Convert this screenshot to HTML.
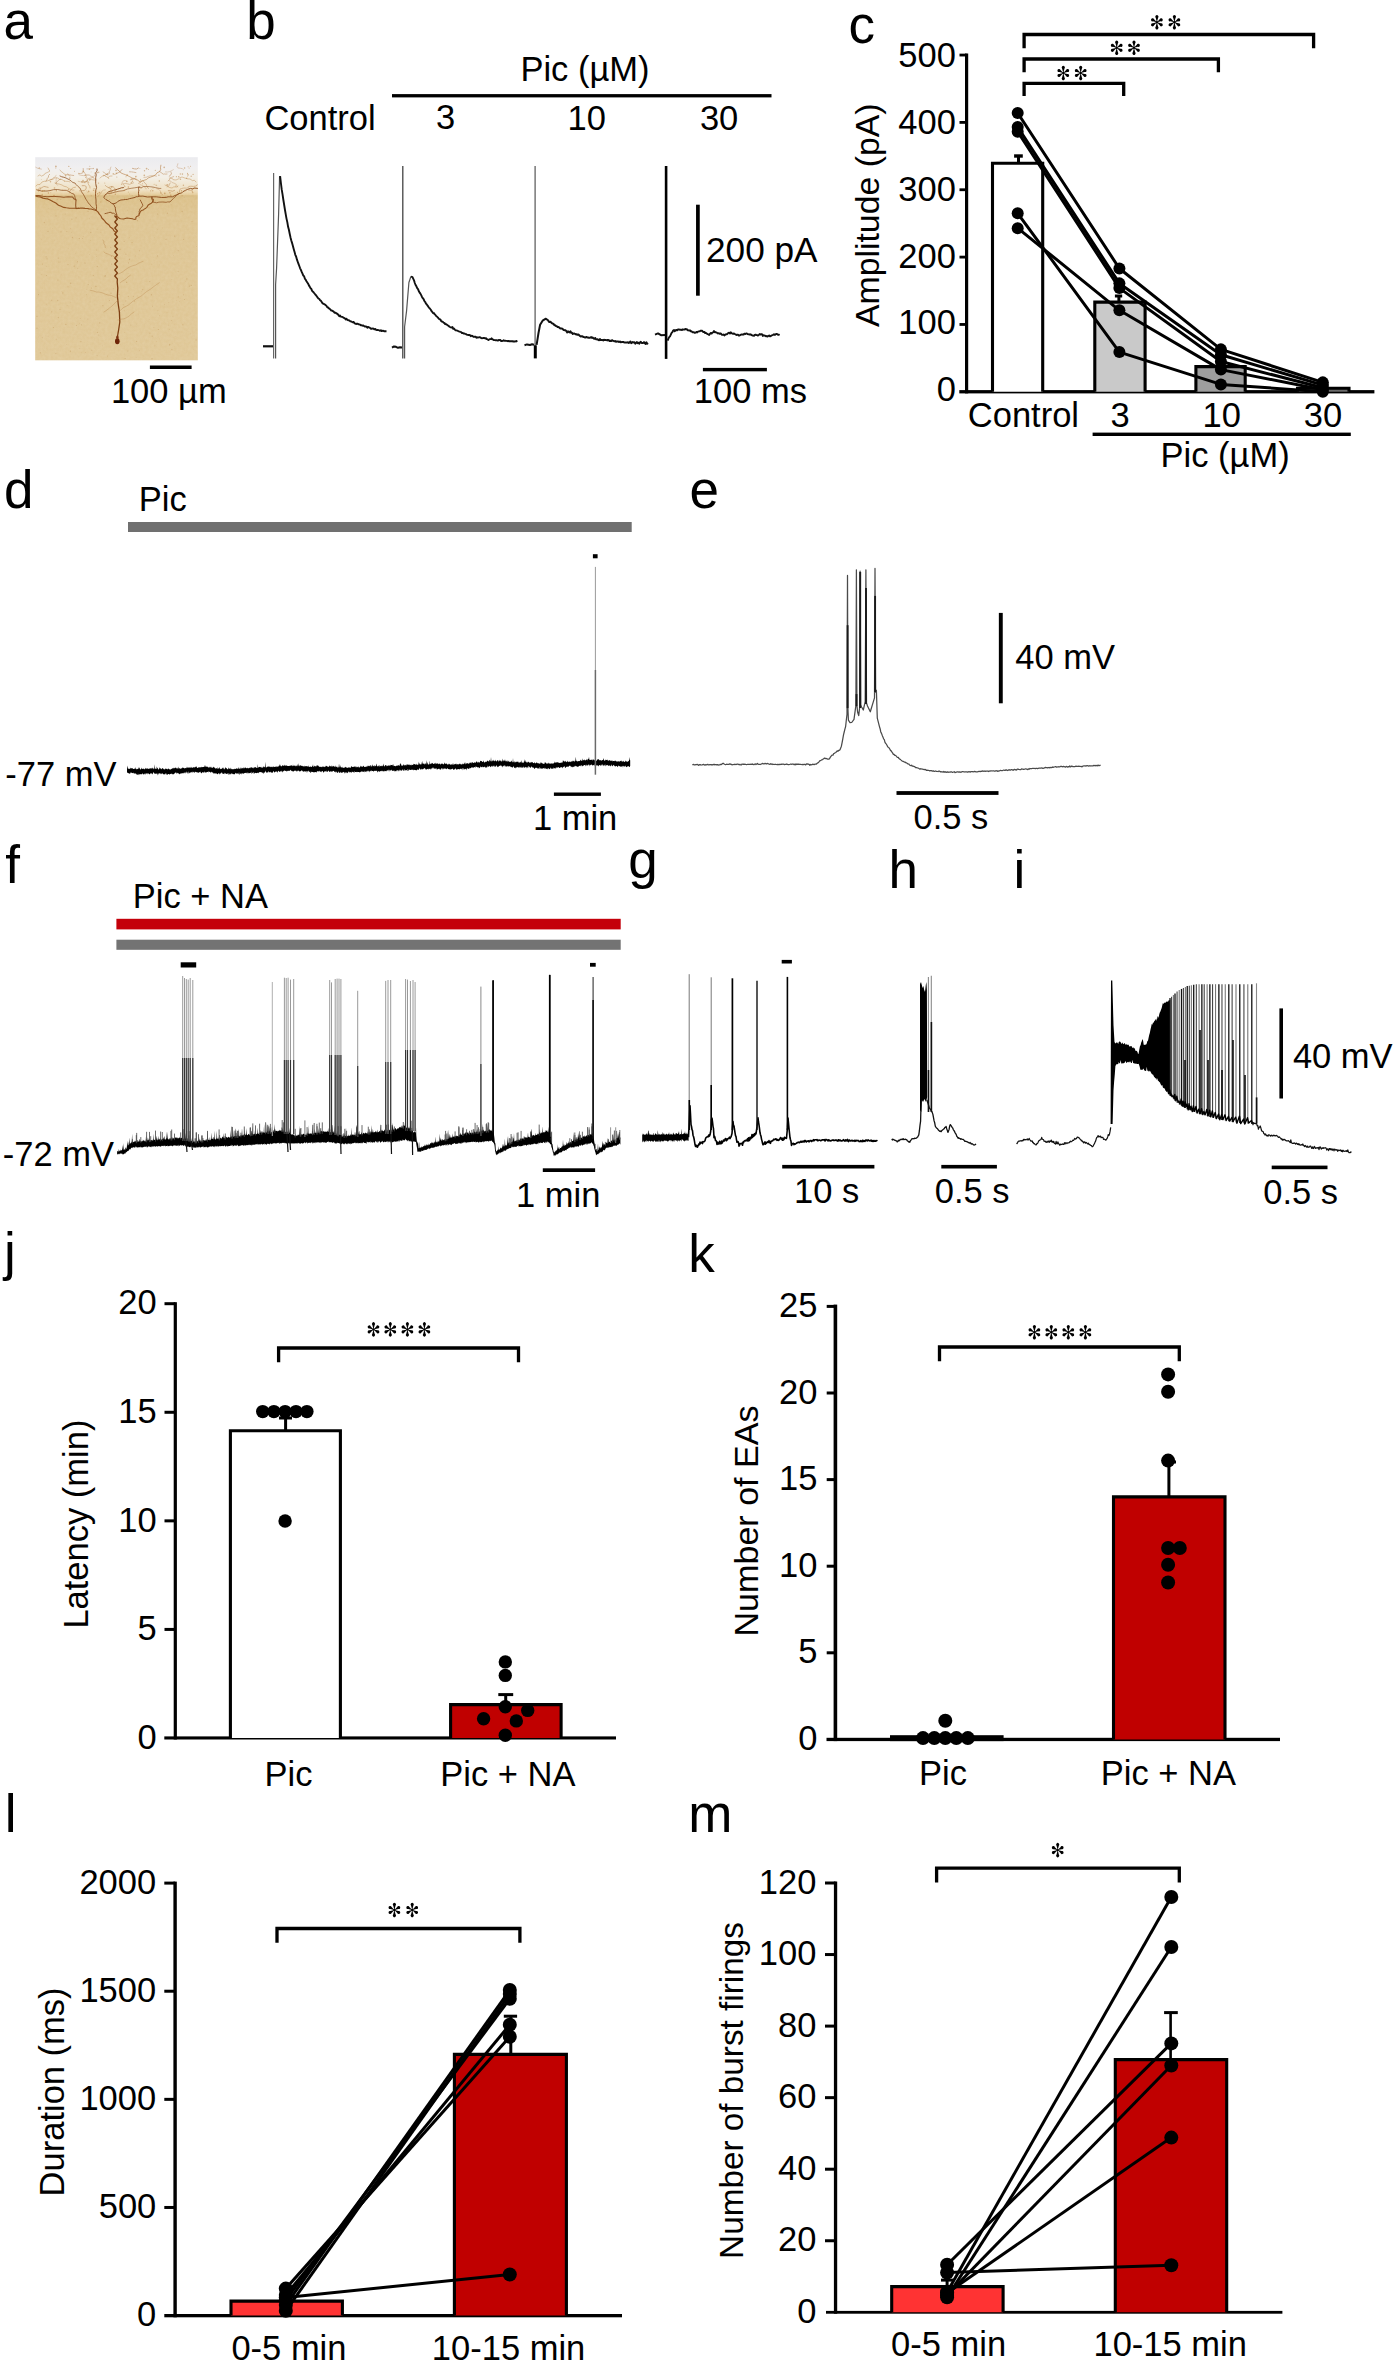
<!DOCTYPE html>
<html><head><meta charset="utf-8"><title>Figure</title><style>
html,body{margin:0;padding:0;background:#fff;}
body{width:1394px;height:2362px;overflow:hidden;}
svg{display:block;font-family:"Liberation Sans", sans-serif;}
</style></head><body>
<svg width="1394" height="2362" viewBox="0 0 1394 2362">
<rect width="1394" height="2362" fill="#fff"/>
<defs><g id="ast"><path d="M0,0 L-1.05,-3.6 A1.45,1.45 0 1 1 1.05,-3.6 Z" transform="rotate(0) scale(1,1.1)"/><path d="M0,0 L-1.05,-3.6 A1.45,1.45 0 1 1 1.05,-3.6 Z" transform="rotate(60) scale(1,1.0)"/><path d="M0,0 L-1.05,-3.6 A1.45,1.45 0 1 1 1.05,-3.6 Z" transform="rotate(120) scale(1,1.0)"/><path d="M0,0 L-1.05,-3.6 A1.45,1.45 0 1 1 1.05,-3.6 Z" transform="rotate(180) scale(1,1.1)"/><path d="M0,0 L-1.05,-3.6 A1.45,1.45 0 1 1 1.05,-3.6 Z" transform="rotate(240) scale(1,1.0)"/><path d="M0,0 L-1.05,-3.6 A1.45,1.45 0 1 1 1.05,-3.6 Z" transform="rotate(300) scale(1,1.0)"/><circle r="1.1"/></g><linearGradient id="ga" x1="0" y1="0" x2="0" y2="1"><stop offset="0" stop-color="#ebebef"/><stop offset="0.05" stop-color="#f0eff0"/><stop offset="0.10" stop-color="#f3efe6"/><stop offset="0.16" stop-color="#efe0c2"/><stop offset="0.185" stop-color="#e3c996"/><stop offset="0.19" stop-color="#d6b97f"/><stop offset="0.205" stop-color="#dabe86"/><stop offset="0.3" stop-color="#dcc28e"/><stop offset="1" stop-color="#dec593"/></linearGradient><filter id="tex" x="0" y="0" width="1" height="1"><feTurbulence type="fractalNoise" baseFrequency="0.35" numOctaves="2" seed="3"/><feColorMatrix values="0 0 0 0 1  0 0 0 0 0.97  0 0 0 0 0.88  0 0 0 0.16 0"/><feComposite in2="SourceGraphic" operator="in"/></filter></defs>
<text x="3.5" y="39.34" font-size="53" >a</text>
<text x="246.13" y="39.35" font-size="53" >b</text>
<text x="848.47" y="42.55" font-size="53" >c</text>
<text x="4.11" y="508.2" font-size="53" >d</text>
<text x="689.49" y="508.1" font-size="53" >e</text>
<text x="5.23" y="882.66" font-size="53" >f</text>
<text x="628.36" y="877.86" font-size="53" >g</text>
<text x="888.56" y="887.91" font-size="53" >h</text>
<text x="1013.52" y="887.91" font-size="53" >i</text>
<text x="4.11" y="1270.15" font-size="53" >j</text>
<text x="688.28" y="1272.06" font-size="53" >k</text>
<text x="4.72" y="1831.71" font-size="53" >l</text>
<text x="688.36" y="1831.51" font-size="53" >m</text>
<rect x="35.2" y="157.2" width="162.6" height="203.1" fill="url(#ga)"/>
<rect x="35.2" y="187.2" width="162.6" height="173.1" fill="#f6ead0" filter="url(#tex)"/>
<g fill="#b8894a" opacity="0.35"><circle cx="136.6" cy="341.4" r="0.61"/><circle cx="72.4" cy="237.5" r="0.65"/><circle cx="37.0" cy="328.2" r="0.62"/><circle cx="111.4" cy="238.0" r="0.41"/><circle cx="77.1" cy="262.7" r="0.50"/><circle cx="125.1" cy="358.5" r="0.62"/><circle cx="136.1" cy="357.4" r="0.39"/><circle cx="61.9" cy="291.8" r="0.32"/><circle cx="41.9" cy="274.8" r="0.49"/><circle cx="183.5" cy="294.7" r="0.51"/><circle cx="116.0" cy="228.3" r="0.30"/><circle cx="67.1" cy="305.7" r="0.38"/><circle cx="95.5" cy="185.9" r="0.63"/><circle cx="61.0" cy="231.8" r="0.65"/><circle cx="118.1" cy="332.7" r="0.56"/><circle cx="155.3" cy="201.1" r="0.52"/><circle cx="117.7" cy="336.9" r="0.44"/><circle cx="132.3" cy="195.5" r="0.46"/><circle cx="88.1" cy="211.3" r="0.63"/><circle cx="97.1" cy="355.6" r="0.54"/><circle cx="133.4" cy="296.3" r="0.57"/><circle cx="60.4" cy="261.9" r="0.40"/><circle cx="100.8" cy="202.0" r="0.69"/><circle cx="70.7" cy="302.2" r="0.42"/><circle cx="176.6" cy="300.5" r="0.35"/><circle cx="171.9" cy="349.7" r="0.66"/><circle cx="127.7" cy="210.5" r="0.38"/><circle cx="185.2" cy="281.4" r="0.37"/><circle cx="178.2" cy="296.9" r="0.53"/><circle cx="96.6" cy="256.7" r="0.40"/><circle cx="42.3" cy="337.7" r="0.49"/><circle cx="124.2" cy="241.3" r="0.60"/><circle cx="40.2" cy="250.0" r="0.31"/><circle cx="55.9" cy="353.6" r="0.56"/><circle cx="105.0" cy="276.4" r="0.65"/><circle cx="91.5" cy="288.0" r="0.57"/><circle cx="93.3" cy="275.6" r="0.61"/><circle cx="182.2" cy="211.5" r="0.67"/><circle cx="37.0" cy="316.3" r="0.62"/><circle cx="58.2" cy="258.1" r="0.63"/><circle cx="38.5" cy="294.6" r="0.62"/><circle cx="118.6" cy="311.6" r="0.39"/><circle cx="68.1" cy="248.4" r="0.37"/><circle cx="91.8" cy="350.3" r="0.53"/><circle cx="90.8" cy="232.5" r="0.68"/><circle cx="107.6" cy="355.9" r="0.51"/><circle cx="119.9" cy="341.3" r="0.60"/><circle cx="129.5" cy="259.5" r="0.65"/><circle cx="102.3" cy="345.9" r="0.33"/><circle cx="105.3" cy="275.6" r="0.68"/><circle cx="76.5" cy="325.5" r="0.57"/><circle cx="151.4" cy="294.8" r="0.69"/><circle cx="89.6" cy="254.5" r="0.38"/><circle cx="44.3" cy="222.3" r="0.67"/><circle cx="171.1" cy="204.8" r="0.54"/><circle cx="113.2" cy="288.7" r="0.56"/><circle cx="85.4" cy="352.6" r="0.49"/><circle cx="137.1" cy="295.8" r="0.37"/><circle cx="46.1" cy="256.8" r="0.61"/><circle cx="167.1" cy="312.3" r="0.35"/><circle cx="182.9" cy="324.8" r="0.65"/><circle cx="120.2" cy="344.6" r="0.32"/><circle cx="41.1" cy="188.7" r="0.40"/><circle cx="76.1" cy="217.8" r="0.53"/><circle cx="42.5" cy="288.0" r="0.37"/><circle cx="145.1" cy="188.9" r="0.42"/><circle cx="186.9" cy="278.9" r="0.62"/><circle cx="141.9" cy="291.5" r="0.38"/><circle cx="128.4" cy="192.1" r="0.62"/><circle cx="190.4" cy="333.9" r="0.32"/><circle cx="90.6" cy="240.6" r="0.35"/><circle cx="136.8" cy="324.0" r="0.43"/><circle cx="174.8" cy="324.0" r="0.35"/><circle cx="159.4" cy="338.9" r="0.38"/><circle cx="128.3" cy="296.4" r="0.54"/><circle cx="51.7" cy="300.3" r="0.55"/><circle cx="168.5" cy="325.1" r="0.43"/><circle cx="152.2" cy="336.2" r="0.66"/><circle cx="62.1" cy="189.8" r="0.56"/><circle cx="70.7" cy="283.3" r="0.68"/><circle cx="97.1" cy="229.2" r="0.48"/><circle cx="141.8" cy="202.8" r="0.45"/><circle cx="57.7" cy="300.5" r="0.63"/><circle cx="96.7" cy="249.9" r="0.52"/><circle cx="70.7" cy="228.3" r="0.43"/><circle cx="109.7" cy="199.4" r="0.60"/><circle cx="129.2" cy="237.4" r="0.33"/><circle cx="158.8" cy="208.0" r="0.35"/><circle cx="57.2" cy="199.3" r="0.66"/><circle cx="79.4" cy="238.5" r="0.63"/><circle cx="135.8" cy="217.8" r="0.47"/><circle cx="178.2" cy="250.6" r="0.58"/><circle cx="51.7" cy="311.8" r="0.61"/><circle cx="168.8" cy="302.6" r="0.45"/><circle cx="46.5" cy="275.5" r="0.60"/><circle cx="66.8" cy="231.6" r="0.51"/><circle cx="156.4" cy="341.3" r="0.35"/><circle cx="65.8" cy="324.4" r="0.56"/><circle cx="152.0" cy="358.7" r="0.68"/><circle cx="171.6" cy="320.5" r="0.46"/><circle cx="139.2" cy="217.3" r="0.60"/><circle cx="157.9" cy="310.8" r="0.48"/><circle cx="96.9" cy="258.3" r="0.31"/><circle cx="171.8" cy="279.6" r="0.46"/><circle cx="124.2" cy="310.8" r="0.45"/><circle cx="169.6" cy="345.3" r="0.45"/><circle cx="58.3" cy="317.6" r="0.70"/><circle cx="60.0" cy="309.3" r="0.63"/><circle cx="184.0" cy="206.7" r="0.34"/><circle cx="194.9" cy="205.5" r="0.37"/><circle cx="128.5" cy="262.9" r="0.60"/><circle cx="66.8" cy="344.4" r="0.39"/><circle cx="159.7" cy="197.0" r="0.49"/><circle cx="41.4" cy="239.8" r="0.42"/><circle cx="151.8" cy="264.4" r="0.32"/><circle cx="196.1" cy="339.9" r="0.67"/><circle cx="75.8" cy="253.8" r="0.39"/><circle cx="56.3" cy="190.9" r="0.50"/><circle cx="56.0" cy="215.9" r="0.64"/><circle cx="114.0" cy="217.2" r="0.57"/><circle cx="78.9" cy="276.9" r="0.41"/><circle cx="119.1" cy="294.6" r="0.51"/><circle cx="99.7" cy="322.9" r="0.65"/><circle cx="65.0" cy="208.9" r="0.35"/><circle cx="193.5" cy="349.1" r="0.39"/><circle cx="192.0" cy="221.4" r="0.50"/><circle cx="116.1" cy="344.5" r="0.32"/><circle cx="86.8" cy="289.7" r="0.33"/><circle cx="74.2" cy="266.2" r="0.65"/><circle cx="158.4" cy="329.5" r="0.60"/><circle cx="149.9" cy="333.1" r="0.57"/><circle cx="154.4" cy="237.7" r="0.37"/><circle cx="157.7" cy="214.1" r="0.67"/><circle cx="132.0" cy="242.6" r="0.67"/><circle cx="61.1" cy="274.8" r="0.34"/><circle cx="191.2" cy="285.4" r="0.62"/><circle cx="81.5" cy="324.8" r="0.58"/><circle cx="139.6" cy="350.7" r="0.47"/><circle cx="102.9" cy="305.7" r="0.63"/><circle cx="90.0" cy="301.8" r="0.38"/><circle cx="124.8" cy="319.1" r="0.33"/><circle cx="153.1" cy="187.9" r="0.68"/><circle cx="111.5" cy="256.4" r="0.59"/><circle cx="120.2" cy="312.4" r="0.33"/><circle cx="126.6" cy="282.4" r="0.67"/><circle cx="42.6" cy="264.0" r="0.55"/><circle cx="124.6" cy="198.1" r="0.54"/><circle cx="71.9" cy="219.2" r="0.65"/><circle cx="68.0" cy="264.3" r="0.60"/><circle cx="149.8" cy="281.6" r="0.62"/><circle cx="111.0" cy="293.2" r="0.63"/><circle cx="145.1" cy="296.9" r="0.46"/><circle cx="125.9" cy="254.2" r="0.60"/><circle cx="97.3" cy="266.4" r="0.60"/><circle cx="117.1" cy="244.1" r="0.63"/><circle cx="97.4" cy="332.3" r="0.61"/><circle cx="108.0" cy="309.3" r="0.31"/><circle cx="98.8" cy="335.0" r="0.53"/><circle cx="125.8" cy="300.9" r="0.57"/><circle cx="129.9" cy="258.4" r="0.37"/><circle cx="83.2" cy="236.2" r="0.47"/><circle cx="196.6" cy="246.6" r="0.48"/><circle cx="95.9" cy="286.4" r="0.68"/><circle cx="179.0" cy="250.9" r="0.41"/><circle cx="178.2" cy="271.2" r="0.57"/><circle cx="48.0" cy="336.1" r="0.43"/><circle cx="115.6" cy="219.7" r="0.47"/><circle cx="169.2" cy="329.3" r="0.49"/><circle cx="159.5" cy="264.9" r="0.45"/><circle cx="123.9" cy="220.3" r="0.43"/><circle cx="149.7" cy="319.3" r="0.32"/><circle cx="153.9" cy="327.5" r="0.48"/><circle cx="46.2" cy="304.1" r="0.40"/><circle cx="139.5" cy="250.8" r="0.55"/><circle cx="77.7" cy="268.2" r="0.51"/><circle cx="137.5" cy="220.6" r="0.68"/><circle cx="82.6" cy="238.5" r="0.40"/><circle cx="47.0" cy="258.8" r="0.61"/><circle cx="150.2" cy="219.2" r="0.35"/><circle cx="87.8" cy="319.0" r="0.50"/><circle cx="184.5" cy="299.5" r="0.55"/><circle cx="159.5" cy="315.8" r="0.44"/><circle cx="77.5" cy="261.4" r="0.50"/><circle cx="59.0" cy="262.0" r="0.56"/><circle cx="58.0" cy="209.2" r="0.37"/><circle cx="81.7" cy="352.6" r="0.31"/><circle cx="65.7" cy="213.9" r="0.49"/><circle cx="38.6" cy="265.0" r="0.37"/><circle cx="79.5" cy="323.2" r="0.37"/><circle cx="135.3" cy="255.9" r="0.47"/><circle cx="167.4" cy="213.2" r="0.67"/><circle cx="179.7" cy="301.6" r="0.32"/><circle cx="142.7" cy="289.7" r="0.61"/><circle cx="70.5" cy="351.2" r="0.65"/><circle cx="54.6" cy="240.1" r="0.31"/><circle cx="169.7" cy="344.5" r="0.70"/><circle cx="134.5" cy="301.1" r="0.57"/><circle cx="127.8" cy="351.0" r="0.54"/><circle cx="90.1" cy="274.5" r="0.31"/><circle cx="152.5" cy="306.0" r="0.47"/><circle cx="172.9" cy="316.7" r="0.43"/><circle cx="48.6" cy="208.2" r="0.37"/><circle cx="85.0" cy="263.1" r="0.67"/><circle cx="80.9" cy="341.6" r="0.57"/><circle cx="173.3" cy="255.4" r="0.30"/><circle cx="162.6" cy="227.9" r="0.36"/><circle cx="164.6" cy="304.7" r="0.38"/><circle cx="79.2" cy="348.7" r="0.41"/><circle cx="149.0" cy="207.8" r="0.63"/><circle cx="55.1" cy="275.0" r="0.31"/><circle cx="124.5" cy="332.6" r="0.33"/><circle cx="80.2" cy="318.3" r="0.54"/><circle cx="86.4" cy="294.7" r="0.48"/><circle cx="174.7" cy="236.2" r="0.60"/><circle cx="138.3" cy="314.1" r="0.45"/><circle cx="152.6" cy="306.8" r="0.45"/><circle cx="40.4" cy="352.8" r="0.59"/><circle cx="69.1" cy="312.4" r="0.41"/><circle cx="111.6" cy="334.9" r="0.48"/><circle cx="82.5" cy="238.4" r="0.33"/><circle cx="71.5" cy="232.4" r="0.37"/><circle cx="46.3" cy="266.3" r="0.39"/><circle cx="154.8" cy="345.8" r="0.41"/><circle cx="128.1" cy="273.4" r="0.33"/><circle cx="56.3" cy="339.2" r="0.49"/><circle cx="165.4" cy="196.8" r="0.54"/><circle cx="175.2" cy="336.2" r="0.30"/><circle cx="120.0" cy="249.4" r="0.60"/><circle cx="48.0" cy="231.3" r="0.63"/><circle cx="111.6" cy="264.1" r="0.69"/><circle cx="87.6" cy="192.5" r="0.46"/><circle cx="60.8" cy="199.5" r="0.53"/><circle cx="189.3" cy="286.1" r="0.56"/><circle cx="88.2" cy="284.6" r="0.60"/><circle cx="130.8" cy="325.0" r="0.52"/><circle cx="68.0" cy="286.7" r="0.50"/><circle cx="62.8" cy="293.0" r="0.63"/><circle cx="57.9" cy="280.1" r="0.59"/><circle cx="100.9" cy="232.2" r="0.45"/><circle cx="123.2" cy="304.7" r="0.52"/><circle cx="53.4" cy="327.6" r="0.67"/><circle cx="52.5" cy="228.6" r="0.37"/><circle cx="172.6" cy="343.7" r="0.32"/><circle cx="89.6" cy="218.7" r="0.49"/><circle cx="184.2" cy="197.4" r="0.37"/><circle cx="114.4" cy="276.4" r="0.60"/><circle cx="106.5" cy="209.8" r="0.44"/><circle cx="193.9" cy="315.9" r="0.35"/><circle cx="166.0" cy="239.3" r="0.61"/><circle cx="38.2" cy="336.9" r="0.36"/><circle cx="109.4" cy="300.4" r="0.50"/><circle cx="62.8" cy="209.4" r="0.41"/><circle cx="44.6" cy="222.9" r="0.35"/><circle cx="110.8" cy="247.3" r="0.53"/><circle cx="81.3" cy="191.1" r="0.43"/><circle cx="157.5" cy="229.7" r="0.46"/><circle cx="157.4" cy="256.0" r="0.65"/><circle cx="183.6" cy="239.3" r="0.59"/><circle cx="76.9" cy="209.5" r="0.48"/><circle cx="133.0" cy="348.1" r="0.36"/></g>
<polyline points="117.2,338.0 118.6,330.0 119.8,322.0 119.4,312.0 118.2,304.0 117.4,296.0 117.8,288.0 117.2,282.0 117.4,279.0 114.8,276.0 117.4,273.0 114.8,270.0 117.4,267.0 114.8,264.0 117.4,261.0 114.8,258.0 117.4,255.0 114.8,252.0 117.4,249.0 114.8,246.0 117.4,243.0 114.8,240.0 117.4,237.0 114.8,234.0 117.4,231.0 114.8,228.0 117.4,225.0 114.8,222.0 117.4,219.0 114.8,216.0 117.0,216.8" fill="none" stroke="#7e3f12" stroke-width="1.3" stroke-linejoin="round" stroke-linejoin="miter"/>
<ellipse cx="117.3" cy="341.2" rx="2.3" ry="3.0" fill="#6e2408"/>
<ellipse cx="117.4" cy="337.5" rx="1.2" ry="2" fill="#7e3412"/>
<polyline points="116.0,233.0 115.3,231.8 114.0,230.9 113.0,229.0 111.4,227.7 110.2,226.9 109.0,225.0 107.0,223.5 106.1,222.8 105.0,221.3 103.9,220.0 101.8,218.0 101.0,216.0 99.2,213.9 97.9,211.9 96.0,210.4 93.6,209.8 92.1,209.2 91.0,209.0 89.1,208.9 87.6,208.5 85.0,208.4 82.5,208.1 80.8,208.0 79.2,208.4 78.3,208.1 76.4,208.5 76.0,208.2 72.7,208.2 69.6,208.2 66.3,207.8 63.7,207.4 61.2,206.2 58.5,205.2 55.8,203.0 52.8,201.6 50.1,200.0 47.8,198.9 45.9,198.8 43.0,198.1 40.2,196.9 38.2,196.8 36.0,196.2" fill="none" stroke="#8e4c18" stroke-width="1.15" stroke-linejoin="round" opacity="0.95" stroke-linecap="round"/>
<polyline points="76.0,208.2 75.7,205.5 75.8,202.9 76.0,200.0 74.6,199.0 74.1,199.0 72.7,197.1 68.0,196.8 63.8,197.2 59.8,196.8 55.1,196.6 51.2,196.5 46.9,196.8 42.9,196.2 38.9,195.4 36.0,195.5" fill="none" stroke="#8a4818" stroke-width="1.05" stroke-linejoin="round" opacity="0.9" stroke-linecap="round"/>
<polyline points="76.0,200.0 75.2,198.1 74.6,195.5 74.0,194.2 71.3,193.2 69.1,191.6 66.3,190.3 61.7,190.3 57.5,189.5 53.4,189.7 49.9,190.6 47.0,191.0 43.7,191.0 41.3,191.0 39.0,190.3 37.0,190.0" fill="none" stroke="#8a4818" stroke-width="0.9" stroke-linejoin="round" opacity="0.8" stroke-linecap="round"/>
<polyline points="96.0,210.4 95.5,209.5 93.2,208.1 92.0,207.0 91.1,206.4 89.8,204.3 88.9,203.9 87.3,201.3 85.9,199.2 84.4,196.2 83.2,194.1 81.4,191.7 80.5,189.0 79.7,187.8 77.6,186.1 76.0,184.5 75.1,183.1 72.9,182.5 71.4,181.3 69.9,180.0 67.9,179.0 66.0,178.0 64.0,177.3 61.6,176.7 60.0,176.0" fill="none" stroke="#8a4818" stroke-width="0.9" stroke-linejoin="round" opacity="0.8" stroke-linecap="round"/>
<polyline points="96.3,210.4 96.5,206.6 96.0,203.7 96.0,200.0 95.6,196.7 95.5,193.7 95.8,190.0 96.6,187.4 95.7,183.6 95.7,180.0 95.7,177.7 96.2,174.8 95.7,172.9 96.5,171.6 97.1,170.4 97.0,169.0" fill="none" stroke="#8a4818" stroke-width="1.0" stroke-linejoin="round" opacity="0.85" stroke-linecap="round"/>
<polyline points="105.0,213.6 106.4,213.3 108.6,212.7 110.0,212.3 111.3,212.4 111.6,213.2 113.5,213.2 114.8,213.9 115.7,214.8 116.8,215.0" fill="none" stroke="#8a4818" stroke-width="0.9" stroke-linejoin="round" opacity="0.9" stroke-linecap="round"/>
<polyline points="117.0,216.8 118.1,217.2 119.5,218.5 120.9,218.7 123.6,219.0 127.1,218.1 130.6,218.4 132.5,218.7 133.1,218.9 135.1,219.4 135.9,219.0 135.8,217.8 136.4,216.8 137.5,216.1 138.3,215.9 139.0,215.5 139.2,214.0 139.9,212.9 140.3,211.6 141.4,210.6 143.3,210.0 144.2,209.1 145.8,208.2 146.9,207.3 148.0,205.2 149.4,204.2 151.4,203.2 153.2,201.3 153.4,199.3 152.0,198.9 151.9,197.4" fill="none" stroke="#8e4c18" stroke-width="1.05" stroke-linejoin="round" opacity="0.95" stroke-linecap="round"/>
<polyline points="117.0,216.8 116.8,214.8 116.0,212.4 115.5,210.0 115.4,208.8 115.2,206.9 114.5,206.5 114.3,205.3 114.0,204.7 113.2,203.9 111.2,203.0 109.4,201.4 108.0,200.7 106.0,199.6 105.3,198.9 103.7,197.4 104.1,196.9 104.6,195.7 105.0,194.9 106.5,194.2 107.5,192.6 108.9,191.6 110.3,191.2 111.6,191.1 113.4,190.3 115.4,189.8 117.4,189.2 119.9,188.4 121.4,187.8 123.3,187.7 124.0,187.1" fill="none" stroke="#8a4818" stroke-width="1.0" stroke-linejoin="round" opacity="0.9" stroke-linecap="round"/>
<polyline points="113.2,203.9 116.4,202.9 118.1,201.2 120.9,200.0 123.2,199.8 125.3,199.5 127.4,199.4 129.3,198.7 131.8,198.2 135.1,197.4 136.1,196.7 137.6,196.7 139.0,196.2 138.5,193.5 138.6,191.4 139.0,190.0 138.7,189.6 138.6,188.3 139.0,187.1" fill="none" stroke="#8a4818" stroke-width="1.0" stroke-linejoin="round" opacity="0.9" stroke-linecap="round"/>
<polyline points="139.0,187.1 134.7,187.8 131.2,188.3 127.4,189.0 123.3,190.7 118.9,191.2 114.5,192.3 112.0,192.9 110.1,193.5 108.0,193.6" fill="none" stroke="#8a4818" stroke-width="0.8" stroke-linejoin="round" opacity="0.75" stroke-linecap="round"/>
<polyline points="139.0,187.1 141.6,187.5 143.4,186.6 146.7,186.5 149.2,186.6 150.8,186.8 153.2,187.1 155.3,187.6 159.2,188.4 160.9,188.4" fill="none" stroke="#8a4818" stroke-width="0.8" stroke-linejoin="round" opacity="0.75" stroke-linecap="round"/>
<polyline points="139.0,196.2 142.9,196.1 147.5,197.0 151.9,196.8 156.3,196.8 161.7,197.5 166.1,197.4 168.1,196.8 169.9,196.8 172.6,196.8 174.0,196.0 176.6,194.8 179.0,193.6 181.8,192.9 182.9,191.7 185.5,190.3 187.6,189.4 188.6,189.0 190.6,188.4 192.3,188.9 194.4,188.0 197.5,188.4" fill="none" stroke="#8a4818" stroke-width="1.0" stroke-linejoin="round" opacity="0.9" stroke-linecap="round"/>
<polyline points="140.3,200.0 141.1,201.7 142.1,203.6 142.9,205.2 141.7,207.3 140.0,208.7 139.6,210.4 139.1,211.7 139.3,212.6 139.0,214.2" fill="none" stroke="#8a4818" stroke-width="0.9" stroke-linejoin="round" opacity="0.9" stroke-linecap="round"/>
<polyline points="151.9,196.8 151.9,198.8 152.4,200.0 152.5,202.0 156.7,202.8 158.9,202.1 162.9,202.0 166.1,202.3 167.7,201.9 170.0,202.0 170.9,200.8 171.9,200.1 173.2,198.7 175.0,196.8 176.6,195.3 179.0,193.6" fill="none" stroke="#8a4818" stroke-width="0.9" stroke-linejoin="round" opacity="0.8" stroke-linecap="round"/>
<polyline points="115.7,167.7 117.1,169.4 119.5,171.3 120.9,172.9 123.2,173.9 125.3,174.6 127.4,175.5 129.9,176.8 132.2,178.1 135.1,178.7 136.8,179.5 138.4,180.7 140.3,182.0 142.5,180.9 145.0,180.0 146.7,179.4 148.1,178.0 150.3,177.2 153.2,176.1 155.7,174.8 157.0,172.8 159.6,171.6 160.7,169.6 160.5,167.7 160.9,165.2" fill="none" stroke="#b27436" stroke-width="0.8" stroke-linejoin="round" opacity="0.7" stroke-linecap="round"/>
<polyline points="159.6,171.6 161.8,172.9 162.2,173.5 163.5,174.2 164.9,173.9 165.5,174.1 167.0,174.0" fill="none" stroke="#b27436" stroke-width="0.7" stroke-linejoin="round" opacity="0.6" stroke-linecap="round"/>
<polyline points="36.0,186.0 37.5,184.6 40.0,184.5 42.0,182.0 44.2,181.3 47.3,180.9 50.0,180.0 53.2,179.1 54.9,177.8 58.0,178.0 59.5,179.3 62.0,179.5 64.0,181.0 65.8,181.3 68.3,181.4 70.0,182.0" fill="none" stroke="#b8813f" stroke-width="0.75" stroke-linejoin="round" opacity="0.55" stroke-linecap="round"/>
<polyline points="38.0,176.0 39.9,174.8 41.4,176.1 44.0,175.0 44.9,173.5 48.1,172.1 50.0,171.0 48.9,170.0 48.7,169.0 48.0,168.0" fill="none" stroke="#b8813f" stroke-width="0.75" stroke-linejoin="round" opacity="0.55" stroke-linecap="round"/>
<polyline points="55.0,183.0 56.4,183.6 59.2,184.1 62.0,185.0 64.1,186.3 66.4,186.8 68.0,188.0 70.5,189.3 72.6,190.0 74.0,190.0" fill="none" stroke="#b8813f" stroke-width="0.75" stroke-linejoin="round" opacity="0.55" stroke-linecap="round"/>
<polyline points="84.0,172.0 84.6,173.2 85.7,174.0 86.0,176.0 86.8,177.7 87.1,179.1 88.0,182.0 88.2,184.0 89.8,186.5 90.0,188.0" fill="none" stroke="#b8813f" stroke-width="0.75" stroke-linejoin="round" opacity="0.55" stroke-linecap="round"/>
<polyline points="100.0,178.0 101.3,176.9 102.3,176.2 104.0,175.0 105.2,176.3 107.5,177.0 108.0,178.0 108.6,176.9 109.9,176.1 112.0,176.0" fill="none" stroke="#b8813f" stroke-width="0.75" stroke-linejoin="round" opacity="0.55" stroke-linecap="round"/>
<polyline points="170.0,178.0 172.7,178.8 173.2,179.7 176.0,180.0 178.6,178.8 179.7,177.8 182.0,177.0 184.8,178.0 187.9,178.9 190.0,179.0 192.6,180.7 194.3,180.2 196.0,182.0" fill="none" stroke="#b8813f" stroke-width="0.75" stroke-linejoin="round" opacity="0.55" stroke-linecap="round"/>
<polyline points="165.0,185.0 167.3,186.2 169.5,187.5 172.0,188.0 173.8,186.9 176.7,187.0 178.0,186.0" fill="none" stroke="#b8813f" stroke-width="0.75" stroke-linejoin="round" opacity="0.55" stroke-linecap="round"/>
<polyline points="60.0,170.0 61.4,171.8 63.2,172.8 64.0,174.0 64.8,174.3 67.8,174.8 70.0,176.0" fill="none" stroke="#b8813f" stroke-width="0.75" stroke-linejoin="round" opacity="0.55" stroke-linecap="round"/>
<polyline points="60.7,179.2 58.7,179.9 57.7,181.3 56.5,182.5 54.9,183.6" fill="none" stroke="#a8692c" stroke-width="0.7" stroke-linejoin="round" opacity="0.54" stroke-linecap="round" stroke-dasharray="1.6 0.9"/>
<polyline points="105.4,185.5 106.7,186.7 108.5,187.6 110.1,188.7 111.7,189.8 110.5,191.1 110.0,192.6" fill="none" stroke="#a8692c" stroke-width="0.7" stroke-linejoin="round" opacity="0.60" stroke-linecap="round" stroke-dasharray="1.6 0.9"/>
<polyline points="78.2,181.3 80.3,181.8 82.5,182.0 84.6,181.7 86.8,181.8 88.9,182.3" fill="none" stroke="#a8692c" stroke-width="0.7" stroke-linejoin="round" opacity="0.38" stroke-linecap="round" stroke-dasharray="1.6 0.9"/>
<polyline points="138.6,183.3 140.4,182.4 141.3,181.0 140.5,179.5" fill="none" stroke="#a8692c" stroke-width="0.7" stroke-linejoin="round" opacity="0.61" stroke-linecap="round" stroke-dasharray="1.6 0.9"/>
<polyline points="93.4,168.6 91.2,168.6 89.0,168.8 86.8,168.9" fill="none" stroke="#a8692c" stroke-width="0.7" stroke-linejoin="round" opacity="0.44" stroke-linecap="round" stroke-dasharray="1.6 0.9"/>
<polyline points="143.9,177.4 146.1,177.3 148.0,176.5 150.0,175.8 152.2,175.8 154.4,175.7 156.4,176.2" fill="none" stroke="#a8692c" stroke-width="0.7" stroke-linejoin="round" opacity="0.47" stroke-linecap="round" stroke-dasharray="1.6 0.9"/>
<polyline points="130.3,179.8 132.4,179.3 134.6,179.0 136.4,179.9" fill="none" stroke="#a8692c" stroke-width="0.7" stroke-linejoin="round" opacity="0.58" stroke-linecap="round" stroke-dasharray="1.6 0.9"/>
<polyline points="173.7,176.6 171.7,177.3 169.8,178.2 169.4,179.7 168.1,180.9" fill="none" stroke="#a8692c" stroke-width="0.7" stroke-linejoin="round" opacity="0.52" stroke-linecap="round" stroke-dasharray="1.6 0.9"/>
<polyline points="56.1,175.6 54.7,176.8 53.5,178.0 52.0,179.2 50.0,179.8" fill="none" stroke="#a8692c" stroke-width="0.7" stroke-linejoin="round" opacity="0.50" stroke-linecap="round" stroke-dasharray="1.6 0.9"/>
<polyline points="81.9,190.7 84.1,190.6 85.7,189.6 86.2,188.1 86.2,186.5 84.4,185.6 82.2,185.7" fill="none" stroke="#a8692c" stroke-width="0.7" stroke-linejoin="round" opacity="0.61" stroke-linecap="round" stroke-dasharray="1.6 0.9"/>
<polyline points="135.9,172.6 133.8,172.2 131.7,171.9 129.5,171.8" fill="none" stroke="#a8692c" stroke-width="0.7" stroke-linejoin="round" opacity="0.59" stroke-linecap="round" stroke-dasharray="1.6 0.9"/>
<polyline points="105.4,189.9 103.3,190.2 101.8,191.3 101.3,192.8 100.3,194.2 98.7,195.3 97.8,196.7" fill="none" stroke="#a8692c" stroke-width="0.7" stroke-linejoin="round" opacity="0.38" stroke-linecap="round" stroke-dasharray="1.6 0.9"/>
<polyline points="108.4,173.0 106.7,174.0 105.2,175.2 103.3,175.9" fill="none" stroke="#a8692c" stroke-width="0.7" stroke-linejoin="round" opacity="0.64" stroke-linecap="round" stroke-dasharray="1.6 0.9"/>
<polyline points="148.6,188.4 147.1,187.2 146.6,185.7 146.3,184.2 144.8,183.1 144.0,181.7 142.4,180.6" fill="none" stroke="#a8692c" stroke-width="0.7" stroke-linejoin="round" opacity="0.52" stroke-linecap="round" stroke-dasharray="1.6 0.9"/>
<polyline points="94.1,178.6 93.3,177.2 94.2,175.8 95.1,174.4 94.7,172.9" fill="none" stroke="#a8692c" stroke-width="0.7" stroke-linejoin="round" opacity="0.49" stroke-linecap="round" stroke-dasharray="1.6 0.9"/>
<polyline points="182.3,168.6 180.1,168.2 178.0,168.0 177.0,166.6 177.5,165.1 177.9,163.6" fill="none" stroke="#a8692c" stroke-width="0.7" stroke-linejoin="round" opacity="0.42" stroke-linecap="round" stroke-dasharray="1.6 0.9"/>
<polyline points="84.8,175.2 87.0,175.0 89.2,175.0 90.7,176.1 92.7,176.8" fill="none" stroke="#a8692c" stroke-width="0.7" stroke-linejoin="round" opacity="0.58" stroke-linecap="round" stroke-dasharray="1.6 0.9"/>
<polyline points="103.1,171.9 104.7,172.9 106.0,174.2 107.8,175.0" fill="none" stroke="#a8692c" stroke-width="0.7" stroke-linejoin="round" opacity="0.54" stroke-linecap="round" stroke-dasharray="1.6 0.9"/>
<polyline points="188.4,187.6 186.3,188.1 184.1,188.0 181.9,188.4 180.0,189.1 179.5,190.6 179.4,192.2" fill="none" stroke="#a8692c" stroke-width="0.7" stroke-linejoin="round" opacity="0.51" stroke-linecap="round" stroke-dasharray="1.6 0.9"/>
<polyline points="40.0,187.5 38.8,188.8 38.4,190.3 39.1,191.7" fill="none" stroke="#a8692c" stroke-width="0.7" stroke-linejoin="round" opacity="0.59" stroke-linecap="round" stroke-dasharray="1.6 0.9"/>
<polyline points="188.3,189.9 190.4,190.3 192.6,190.1 192.8,188.6 195.0,188.4" fill="none" stroke="#a8692c" stroke-width="0.7" stroke-linejoin="round" opacity="0.61" stroke-linecap="round" stroke-dasharray="1.6 0.9"/>
<polyline points="167.5,187.0 168.8,185.7 169.3,184.2 170.4,182.9" fill="none" stroke="#a8692c" stroke-width="0.7" stroke-linejoin="round" opacity="0.62" stroke-linecap="round" stroke-dasharray="1.6 0.9"/>
<polyline points="49.7,174.3 48.5,175.6 48.5,177.1 47.3,178.4 46.9,179.9 46.0,181.3" fill="none" stroke="#a8692c" stroke-width="0.7" stroke-linejoin="round" opacity="0.61" stroke-linecap="round" stroke-dasharray="1.6 0.9"/>
<polyline points="188.8,186.5 191.0,186.2 193.1,186.4 195.3,186.2 197.1,185.3 197.3,184.7" fill="none" stroke="#a8692c" stroke-width="0.7" stroke-linejoin="round" opacity="0.57" stroke-linecap="round" stroke-dasharray="1.6 0.9"/>
<polyline points="169.2,176.2 170.7,175.1 171.4,173.7 171.0,172.1" fill="none" stroke="#a8692c" stroke-width="0.7" stroke-linejoin="round" opacity="0.63" stroke-linecap="round" stroke-dasharray="1.6 0.9"/>
<polyline points="138.4,168.0 136.8,169.0 134.6,168.9 132.5,168.4" fill="none" stroke="#a8692c" stroke-width="0.7" stroke-linejoin="round" opacity="0.69" stroke-linecap="round" stroke-dasharray="1.6 0.9"/>
<polyline points="108.9,187.5 110.8,186.7 113.0,186.7 114.4,187.9 115.4,189.2 115.7,190.8 114.6,192.1" fill="none" stroke="#a8692c" stroke-width="0.7" stroke-linejoin="round" opacity="0.64" stroke-linecap="round" stroke-dasharray="1.6 0.9"/>
<polyline points="41.4,169.1 39.3,168.7 37.3,168.1 35.7,167.2" fill="none" stroke="#a8692c" stroke-width="0.7" stroke-linejoin="round" opacity="0.43" stroke-linecap="round" stroke-dasharray="1.6 0.9"/>
<polyline points="168.3,190.7 170.5,190.8 172.6,191.2 174.5,190.4" fill="none" stroke="#a8692c" stroke-width="0.7" stroke-linejoin="round" opacity="0.63" stroke-linecap="round" stroke-dasharray="1.6 0.9"/>
<polyline points="169.0,180.7 171.0,181.2 172.1,182.5 174.1,183.2 176.0,184.0 176.6,185.5 177.4,186.9" fill="none" stroke="#a8692c" stroke-width="0.7" stroke-linejoin="round" opacity="0.41" stroke-linecap="round" stroke-dasharray="1.6 0.9"/>
<polyline points="96.4,179.9 94.2,180.0 92.0,179.7 89.9,179.4" fill="none" stroke="#a8692c" stroke-width="0.7" stroke-linejoin="round" opacity="0.48" stroke-linecap="round" stroke-dasharray="1.6 0.9"/>
<polyline points="38.6,191.0 40.1,189.8 40.5,188.3 42.2,187.4 44.1,186.5 46.2,186.9 48.3,187.4" fill="none" stroke="#a8692c" stroke-width="0.7" stroke-linejoin="round" opacity="0.65" stroke-linecap="round" stroke-dasharray="1.6 0.9"/>
<polyline points="133.6,182.8 131.5,183.4 129.8,184.3 127.7,183.9 125.6,183.4 123.5,183.8" fill="none" stroke="#a8692c" stroke-width="0.7" stroke-linejoin="round" opacity="0.49" stroke-linecap="round" stroke-dasharray="1.6 0.9"/>
<polyline points="106.2,174.6 108.4,174.4 109.6,173.1 109.4,171.6 110.1,170.1 110.3,168.6 110.9,167.1" fill="none" stroke="#a8692c" stroke-width="0.7" stroke-linejoin="round" opacity="0.51" stroke-linecap="round" stroke-dasharray="1.6 0.9"/>
<polyline points="146.3,188.6 144.8,187.5 143.6,186.2 141.8,185.3 140.0,184.5" fill="none" stroke="#a8692c" stroke-width="0.7" stroke-linejoin="round" opacity="0.44" stroke-linecap="round" stroke-dasharray="1.6 0.9"/>
<polyline points="56.4,177.9 56.1,179.4 56.2,181.0 56.3,182.5 56.3,184.0 57.5,185.3" fill="none" stroke="#a8692c" stroke-width="0.7" stroke-linejoin="round" opacity="0.36" stroke-linecap="round" stroke-dasharray="1.6 0.9"/>
<polyline points="67.5,174.0 69.4,174.8 71.5,175.2 73.7,175.5" fill="none" stroke="#a8692c" stroke-width="0.7" stroke-linejoin="round" opacity="0.59" stroke-linecap="round" stroke-dasharray="1.6 0.9"/>
<polyline points="75.5,187.2 73.4,187.6 71.8,188.6 70.9,190.0 69.7,191.3 69.4,192.9" fill="none" stroke="#a8692c" stroke-width="0.7" stroke-linejoin="round" opacity="0.53" stroke-linecap="round" stroke-dasharray="1.6 0.9"/>
<polyline points="116.7,173.4 118.5,172.6 120.3,171.6 121.2,170.3 122.5,169.0" fill="none" stroke="#a8692c" stroke-width="0.7" stroke-linejoin="round" opacity="0.69" stroke-linecap="round" stroke-dasharray="1.6 0.9"/>
<polyline points="82.7,182.1 84.9,182.0 86.7,181.1 87.9,179.8 88.5,178.4 90.7,178.1 92.7,177.5" fill="none" stroke="#a8692c" stroke-width="0.7" stroke-linejoin="round" opacity="0.58" stroke-linecap="round" stroke-dasharray="1.6 0.9"/>
<polyline points="156.8,188.8 158.8,189.3 160.0,190.6 160.8,192.0 161.0,193.6 162.6,194.6" fill="none" stroke="#a8692c" stroke-width="0.7" stroke-linejoin="round" opacity="0.36" stroke-linecap="round" stroke-dasharray="1.6 0.9"/>
<polyline points="78.9,174.7 80.9,175.3 83.1,175.6 85.3,175.6" fill="none" stroke="#a8692c" stroke-width="0.7" stroke-linejoin="round" opacity="0.40" stroke-linecap="round" stroke-dasharray="1.6 0.9"/>
<polyline points="165.5,171.9 167.7,172.0 169.8,171.6 171.6,170.7 173.3,169.7" fill="none" stroke="#a8692c" stroke-width="0.7" stroke-linejoin="round" opacity="0.38" stroke-linecap="round" stroke-dasharray="1.6 0.9"/>
<polyline points="127.1,181.0 125.0,180.4 123.0,181.0 122.2,182.4 122.9,183.9 124.0,185.2 125.3,186.4" fill="none" stroke="#a8692c" stroke-width="0.7" stroke-linejoin="round" opacity="0.45" stroke-linecap="round" stroke-dasharray="1.6 0.9"/>
<polyline points="78.4,173.4 80.5,173.6 82.5,173.0 83.5,171.6 83.3,170.1 83.2,168.5" fill="none" stroke="#a8692c" stroke-width="0.7" stroke-linejoin="round" opacity="0.59" stroke-linecap="round" stroke-dasharray="1.6 0.9"/>
<g fill="#b47a38" opacity="0.5"><circle cx="192.3" cy="191.6" r="0.61"/><circle cx="108.7" cy="178.5" r="0.52"/><circle cx="189.1" cy="168.1" r="0.50"/><circle cx="142.5" cy="183.7" r="0.54"/><circle cx="186.7" cy="178.3" r="0.70"/><circle cx="50.8" cy="192.7" r="0.45"/><circle cx="99.5" cy="192.6" r="0.87"/><circle cx="181.4" cy="190.8" r="0.52"/><circle cx="41.3" cy="179.6" r="0.43"/><circle cx="190.5" cy="166.2" r="0.56"/><circle cx="68.8" cy="166.4" r="0.65"/><circle cx="48.4" cy="193.0" r="0.74"/><circle cx="95.6" cy="191.2" r="0.80"/><circle cx="88.6" cy="191.4" r="0.86"/><circle cx="135.8" cy="176.6" r="0.85"/><circle cx="187.6" cy="176.4" r="0.44"/><circle cx="175.6" cy="185.9" r="0.52"/><circle cx="127.2" cy="175.2" r="0.86"/><circle cx="91.1" cy="171.9" r="0.42"/><circle cx="91.2" cy="195.7" r="0.51"/><circle cx="109.8" cy="195.2" r="0.40"/><circle cx="83.6" cy="190.6" r="0.45"/><circle cx="185.3" cy="191.0" r="0.47"/><circle cx="131.3" cy="182.7" r="0.75"/><circle cx="85.5" cy="177.5" r="0.52"/><circle cx="83.1" cy="171.3" r="0.85"/><circle cx="178.7" cy="176.8" r="0.75"/><circle cx="114.9" cy="174.4" r="0.57"/><circle cx="191.2" cy="176.2" r="0.69"/><circle cx="188.0" cy="174.9" r="0.80"/><circle cx="54.5" cy="188.0" r="0.80"/><circle cx="170.7" cy="195.3" r="0.76"/><circle cx="193.1" cy="174.4" r="0.66"/><circle cx="70.6" cy="168.5" r="0.62"/><circle cx="151.8" cy="189.4" r="0.41"/><circle cx="187.5" cy="173.4" r="0.55"/><circle cx="169.9" cy="192.8" r="0.77"/><circle cx="89.7" cy="179.9" r="0.82"/><circle cx="93.6" cy="190.2" r="0.79"/><circle cx="111.5" cy="192.9" r="0.59"/><circle cx="156.6" cy="185.2" r="0.57"/><circle cx="121.6" cy="184.2" r="0.67"/><circle cx="54.0" cy="195.7" r="0.88"/><circle cx="42.2" cy="194.3" r="0.67"/><circle cx="56.4" cy="190.6" r="0.62"/><circle cx="150.7" cy="190.8" r="0.67"/><circle cx="44.2" cy="190.7" r="0.75"/><circle cx="182.4" cy="174.1" r="0.79"/><circle cx="176.4" cy="176.7" r="0.61"/><circle cx="89.8" cy="166.2" r="0.52"/><circle cx="89.4" cy="169.3" r="0.78"/><circle cx="104.8" cy="183.0" r="0.54"/><circle cx="94.1" cy="188.6" r="0.63"/><circle cx="132.0" cy="178.7" r="0.68"/><circle cx="180.3" cy="174.0" r="0.66"/><circle cx="146.6" cy="168.6" r="0.88"/><circle cx="116.3" cy="173.4" r="0.78"/><circle cx="167.2" cy="184.9" r="0.86"/><circle cx="50.5" cy="181.8" r="0.77"/><circle cx="183.4" cy="185.2" r="0.70"/><circle cx="98.5" cy="183.1" r="0.68"/><circle cx="181.5" cy="190.8" r="0.77"/><circle cx="184.6" cy="168.0" r="0.78"/><circle cx="110.7" cy="188.6" r="0.55"/><circle cx="111.3" cy="190.7" r="0.42"/><circle cx="83.0" cy="180.7" r="0.83"/><circle cx="79.6" cy="190.7" r="0.52"/><circle cx="84.9" cy="182.6" r="0.73"/><circle cx="177.5" cy="192.4" r="0.53"/><circle cx="155.9" cy="185.0" r="0.59"/><circle cx="160.8" cy="192.9" r="0.64"/><circle cx="183.3" cy="169.8" r="0.48"/><circle cx="158.9" cy="175.2" r="0.69"/><circle cx="116.0" cy="170.4" r="0.78"/><circle cx="155.3" cy="170.4" r="0.53"/><circle cx="164.8" cy="193.4" r="0.84"/><circle cx="116.8" cy="177.0" r="0.62"/><circle cx="64.5" cy="180.9" r="0.52"/><circle cx="62.2" cy="177.4" r="0.43"/><circle cx="111.7" cy="186.9" r="0.73"/><circle cx="192.8" cy="192.6" r="0.72"/><circle cx="180.4" cy="179.3" r="0.80"/><circle cx="81.9" cy="181.8" r="0.89"/><circle cx="132.4" cy="181.2" r="0.79"/><circle cx="86.4" cy="190.9" r="0.41"/><circle cx="74.5" cy="171.3" r="0.53"/><circle cx="188.1" cy="166.7" r="0.55"/><circle cx="128.4" cy="187.1" r="0.79"/><circle cx="97.8" cy="172.6" r="0.83"/><circle cx="55.8" cy="168.0" r="0.52"/><circle cx="115.3" cy="194.3" r="0.76"/><circle cx="126.8" cy="181.6" r="0.75"/><circle cx="136.8" cy="176.1" r="0.45"/><circle cx="68.5" cy="189.5" r="0.72"/><circle cx="164.2" cy="167.3" r="0.85"/><circle cx="97.6" cy="193.8" r="0.70"/><circle cx="124.1" cy="190.5" r="0.71"/><circle cx="144.5" cy="170.7" r="0.70"/><circle cx="93.5" cy="168.3" r="0.47"/><circle cx="113.3" cy="173.9" r="0.78"/><circle cx="55.9" cy="166.4" r="0.90"/><circle cx="86.5" cy="181.3" r="0.51"/><circle cx="69.7" cy="178.1" r="0.79"/><circle cx="42.5" cy="191.1" r="0.90"/><circle cx="126.0" cy="176.8" r="0.52"/><circle cx="65.6" cy="175.7" r="0.83"/><circle cx="36.7" cy="189.6" r="0.73"/><circle cx="39.3" cy="168.1" r="0.77"/><circle cx="144.3" cy="175.4" r="0.83"/><circle cx="70.0" cy="178.8" r="0.46"/><circle cx="139.9" cy="168.6" r="0.49"/><circle cx="159.3" cy="181.0" r="0.73"/><circle cx="154.1" cy="184.2" r="0.50"/><circle cx="148.4" cy="169.5" r="0.53"/><circle cx="108.2" cy="169.4" r="0.45"/><circle cx="141.0" cy="188.3" r="0.59"/><circle cx="98.8" cy="172.2" r="0.66"/><circle cx="129.4" cy="194.0" r="0.42"/><circle cx="182.1" cy="195.7" r="0.57"/><circle cx="152.8" cy="190.7" r="0.73"/></g>
<polyline points="117.9,274.0 120.4,273.1 122.6,271.9 125.0,270.0 127.0,268.6 129.3,267.2 132.0,266.0 135.8,264.9 139.1,262.9 143.0,261.4" fill="none" stroke="#b57d40" stroke-width="0.6" stroke-linejoin="round" opacity="0.55" stroke-linecap="round"/>
<polyline points="120.4,282.7 122.2,281.2 123.8,280.3 126.0,279.0 126.9,277.8 128.9,276.3 130.4,275.2" fill="none" stroke="#b57d40" stroke-width="0.6" stroke-linejoin="round" opacity="0.55" stroke-linecap="round"/>
<polyline points="116.6,297.8 113.4,296.5 111.4,295.5 108.0,295.0 105.5,294.2 101.9,292.7 99.0,292.0 96.4,292.0 92.9,290.8 90.3,290.3" fill="none" stroke="#b57d40" stroke-width="0.6" stroke-linejoin="round" opacity="0.55" stroke-linecap="round"/>
<polyline points="105.3,247.6 105.2,246.5 105.0,245.0 104.0,244.0 103.8,242.3 103.8,241.1 102.8,240.0" fill="none" stroke="#b57d40" stroke-width="0.6" stroke-linejoin="round" opacity="0.55" stroke-linecap="round"/>
<polyline points="120.4,310.3 123.6,307.5 128.1,305.3 132.0,302.0 136.6,298.7 141.5,295.8 146.0,292.0 150.4,289.2 155.0,285.7 159.3,282.7" fill="none" stroke="#b57d40" stroke-width="0.6" stroke-linejoin="round" opacity="0.55" stroke-linecap="round"/>
<polyline points="118.0,300.0 116.0,302.0 113.7,304.4 112.0,306.0 108.9,308.4 107.0,310.0 104.0,312.0" fill="none" stroke="#b57d40" stroke-width="0.6" stroke-linejoin="round" opacity="0.55" stroke-linecap="round"/>
<polyline points="118.0,320.0 120.4,319.3 123.5,318.9 126.0,318.0 128.8,316.3 131.2,314.1 134.0,312.0" fill="none" stroke="#b57d40" stroke-width="0.6" stroke-linejoin="round" opacity="0.55" stroke-linecap="round"/>
<polyline points="118.0,258.0 114.9,257.2 112.7,255.9 110.0,255.0 108.3,254.2 105.2,253.0 104.0,252.0" fill="none" stroke="#b57d40" stroke-width="0.6" stroke-linejoin="round" opacity="0.55" stroke-linecap="round"/>
<rect x="149.90" y="365.50" width="41.70" height="3.50" fill="#000"/>
<text x="110.9" y="402.5" font-size="34.5" >100 µm</text>
<text x="520.44" y="81.03" font-size="34.5" >Pic (µM)</text>
<rect x="392.00" y="94.10" width="379.50" height="3.30" fill="#000"/>
<text x="264.46" y="129.73" font-size="34.5" >Control</text>
<text x="436.11" y="129.3" font-size="34.5" >3</text>
<text x="567.6" y="129.85" font-size="34.5" >10</text>
<text x="699.9" y="129.85" font-size="34.5" >30</text>
<polyline points="263.0,346.3 273.6,346.3" fill="none" stroke="#111" stroke-width="2.2" stroke-linejoin="round" />
<line x1="273.60" y1="173.10" x2="273.60" y2="358.40" stroke="#666" stroke-width="1.2" />
<polyline points="275.6,358.4 275.6,284.5 276.6,268.0 278.6,214.2 279.6,176.1" fill="none" stroke="#555" stroke-width="1.2" stroke-linejoin="round" />
<polyline points="280.1,176.1 280.9,183.0 281.7,189.4 282.5,194.1 283.3,199.5 284.1,204.5 284.9,209.5 285.7,214.1 286.5,218.6 287.3,222.1 288.1,226.8 288.9,229.8 289.7,233.7 290.5,237.4 291.3,240.5 292.1,243.1 292.9,246.1 293.7,249.0 294.5,251.8 295.3,254.8 296.1,256.5 296.9,259.4 297.7,261.7 298.5,263.9 299.3,266.0 300.1,268.3 300.9,269.9 301.7,271.9 302.5,273.6 303.3,275.6 304.1,276.2 304.9,278.7 305.7,279.8 306.5,281.3 307.3,282.5 308.1,283.6 308.9,285.4 309.7,286.6 310.5,288.2 311.3,288.8 312.1,290.8 312.9,291.6 313.7,292.5 314.5,293.5 315.3,294.5 316.1,295.4 316.9,296.5 317.7,297.6 318.5,298.5 319.3,299.0 320.1,300.2 320.9,300.8 321.7,302.0 322.5,303.3 323.3,303.7 324.1,304.1 324.9,304.5 325.7,305.2 326.5,305.9 327.3,307.3 328.1,307.5 328.9,308.4 329.7,308.8 330.5,309.6 331.3,310.6 332.1,310.6 332.9,311.2 333.7,311.6 334.5,312.7 335.3,312.7 336.1,313.1 336.9,313.6 337.7,314.1 338.5,315.1 339.3,316.2 340.1,315.6 340.9,316.7 341.7,316.9 342.5,316.9 343.3,317.6 344.1,318.0 344.9,318.3 345.7,319.5 346.5,318.7 347.3,319.8 348.1,320.2 348.9,320.3 349.7,320.8 350.5,321.4 351.3,321.5 352.1,322.0 352.9,322.4 353.7,321.9 354.5,323.3 355.3,323.8 356.1,323.7 356.9,324.0 357.7,323.6 358.5,324.3 359.3,324.4 360.1,324.7 360.9,325.4 361.7,325.2 362.5,325.7 363.3,325.4 364.1,326.2 364.9,326.5 365.7,326.5 366.5,326.7 367.3,327.7 368.1,327.0 368.9,327.3 369.7,327.6 370.5,328.4 371.3,328.9 372.1,328.6 372.9,328.5 373.7,328.8 374.5,329.4 375.3,329.0 376.1,329.9 376.9,330.1 377.7,329.9 378.5,330.2 379.3,330.4 380.1,330.8 380.9,330.2 381.7,331.1 382.5,330.8 383.3,330.8 384.1,331.2 384.9,331.3 385.7,331.2 386.5,331.2" fill="none" stroke="#111" stroke-width="1.9" stroke-linejoin="round" />
<polyline points="392.0,347.6 394.0,346.4 396.0,346.8 398.0,347.8 400.0,347.3 402.1,347.5" fill="none" stroke="#111" stroke-width="2.0" stroke-linejoin="round" />
<line x1="402.80" y1="166.00" x2="402.80" y2="358.40" stroke="#444" stroke-width="1.3" />
<polyline points="404.6,358.4 404.6,326.7 406.6,310.6 408.9,282.5 410.9,276.5" fill="none" stroke="#555" stroke-width="1.2" stroke-linejoin="round" />
<polyline points="410.9,276.5 412.5,277.2 414.0,280.3 414.8,283.0 415.6,285.0 416.4,286.3 417.2,288.2 418.0,289.2 418.8,291.0 419.6,292.6 420.4,293.6 421.2,295.1 422.0,296.9 422.8,298.2 423.6,299.2 424.4,301.0 425.2,302.0 426.0,303.7 426.8,304.5 427.6,305.6 428.4,306.8 429.2,307.8 430.0,308.7 430.8,309.8 431.6,311.2 432.4,312.1 433.2,313.2 434.0,313.1 434.8,314.4 435.6,315.2 436.4,316.3 437.2,316.8 438.0,317.6 438.8,318.8 439.6,319.3 440.4,319.5 441.2,321.1 442.0,321.6 442.8,321.7 443.6,322.8 444.4,322.9 445.2,324.1 446.0,324.2 446.8,324.6 447.6,325.3 448.4,325.6 449.2,326.5 450.0,327.0 450.8,327.4 451.6,327.6 452.4,327.0 453.2,328.8 454.0,328.5 454.8,329.6 455.6,330.3 456.4,330.4 457.2,330.6 458.0,331.0 458.8,331.4 459.6,331.6 460.4,331.9 461.2,332.1 462.0,333.1 462.8,333.0 463.6,333.6 464.4,333.5 465.2,333.9 466.0,334.1 466.8,334.6 467.6,334.9 468.4,335.0 469.2,334.9 470.0,335.1 470.8,336.2 471.6,335.7 472.4,335.9 473.2,336.7 474.0,336.8 474.8,336.8 475.6,336.6 476.4,337.8 477.2,337.3 478.0,337.5 478.8,337.4 479.6,337.1 480.4,337.3 481.2,338.1 482.0,338.2 482.8,338.1 483.6,337.9 484.4,338.0 485.2,338.5 486.0,338.2 486.8,339.2 487.6,339.4 488.4,340.1 489.2,339.5 490.0,339.1 490.8,339.1 491.6,338.3 492.4,339.4 493.2,339.6 494.0,340.1 494.8,340.1 495.6,340.2 496.4,340.1 497.2,340.4 498.0,340.7 498.8,339.9 499.6,340.2 500.4,340.0 501.2,341.1 502.0,341.0 502.8,340.9 503.6,340.3 504.4,340.8 505.2,340.8 506.0,340.9 506.8,340.9 507.6,341.2 508.4,340.9 509.2,341.4 510.0,341.2 510.8,341.1 511.6,341.2 512.4,341.2 513.2,341.6 514.0,341.3 514.8,341.5 515.6,341.3 516.4,341.0 517.2,341.9" fill="none" stroke="#111" stroke-width="1.9" stroke-linejoin="round" />
<polyline points="524.5,345.2 527.0,344.4 530.0,345.0 532.0,344.3 534.1,344.8" fill="none" stroke="#111" stroke-width="2.0" stroke-linejoin="round" />
<line x1="535.10" y1="166.00" x2="535.10" y2="346.00" stroke="#555" stroke-width="1.2" />
<line x1="535.30" y1="345.30" x2="535.30" y2="358.40" stroke="#000" stroke-width="3" />
<polyline points="536.6,344.8 538.5,333.0 540.1,324.7 542.6,320.7 545.9,318.7 548.0,320.3 548.8,321.6 549.6,322.1 550.4,321.7 551.2,322.6 552.0,323.3 552.8,323.6 553.6,324.0 554.4,325.3 555.2,325.3 556.0,326.1 556.8,326.2 557.6,326.9 558.4,326.9 559.2,327.6 560.0,328.3 560.8,328.5 561.6,328.6 562.4,328.7 563.2,329.6 564.0,330.1 564.8,330.2 565.6,330.3 566.4,331.2 567.2,332.4 568.0,331.4 568.8,332.0 569.6,332.4 570.4,331.3 571.2,332.8 572.0,332.7 572.8,334.0 573.6,333.5 574.4,333.5 575.2,334.0 576.0,334.4 576.8,334.3 577.6,334.8 578.4,334.5 579.2,335.2 580.0,335.9 580.8,336.6 581.6,336.3 582.4,336.3 583.2,336.9 584.0,337.0 584.8,337.5 585.6,337.4 586.4,337.0 587.2,337.4 588.0,337.5 588.8,337.7 589.6,337.8 590.4,337.6 591.2,337.1 592.0,337.9 592.8,337.5 593.6,338.5 594.4,338.7 595.2,338.0 596.0,339.2 596.8,339.4 597.6,339.2 598.4,340.1 599.2,340.3 600.0,339.0 600.8,340.1 601.6,340.0 602.4,340.1 603.2,340.4 604.0,339.8 604.8,339.9 605.6,339.9 606.4,340.1 607.2,340.4 608.0,339.9 608.8,340.2 609.6,341.0 610.4,340.8 611.2,341.1 612.0,340.2 612.8,340.7 613.6,340.9 614.4,341.3 615.2,341.1 616.0,341.8 616.8,341.4 617.6,341.5 618.4,341.6 619.2,342.0 620.0,341.5 620.8,342.3 621.6,342.1 622.4,342.0 623.2,342.0 624.0,342.3 624.8,342.5 625.6,342.6 626.4,342.4 627.2,342.6 628.0,342.3 628.8,342.9 629.6,342.4 630.4,341.5 631.2,343.1 632.0,342.6 632.8,342.0 633.6,342.5 634.4,342.3 635.2,343.6 636.0,343.0 636.8,342.1 637.6,343.1 638.4,342.7 639.2,343.7 640.0,342.4 640.8,341.9 641.6,343.0 642.4,342.9 643.2,342.9 644.0,342.1 644.8,343.3 645.6,343.9 646.4,342.3 647.2,343.7 648.0,343.0" fill="none" stroke="#111" stroke-width="2.0" stroke-linejoin="round" />
<polyline points="655.0,334.6 658.0,333.4 661.0,335.2 665.0,335.0" fill="none" stroke="#111" stroke-width="2.0" stroke-linejoin="round" />
<line x1="666.10" y1="166.00" x2="666.10" y2="358.90" stroke="#000" stroke-width="2.6" />
<polyline points="667.6,340.7 668.4,338.7 669.2,337.1 670.0,336.3 670.8,334.7 671.6,332.9 672.4,332.1 673.2,330.5 674.0,329.9 674.8,331.3 675.6,330.2 676.4,330.0 677.2,330.3 678.0,329.4 678.8,329.4 679.6,329.7 680.4,329.6 681.2,329.7 682.0,330.1 682.8,329.3 683.6,329.6 684.4,329.6 685.2,328.9 686.0,329.3 686.8,329.1 687.6,330.2 688.4,330.3 689.2,330.5 690.0,330.3 690.8,331.3 691.6,331.3 692.4,332.2 693.2,332.2 694.0,332.3 694.8,332.9 695.6,332.6 696.4,331.9 697.2,332.4 698.0,331.6 698.8,331.4 699.6,331.4 700.4,330.8 701.2,330.8 702.0,330.7 702.8,331.7 703.6,332.1 704.4,331.9 705.2,333.1 706.0,332.9 706.8,333.6 707.6,334.2 708.4,334.4 709.2,334.9 710.0,333.8 710.8,332.9 711.6,333.6 712.4,332.6 713.2,332.4 714.0,331.0 714.8,332.3 715.6,332.1 716.4,332.5 717.2,332.9 718.0,333.5 718.8,333.1 719.6,333.8 720.4,333.4 721.2,333.9 722.0,334.8 722.8,334.9 723.6,334.5 724.4,335.4 725.2,334.8 726.0,334.2 726.8,334.4 727.6,333.7 728.4,332.9 729.2,332.7 730.0,333.5 730.8,332.3 731.6,333.2 732.4,333.6 733.2,333.9 734.0,333.4 734.8,334.0 735.6,334.5 736.4,335.0 737.2,334.7 738.0,334.7 738.8,335.6 739.6,335.5 740.4,335.0 741.2,334.5 742.0,334.7 742.8,334.5 743.6,334.6 744.4,333.6 745.2,334.0 746.0,333.7 746.8,333.4 747.6,334.1 748.4,334.3 749.2,334.3 750.0,334.8 750.8,334.3 751.6,335.1 752.4,335.5 753.2,335.7 754.0,335.9 754.8,334.9 755.6,334.6 756.4,335.1 757.2,335.1 758.0,335.6 758.8,334.9 759.6,334.1 760.4,334.6 761.2,334.1 762.0,334.1 762.8,335.9 763.6,335.2 764.4,335.6 765.2,335.7 766.0,336.4 766.8,336.0 767.6,336.6 768.4,335.9 769.2,335.5 770.0,336.4 770.8,336.1 771.6,335.5 772.4,335.1 773.2,334.8 774.0,334.2 774.8,334.9 775.6,334.3 776.4,333.9 777.2,334.1 778.0,334.7 778.8,334.7 779.6,335.1" fill="none" stroke="#111" stroke-width="1.9" stroke-linejoin="round" />
<rect x="696.05" y="204.70" width="3.70" height="91.00" fill="#000"/>
<text x="706.03" y="261.87" font-size="35.2" >200 pA</text>
<rect x="702.90" y="367.90" width="64.00" height="3.40" fill="#000"/>
<text x="693.83" y="402.75" font-size="34.5" >100 ms</text>
<rect x="965.00" y="53.50" width="3.20" height="339.90" fill="#000"/>
<rect x="959.30" y="390.10" width="415.10" height="3.30" fill="#000"/>
<rect x="959.50" y="323.05" width="7.10" height="2.80" fill="#000"/>
<rect x="959.50" y="255.70" width="7.10" height="2.80" fill="#000"/>
<rect x="959.50" y="188.35" width="7.10" height="2.80" fill="#000"/>
<rect x="959.50" y="121.00" width="7.10" height="2.80" fill="#000"/>
<rect x="959.50" y="53.65" width="7.10" height="2.80" fill="#000"/>
<text x="936.63" y="400.55" font-size="34.5" >0</text>
<text x="898.34" y="333.95" font-size="34.5" >100</text>
<text x="898.34" y="267.55" font-size="34.5" >200</text>
<text x="898.34" y="200.85" font-size="34.5" >300</text>
<text x="898.34" y="134.45" font-size="34.5" >400</text>
<text x="898.34" y="67.4" font-size="34.5" >500</text>
<text transform="translate(879.1,327.03) rotate(-90)" font-size="33.8">Amplitude (pA)</text>
<path d="M992.50,391.80 V163.30 H1042.70 V391.80" fill="#fff" stroke="#000" stroke-width="3.1" stroke-linejoin="miter"/>
<path d="M1094.80,391.80 V302.10 H1145.10 V391.80" fill="#c9c9c9" stroke="#000" stroke-width="3.1" stroke-linejoin="miter"/>
<path d="M1195.90,391.80 V366.60 H1245.20 V391.80" fill="#9e9e9e" stroke="#000" stroke-width="3.1" stroke-linejoin="miter"/>
<path d="M1297.50,391.80 V388.30 H1349.00 V391.80" fill="#6a6a6a" stroke="#000" stroke-width="3.1" stroke-linejoin="miter"/>
<line x1="1018.50" y1="163.30" x2="1018.50" y2="156.00" stroke="#000" stroke-width="3.0" />
<line x1="1014.10" y1="156.00" x2="1022.80" y2="156.00" stroke="#000" stroke-width="3.4" />
<line x1="1118.90" y1="302.10" x2="1118.90" y2="296.00" stroke="#000" stroke-width="3.0" />
<line x1="1114.90" y1="296.00" x2="1122.20" y2="296.00" stroke="#000" stroke-width="3.0" />
<polyline points="1017.7,113.0 1119.4,268.5 1220.9,349.4 1322.8,382.4" fill="none" stroke="#000" stroke-width="3.0" stroke-linejoin="round" />
<polyline points="1017.7,127.1 1119.4,283.4 1220.9,354.8 1322.8,385.1" fill="none" stroke="#000" stroke-width="3.0" stroke-linejoin="round" />
<polyline points="1017.7,131.8 1119.4,288.1 1220.9,361.5 1322.8,387.8" fill="none" stroke="#000" stroke-width="3.0" stroke-linejoin="round" />
<polyline points="1017.7,213.3 1119.4,352.1 1220.9,384.4 1322.8,391.8" fill="none" stroke="#000" stroke-width="3.0" stroke-linejoin="round" />
<polyline points="1017.7,228.1 1119.4,310.3 1220.9,369.6 1322.8,389.8" fill="none" stroke="#000" stroke-width="3.0" stroke-linejoin="round" />
<circle cx="1017.70" cy="112.97" r="6.0" fill="#000"/>
<circle cx="1119.40" cy="268.55" r="6.0" fill="#000"/>
<circle cx="1220.90" cy="349.37" r="6.0" fill="#000"/>
<circle cx="1322.80" cy="382.37" r="6.0" fill="#000"/>
<circle cx="1017.70" cy="127.11" r="6.0" fill="#000"/>
<circle cx="1119.40" cy="283.37" r="6.0" fill="#000"/>
<circle cx="1220.90" cy="354.76" r="6.0" fill="#000"/>
<circle cx="1322.80" cy="385.06" r="6.0" fill="#000"/>
<circle cx="1017.70" cy="131.83" r="6.0" fill="#000"/>
<circle cx="1119.40" cy="288.08" r="6.0" fill="#000"/>
<circle cx="1220.90" cy="361.49" r="6.0" fill="#000"/>
<circle cx="1322.80" cy="387.76" r="6.0" fill="#000"/>
<circle cx="1017.70" cy="213.32" r="6.0" fill="#000"/>
<circle cx="1119.40" cy="352.06" r="6.0" fill="#000"/>
<circle cx="1220.90" cy="384.39" r="6.0" fill="#000"/>
<circle cx="1322.80" cy="391.80" r="6.0" fill="#000"/>
<circle cx="1017.70" cy="228.14" r="6.0" fill="#000"/>
<circle cx="1119.40" cy="310.31" r="6.0" fill="#000"/>
<circle cx="1220.90" cy="369.57" r="6.0" fill="#000"/>
<circle cx="1322.80" cy="389.78" r="6.0" fill="#000"/>
<path d="M1024.10,48.20 V34.50 H1313.60 V48.20" fill="none" stroke="#000" stroke-width="3.3" stroke-linejoin="miter"/>
<path d="M1024.10,72.30 V59.00 H1218.40 V72.30" fill="none" stroke="#000" stroke-width="3.3" stroke-linejoin="miter"/>
<path d="M1024.10,96.10 V83.40 H1123.70 V96.10" fill="none" stroke="#000" stroke-width="3.3" stroke-linejoin="miter"/>
<use href="#ast" transform="translate(1156.90,22.30) scale(1.08)"/>
<use href="#ast" transform="translate(1174.40,22.30) scale(1.08)"/>
<use href="#ast" transform="translate(1116.70,47.80) scale(1.08)"/>
<use href="#ast" transform="translate(1134.00,47.80) scale(1.08)"/>
<use href="#ast" transform="translate(1063.30,73.00) scale(1.08)"/>
<use href="#ast" transform="translate(1080.70,73.00) scale(1.08)"/>
<text x="967.81" y="427.43" font-size="34.5" >Control</text>
<text x="1110.51" y="427.0" font-size="34.5" >3</text>
<text x="1202.55" y="427.0" font-size="34.5" >10</text>
<text x="1303.85" y="427.0" font-size="34.5" >30</text>
<rect x="1092.60" y="432.60" width="258.20" height="3.40" fill="#000"/>
<text x="1160.54" y="466.98" font-size="34.5" >Pic (µM)</text>
<text x="138.82" y="510.53" font-size="34.5" >Pic</text>
<rect x="128.00" y="522.00" width="503.70" height="10.00" fill="#707070"/>
<rect x="592.90" y="554.20" width="4.70" height="4.10" fill="#000"/>
<polygon points="127.0,773.0 127.4,772.5 127.8,772.7 128.2,773.1 128.6,773.3 129.0,773.6 129.4,773.7 129.8,773.5 130.2,773.5 130.6,772.8 131.0,772.1 131.4,773.1 131.8,772.8 132.2,773.0 132.6,773.3 133.0,772.7 133.4,772.8 133.8,773.5 134.2,773.6 134.6,773.2 135.0,774.0 135.4,773.6 135.8,773.2 136.2,773.9 136.6,775.0 137.0,773.5 137.4,774.7 137.8,774.9 138.2,775.0 138.6,773.6 139.0,775.4 139.4,774.2 139.8,774.0 140.2,774.0 140.6,774.4 141.0,774.1 141.4,773.9 141.8,774.8 142.2,773.5 142.6,773.3 143.0,774.4 143.4,774.3 143.8,774.5 144.2,773.2 144.6,774.5 145.0,774.1 145.4,774.8 145.8,773.0 146.2,773.9 146.6,773.6 147.0,772.8 147.4,773.3 147.8,774.4 148.2,773.4 148.6,773.2 149.0,774.2 149.4,774.2 149.8,774.2 150.2,773.1 150.6,773.6 151.0,774.2 151.4,773.2 151.8,773.2 152.2,774.1 152.6,774.6 153.0,773.0 153.4,772.1 153.8,772.8 154.2,773.1 154.6,773.7 155.0,774.1 155.4,773.7 155.8,773.4 156.2,773.9 156.6,773.2 157.0,773.8 157.4,773.5 157.8,775.5 158.2,774.4 158.6,773.4 159.0,773.3 159.4,773.7 159.8,773.0 160.2,773.6 160.6,773.6 161.0,774.6 161.4,773.8 161.8,773.6 162.2,773.3 162.6,773.4 163.0,774.1 163.4,774.0 163.8,774.8 164.2,773.8 164.6,774.8 165.0,774.3 165.4,774.2 165.8,773.0 166.2,773.4 166.6,774.6 167.0,775.1 167.4,774.3 167.8,774.7 168.2,774.0 168.6,774.0 169.0,773.9 169.4,774.8 169.8,774.3 170.2,773.9 170.6,773.8 171.0,774.3 171.4,774.1 171.8,773.3 172.2,774.8 172.6,773.9 173.0,773.7 173.4,774.5 173.8,774.2 174.2,773.4 174.6,773.8 175.0,772.7 175.4,773.0 175.8,772.0 176.2,774.1 176.6,772.3 177.0,773.8 177.4,772.9 177.8,772.8 178.2,773.3 178.6,773.6 179.0,773.8 179.4,774.5 179.8,773.7 180.2,774.0 180.6,773.1 181.0,773.9 181.4,773.5 181.8,773.1 182.2,773.3 182.6,773.2 183.0,773.3 183.4,773.4 183.8,772.8 184.2,772.6 184.6,773.5 185.0,772.0 185.4,772.6 185.8,773.8 186.2,771.2 186.6,772.4 187.0,773.2 187.4,771.7 187.8,774.3 188.2,771.1 188.6,773.5 189.0,773.5 189.4,773.1 189.8,772.4 190.2,772.7 190.6,771.9 191.0,772.9 191.4,771.7 191.8,772.2 192.2,772.9 192.6,771.6 193.0,772.0 193.4,772.4 193.8,771.5 194.2,773.0 194.6,772.5 195.0,771.4 195.4,772.3 195.8,771.8 196.2,771.9 196.6,772.4 197.0,771.9 197.4,772.9 197.8,771.9 198.2,772.9 198.6,772.3 199.0,772.9 199.4,772.0 199.8,772.0 200.2,771.6 200.6,772.6 201.0,772.8 201.4,773.5 201.8,773.0 202.2,772.4 202.6,772.1 203.0,772.4 203.4,772.1 203.8,773.0 204.2,772.7 204.6,771.6 205.0,771.7 205.4,772.9 205.8,772.3 206.2,772.0 206.6,772.8 207.0,771.9 207.4,772.0 207.8,771.9 208.2,771.0 208.6,772.7 209.0,771.5 209.4,771.9 209.8,771.8 210.2,772.7 210.6,772.2 211.0,772.3 211.4,771.4 211.8,772.4 212.2,771.7 212.6,772.8 213.0,772.9 213.4,772.8 213.8,774.1 214.2,773.3 214.6,773.4 215.0,773.2 215.4,773.1 215.8,773.9 216.2,774.0 216.6,772.7 217.0,774.2 217.4,773.9 217.8,774.2 218.2,773.9 218.6,772.9 219.0,772.9 219.4,774.7 219.8,773.8 220.2,772.8 220.6,773.9 221.0,773.5 221.4,772.6 221.8,772.4 222.2,772.8 222.6,773.9 223.0,773.8 223.4,773.7 223.8,774.0 224.2,774.2 224.6,772.6 225.0,773.7 225.4,773.4 225.8,773.2 226.2,773.7 226.6,773.9 227.0,773.9 227.4,773.2 227.8,773.8 228.2,775.3 228.6,773.5 229.0,773.1 229.4,774.3 229.8,774.5 230.2,774.4 230.6,773.4 231.0,774.6 231.4,773.5 231.8,773.3 232.2,773.6 232.6,773.9 233.0,774.3 233.4,774.3 233.8,773.9 234.2,774.4 234.6,773.9 235.0,774.3 235.4,772.9 235.8,772.8 236.2,774.2 236.6,772.9 237.0,773.5 237.4,773.6 237.8,773.4 238.2,773.4 238.6,774.5 239.0,772.1 239.4,774.1 239.8,775.0 240.2,773.6 240.6,773.6 241.0,774.0 241.4,774.6 241.8,772.8 242.2,773.5 242.6,773.3 243.0,773.7 243.4,773.5 243.8,773.7 244.2,773.1 244.6,773.3 245.0,772.9 245.4,772.8 245.8,773.1 246.2,773.1 246.6,772.4 247.0,774.1 247.4,773.0 247.8,772.3 248.2,773.7 248.6,772.6 249.0,773.3 249.4,773.0 249.8,773.2 250.2,773.1 250.6,772.6 251.0,773.0 251.4,774.2 251.8,771.6 252.2,773.0 252.6,773.2 253.0,772.3 253.4,772.1 253.8,774.1 254.2,772.6 254.6,774.0 255.0,773.1 255.4,772.8 255.8,773.0 256.2,773.1 256.6,773.3 257.0,772.9 257.4,772.7 257.8,772.7 258.2,773.3 258.6,773.0 259.0,771.9 259.4,772.1 259.8,772.6 260.2,772.0 260.6,772.2 261.0,771.8 261.4,772.2 261.8,772.6 262.2,772.9 262.6,772.3 263.0,773.5 263.4,772.2 263.8,774.2 264.2,772.8 264.6,772.5 265.0,771.9 265.4,770.5 265.8,772.1 266.2,772.3 266.6,773.3 267.0,771.4 267.4,773.3 267.8,772.0 268.2,772.6 268.6,770.7 269.0,772.3 269.4,772.0 269.8,772.6 270.2,772.2 270.6,771.5 271.0,772.7 271.4,772.5 271.8,772.5 272.2,772.7 272.6,772.7 273.0,772.0 273.4,771.2 273.8,771.1 274.2,772.7 274.6,772.3 275.0,771.9 275.4,771.6 275.8,771.8 276.2,771.8 276.6,771.6 277.0,771.3 277.4,773.0 277.8,771.8 278.2,771.3 278.6,770.8 279.0,771.1 279.4,771.9 279.8,771.9 280.2,771.3 280.6,771.4 281.0,771.2 281.4,770.6 281.8,772.1 282.2,771.5 282.6,772.7 283.0,770.7 283.4,771.0 283.8,771.6 284.2,770.9 284.6,770.2 285.0,770.4 285.4,771.0 285.8,771.1 286.2,770.8 286.6,771.4 287.0,771.4 287.4,770.9 287.8,770.7 288.2,770.5 288.6,771.0 289.0,771.1 289.4,770.6 289.8,770.9 290.2,770.4 290.6,769.8 291.0,770.1 291.4,771.1 291.8,771.0 292.2,771.7 292.6,770.8 293.0,771.3 293.4,771.6 293.8,771.4 294.2,770.4 294.6,770.7 295.0,770.9 295.4,770.2 295.8,771.1 296.2,771.5 296.6,770.6 297.0,772.0 297.4,770.7 297.8,770.7 298.2,770.7 298.6,770.4 299.0,771.1 299.4,770.9 299.8,771.9 300.2,771.2 300.6,771.2 301.0,770.8 301.4,770.1 301.8,770.9 302.2,770.5 302.6,771.6 303.0,771.0 303.4,772.1 303.8,771.5 304.2,771.6 304.6,771.3 305.0,771.3 305.4,771.6 305.8,771.8 306.2,770.8 306.6,771.6 307.0,772.9 307.4,771.3 307.8,771.2 308.2,771.0 308.6,770.6 309.0,772.2 309.4,771.5 309.8,771.7 310.2,772.7 310.6,773.1 311.0,771.1 311.4,772.3 311.8,772.0 312.2,771.9 312.6,772.0 313.0,771.7 313.4,772.7 313.8,772.1 314.2,771.9 314.6,772.4 315.0,772.2 315.4,772.0 315.8,771.9 316.2,772.7 316.6,771.9 317.0,771.6 317.4,771.1 317.8,771.4 318.2,771.0 318.6,771.6 319.0,771.7 319.4,770.4 319.8,771.6 320.2,772.0 320.6,771.7 321.0,771.1 321.4,772.4 321.8,771.3 322.2,771.0 322.6,771.1 323.0,771.7 323.4,772.4 323.8,772.5 324.2,771.9 324.6,771.1 325.0,771.4 325.4,771.2 325.8,771.6 326.2,770.6 326.6,771.7 327.0,772.0 327.4,771.5 327.8,771.8 328.2,770.9 328.6,770.6 329.0,771.0 329.4,772.0 329.8,771.9 330.2,771.0 330.6,771.9 331.0,771.0 331.4,772.1 331.8,771.6 332.2,771.1 332.6,771.9 333.0,771.0 333.4,771.0 333.8,770.7 334.2,771.8 334.6,771.7 335.0,771.8 335.4,771.6 335.8,772.8 336.2,771.8 336.6,771.6 337.0,772.9 337.4,773.0 337.8,772.4 338.2,771.2 338.6,771.9 339.0,772.7 339.4,772.4 339.8,773.3 340.2,771.6 340.6,772.9 341.0,772.1 341.4,773.3 341.8,772.5 342.2,773.2 342.6,772.2 343.0,771.8 343.4,772.0 343.8,772.3 344.2,772.0 344.6,773.3 345.0,773.4 345.4,772.8 345.8,772.0 346.2,772.5 346.6,772.2 347.0,773.4 347.4,772.7 347.8,772.8 348.2,772.3 348.6,771.3 349.0,772.1 349.4,771.8 349.8,772.7 350.2,772.5 350.6,771.9 351.0,772.1 351.4,773.2 351.8,771.7 352.2,771.7 352.6,772.0 353.0,771.7 353.4,771.9 353.8,772.4 354.2,773.1 354.6,770.9 355.0,772.0 355.4,772.0 355.8,771.9 356.2,771.9 356.6,771.8 357.0,772.6 357.4,771.7 357.8,771.9 358.2,772.0 358.6,772.1 359.0,772.0 359.4,772.7 359.8,772.1 360.2,772.2 360.6,772.1 361.0,771.5 361.4,771.5 361.8,771.4 362.2,772.0 362.6,771.4 363.0,771.2 363.4,771.9 363.8,772.0 364.2,770.6 364.6,772.6 365.0,771.5 365.4,771.4 365.8,772.0 366.2,771.4 366.6,770.9 367.0,772.5 367.4,770.6 367.8,771.1 368.2,771.7 368.6,770.5 369.0,771.0 369.4,771.3 369.8,772.5 370.2,770.5 370.6,771.0 371.0,771.4 371.4,771.0 371.8,770.2 372.2,771.1 372.6,770.9 373.0,771.1 373.4,771.5 373.8,771.5 374.2,771.1 374.6,771.1 375.0,770.3 375.4,770.9 375.8,771.1 376.2,770.8 376.6,771.1 377.0,770.5 377.4,772.0 377.8,772.4 378.2,770.9 378.6,771.4 379.0,771.0 379.4,771.9 379.8,771.4 380.2,771.2 380.6,771.0 381.0,771.2 381.4,770.5 381.8,771.5 382.2,770.6 382.6,771.4 383.0,771.1 383.4,771.7 383.8,771.0 384.2,771.6 384.6,770.5 385.0,771.4 385.4,770.9 385.8,771.1 386.2,771.0 386.6,771.5 387.0,769.7 387.4,771.0 387.8,769.9 388.2,771.5 388.6,769.6 389.0,770.1 389.4,769.7 389.8,771.7 390.2,769.9 390.6,770.7 391.0,770.3 391.4,769.5 391.8,770.4 392.2,771.0 392.6,770.6 393.0,771.2 393.4,770.5 393.8,770.7 394.2,770.5 394.6,771.0 395.0,771.9 395.4,771.0 395.8,770.9 396.2,770.4 396.6,770.4 397.0,771.7 397.4,770.1 397.8,770.2 398.2,770.6 398.6,770.4 399.0,771.8 399.4,769.2 399.8,770.7 400.2,770.9 400.6,769.8 401.0,770.0 401.4,770.6 401.8,771.3 402.2,769.7 402.6,769.3 403.0,770.8 403.4,771.1 403.8,770.0 404.2,768.8 404.6,771.0 405.0,770.0 405.4,770.8 405.8,770.1 406.2,769.9 406.6,769.9 407.0,771.0 407.4,771.0 407.8,768.8 408.2,769.6 408.6,771.2 409.0,769.9 409.4,769.3 409.8,770.1 410.2,770.0 410.6,769.9 411.0,769.7 411.4,769.8 411.8,769.7 412.2,770.1 412.6,769.4 413.0,769.7 413.4,769.7 413.8,770.6 414.2,770.0 414.6,769.7 415.0,770.0 415.4,769.9 415.8,770.3 416.2,769.9 416.6,770.6 417.0,770.3 417.4,769.5 417.8,769.2 418.2,769.9 418.6,769.7 419.0,769.3 419.4,768.4 419.8,768.1 420.2,769.4 420.6,769.6 421.0,769.6 421.4,768.4 421.8,769.8 422.2,768.8 422.6,769.4 423.0,769.4 423.4,768.7 423.8,768.8 424.2,767.9 424.6,768.6 425.0,768.1 425.4,769.4 425.8,769.2 426.2,769.7 426.6,769.4 427.0,768.8 427.4,769.3 427.8,768.8 428.2,769.4 428.6,769.2 429.0,768.3 429.4,768.9 429.8,768.9 430.2,768.6 430.6,769.3 431.0,769.8 431.4,768.5 431.8,768.4 432.2,767.2 432.6,768.5 433.0,768.3 433.4,767.3 433.8,768.8 434.2,769.0 434.6,768.2 435.0,768.5 435.4,768.2 435.8,769.3 436.2,768.0 436.6,768.7 437.0,770.1 437.4,769.0 437.8,769.3 438.2,769.0 438.6,768.4 439.0,769.2 439.4,769.4 439.8,768.5 440.2,769.3 440.6,769.8 441.0,769.7 441.4,768.1 441.8,768.4 442.2,768.0 442.6,769.6 443.0,769.3 443.4,769.3 443.8,768.3 444.2,768.1 444.6,768.9 445.0,768.8 445.4,768.3 445.8,769.0 446.2,769.3 446.6,769.1 447.0,768.4 447.4,767.8 447.8,769.0 448.2,769.3 448.6,769.1 449.0,769.0 449.4,768.9 449.8,769.8 450.2,769.4 450.6,769.6 451.0,769.0 451.4,769.1 451.8,769.6 452.2,768.8 452.6,768.6 453.0,769.2 453.4,770.0 453.8,769.4 454.2,770.1 454.6,769.1 455.0,769.0 455.4,768.3 455.8,768.7 456.2,769.9 456.6,769.2 457.0,769.4 457.4,769.4 457.8,769.0 458.2,768.9 458.6,769.1 459.0,769.4 459.4,769.3 459.8,769.3 460.2,769.1 460.6,768.6 461.0,768.9 461.4,768.5 461.8,769.7 462.2,767.8 462.6,769.0 463.0,770.5 463.4,768.8 463.8,768.3 464.2,769.0 464.6,769.7 465.0,768.8 465.4,769.2 465.8,768.8 466.2,768.5 466.6,770.6 467.0,768.7 467.4,768.3 467.8,768.3 468.2,768.8 468.6,768.7 469.0,768.9 469.4,768.5 469.8,767.4 470.2,768.6 470.6,768.0 471.0,767.9 471.4,767.2 471.8,767.6 472.2,767.5 472.6,767.8 473.0,766.9 473.4,767.8 473.8,767.7 474.2,766.9 474.6,767.2 475.0,766.9 475.4,768.0 475.8,765.9 476.2,767.2 476.6,766.4 477.0,767.1 477.4,767.8 477.8,766.9 478.2,767.4 478.6,766.7 479.0,768.4 479.4,767.8 479.8,767.9 480.2,766.4 480.6,766.5 481.0,767.8 481.4,767.0 481.8,766.9 482.2,767.3 482.6,766.3 483.0,767.5 483.4,767.1 483.8,767.3 484.2,766.6 484.6,767.3 485.0,766.6 485.4,767.6 485.8,767.7 486.2,767.6 486.6,767.3 487.0,767.4 487.4,765.3 487.8,767.4 488.2,766.6 488.6,766.8 489.0,766.5 489.4,765.8 489.8,766.2 490.2,766.9 490.6,767.2 491.0,766.0 491.4,765.7 491.8,767.1 492.2,765.6 492.6,767.3 493.0,766.0 493.4,765.5 493.8,766.6 494.2,767.0 494.6,765.2 495.0,767.0 495.4,765.9 495.8,766.9 496.2,765.8 496.6,765.1 497.0,766.4 497.4,766.6 497.8,767.3 498.2,767.1 498.6,766.5 499.0,766.0 499.4,765.8 499.8,765.9 500.2,765.6 500.6,765.9 501.0,764.6 501.4,766.2 501.8,766.1 502.2,767.6 502.6,766.6 503.0,765.8 503.4,766.4 503.8,765.4 504.2,765.7 504.6,765.0 505.0,767.0 505.4,766.5 505.8,765.5 506.2,766.2 506.6,766.8 507.0,766.6 507.4,766.6 507.8,765.8 508.2,766.0 508.6,766.5 509.0,767.0 509.4,766.0 509.8,765.9 510.2,767.3 510.6,766.1 511.0,767.3 511.4,766.8 511.8,767.3 512.2,767.8 512.6,767.2 513.0,767.3 513.4,766.3 513.8,766.5 514.2,767.4 514.6,767.9 515.0,767.9 515.4,768.5 515.8,767.3 516.2,767.3 516.6,767.8 517.0,767.2 517.4,767.2 517.8,766.7 518.2,767.9 518.6,766.7 519.0,767.7 519.4,766.6 519.8,768.1 520.2,766.9 520.6,768.0 521.0,766.6 521.4,767.3 521.8,768.3 522.2,767.2 522.6,767.7 523.0,767.4 523.4,766.3 523.8,767.8 524.2,767.9 524.6,766.9 525.0,767.9 525.4,767.0 525.8,766.8 526.2,767.4 526.6,767.0 527.0,768.7 527.4,766.4 527.8,767.7 528.2,767.8 528.6,766.0 529.0,766.1 529.4,767.5 529.8,767.0 530.2,767.6 530.6,768.1 531.0,767.2 531.4,766.9 531.8,765.9 532.2,767.8 532.6,767.1 533.0,768.0 533.4,768.0 533.8,767.1 534.2,769.0 534.6,768.7 535.0,768.6 535.4,767.4 535.8,767.9 536.2,767.8 536.6,768.0 537.0,767.6 537.4,768.5 537.8,768.4 538.2,768.6 538.6,768.1 539.0,769.2 539.4,768.5 539.8,766.8 540.2,768.1 540.6,768.5 541.0,769.1 541.4,768.4 541.8,768.4 542.2,768.2 542.6,769.0 543.0,768.3 543.4,768.2 543.8,768.1 544.2,768.9 544.6,768.2 545.0,767.6 545.4,768.9 545.8,768.2 546.2,768.8 546.6,768.8 547.0,769.3 547.4,769.2 547.8,768.2 548.2,768.4 548.6,767.7 549.0,769.5 549.4,768.7 549.8,769.3 550.2,768.3 550.6,767.2 551.0,769.3 551.4,768.5 551.8,768.5 552.2,768.4 552.6,768.7 553.0,768.7 553.4,767.3 553.8,768.9 554.2,767.9 554.6,767.9 555.0,769.1 555.4,768.6 555.8,767.8 556.2,766.8 556.6,768.0 557.0,768.2 557.4,767.8 557.8,767.0 558.2,767.2 558.6,766.9 559.0,767.8 559.4,768.1 559.8,768.1 560.2,767.0 560.6,767.5 561.0,767.7 561.4,767.0 561.8,767.1 562.2,768.4 562.6,767.2 563.0,767.6 563.4,766.7 563.8,766.9 564.2,765.8 564.6,766.8 565.0,767.5 565.4,768.0 565.8,767.4 566.2,767.1 566.6,766.8 567.0,766.4 567.4,766.6 567.8,767.1 568.2,766.2 568.6,767.3 569.0,766.1 569.4,765.6 569.8,766.1 570.2,765.7 570.6,765.9 571.0,767.4 571.4,766.6 571.8,766.8 572.2,767.3 572.6,767.3 573.0,766.3 573.4,767.3 573.8,766.7 574.2,766.5 574.6,766.7 575.0,765.6 575.4,765.9 575.8,766.3 576.2,766.7 576.6,766.1 577.0,766.2 577.4,766.8 577.8,767.0 578.2,766.6 578.6,766.8 579.0,765.8 579.4,765.8 579.8,766.1 580.2,765.7 580.6,765.5 581.0,766.7 581.4,765.6 581.8,765.1 582.2,765.9 582.6,766.6 583.0,765.5 583.4,766.2 583.8,765.1 584.2,765.1 584.6,764.9 585.0,765.2 585.4,766.4 585.8,764.5 586.2,766.2 586.6,764.6 587.0,765.0 587.4,765.6 587.8,765.4 588.2,765.2 588.6,764.0 589.0,765.2 589.4,764.4 589.8,766.6 590.2,764.9 590.6,765.2 591.0,764.4 591.4,764.8 591.8,764.4 592.2,765.8 592.6,765.1 593.0,765.6 593.4,764.9 593.8,765.0 594.2,766.1 594.6,764.8 595.0,764.3 595.4,765.6 595.8,764.7 596.2,765.1 596.6,765.9 597.0,764.9 597.4,765.9 597.8,765.0 598.2,766.3 598.6,766.2 599.0,765.1 599.4,765.2 599.8,764.9 600.2,765.5 600.6,766.0 601.0,764.5 601.4,765.9 601.8,764.5 602.2,764.8 602.6,764.2 603.0,766.6 603.4,765.3 603.8,765.4 604.2,764.9 604.6,765.9 605.0,764.0 605.4,765.3 605.8,766.6 606.2,765.0 606.6,765.2 607.0,765.6 607.4,764.8 607.8,765.3 608.2,765.9 608.6,765.5 609.0,765.7 609.4,765.3 609.8,765.7 610.2,765.6 610.6,766.5 611.0,766.1 611.4,765.6 611.8,764.3 612.2,766.3 612.6,766.3 613.0,765.4 613.4,764.8 613.8,765.3 614.2,766.6 614.6,765.4 615.0,765.8 615.4,766.2 615.8,766.8 616.2,766.1 616.6,766.1 617.0,765.8 617.4,767.2 617.8,766.8 618.2,766.2 618.6,765.4 619.0,765.8 619.4,766.6 619.8,765.9 620.2,766.8 620.6,766.5 621.0,766.5 621.4,766.7 621.8,766.6 622.2,765.8 622.6,766.2 623.0,767.8 623.4,765.7 623.8,766.1 624.2,767.0 624.6,766.3 625.0,765.9 625.4,765.6 625.8,766.7 626.2,767.0 626.6,767.3 627.0,766.4 627.4,767.0 627.8,765.8 628.2,766.5 628.6,766.0 629.0,766.5 629.4,766.9 629.8,767.1 630.2,765.8 630.2,760.3 629.8,759.9 629.4,757.1 629.0,760.8 628.6,761.0 628.2,761.2 627.8,761.9 627.4,761.2 627.0,761.9 626.6,761.6 626.2,761.0 625.8,761.5 625.4,760.3 625.0,762.0 624.6,761.7 624.2,761.9 623.8,760.6 623.4,761.7 623.0,761.2 622.6,761.7 622.2,761.4 621.8,760.2 621.4,761.5 621.0,761.2 620.6,761.0 620.2,760.8 619.8,761.2 619.4,761.7 619.0,761.6 618.6,761.6 618.2,761.0 617.8,761.8 617.4,761.2 617.0,761.4 616.6,761.5 616.2,761.2 615.8,760.6 615.4,761.3 615.0,760.3 614.6,761.3 614.2,761.0 613.8,760.9 613.4,760.9 613.0,760.9 612.6,761.4 612.2,760.3 611.8,760.7 611.4,760.8 611.0,760.5 610.6,761.0 610.2,760.6 609.8,759.9 609.4,760.6 609.0,760.1 608.6,760.5 608.2,760.9 607.8,760.6 607.4,759.5 607.0,759.9 606.6,760.0 606.2,759.8 605.8,760.5 605.4,759.3 605.0,760.5 604.6,760.8 604.2,760.5 603.8,759.8 603.4,757.9 603.0,759.8 602.6,760.2 602.2,759.9 601.8,760.4 601.4,760.8 601.0,759.9 600.6,760.2 600.2,760.3 599.8,760.3 599.4,760.2 599.0,759.5 598.6,759.5 598.2,758.7 597.8,759.9 597.4,758.7 597.0,760.3 596.6,761.0 596.2,760.5 595.8,760.3 595.4,760.8 595.0,760.9 594.6,759.4 594.2,760.3 593.8,759.9 593.4,758.7 593.0,760.6 592.6,759.0 592.2,760.7 591.8,759.6 591.4,759.8 591.0,760.0 590.6,759.7 590.2,760.0 589.8,759.7 589.4,760.1 589.0,756.7 588.6,759.1 588.2,758.8 587.8,759.3 587.4,760.7 587.0,758.5 586.6,759.7 586.2,759.9 585.8,760.5 585.4,760.2 585.0,760.1 584.6,759.3 584.2,760.5 583.8,759.8 583.4,760.3 583.0,760.6 582.6,760.4 582.2,758.2 581.8,760.5 581.4,761.1 581.0,760.7 580.6,760.3 580.2,759.4 579.8,761.2 579.4,761.0 579.0,760.9 578.6,761.3 578.2,760.9 577.8,761.3 577.4,761.5 577.0,761.3 576.6,761.1 576.2,760.5 575.8,756.8 575.4,760.4 575.0,761.3 574.6,761.9 574.2,760.4 573.8,761.6 573.4,760.6 573.0,761.3 572.6,760.6 572.2,761.7 571.8,761.5 571.4,761.4 571.0,761.3 570.6,762.2 570.2,761.7 569.8,761.3 569.4,761.8 569.0,762.3 568.6,761.9 568.2,761.4 567.8,761.9 567.4,760.5 567.0,761.4 566.6,762.2 566.2,762.0 565.8,760.5 565.4,761.9 565.0,760.8 564.6,761.9 564.2,761.3 563.8,761.3 563.4,761.0 563.0,759.8 562.6,762.6 562.2,762.6 561.8,762.8 561.4,762.2 561.0,762.9 560.6,762.5 560.2,763.0 559.8,763.0 559.4,762.9 559.0,762.4 558.6,763.1 558.2,762.2 557.8,762.1 557.4,762.4 557.0,762.6 556.6,762.4 556.2,762.2 555.8,762.2 555.4,762.6 555.0,763.2 554.6,761.3 554.2,763.1 553.8,763.4 553.4,763.0 553.0,763.9 552.6,763.8 552.2,762.9 551.8,763.8 551.4,763.0 551.0,764.0 550.6,763.7 550.2,763.3 549.8,763.3 549.4,763.8 549.0,763.6 548.6,763.4 548.2,762.4 547.8,762.9 547.4,763.9 547.0,763.4 546.6,763.8 546.2,763.3 545.8,762.4 545.4,762.9 545.0,761.8 544.6,763.3 544.2,764.0 543.8,763.7 543.4,763.7 543.0,763.9 542.6,763.4 542.2,763.0 541.8,762.3 541.4,763.2 541.0,763.1 540.6,763.7 540.2,761.7 539.8,763.9 539.4,763.7 539.0,763.1 538.6,763.8 538.2,763.0 537.8,763.1 537.4,763.5 537.0,762.2 536.6,762.7 536.2,762.4 535.8,763.4 535.4,763.0 535.0,763.6 534.6,762.3 534.2,762.4 533.8,763.2 533.4,762.9 533.0,763.0 532.6,761.8 532.2,762.5 531.8,761.8 531.4,762.6 531.0,762.5 530.6,762.4 530.2,762.5 529.8,762.8 529.4,762.4 529.0,762.5 528.6,761.5 528.2,761.9 527.8,761.7 527.4,762.6 527.0,762.9 526.6,761.5 526.2,762.8 525.8,759.8 525.4,762.2 525.0,761.3 524.6,761.8 524.2,759.0 523.8,762.8 523.4,762.6 523.0,763.1 522.6,762.9 522.2,761.7 521.8,763.0 521.4,760.0 521.0,762.2 520.6,762.4 520.2,761.6 519.8,762.5 519.4,762.6 519.0,762.8 518.6,762.6 518.2,761.4 517.8,761.9 517.4,761.4 517.0,761.7 516.6,762.3 516.2,761.3 515.8,762.7 515.4,761.4 515.0,762.2 514.6,762.4 514.2,761.1 513.8,761.7 513.4,762.4 513.0,757.9 512.6,762.3 512.2,762.3 511.8,761.1 511.4,760.6 511.0,762.2 510.6,761.5 510.2,761.7 509.8,762.0 509.4,762.0 509.0,760.6 508.6,762.0 508.2,760.4 507.8,761.9 507.4,761.0 507.0,760.0 506.6,761.8 506.2,760.9 505.8,760.4 505.4,761.7 505.0,759.1 504.6,760.9 504.2,760.6 503.8,759.9 503.4,761.1 503.0,761.6 502.6,760.6 502.2,758.6 501.8,761.2 501.4,761.5 501.0,761.4 500.6,760.0 500.2,761.1 499.8,761.1 499.4,760.5 499.0,759.5 498.6,761.6 498.2,761.4 497.8,759.9 497.4,760.0 497.0,761.5 496.6,760.9 496.2,761.4 495.8,761.1 495.4,759.6 495.0,761.3 494.6,761.3 494.2,760.4 493.8,761.0 493.4,759.5 493.0,761.3 492.6,759.9 492.2,761.2 491.8,761.6 491.4,760.9 491.0,757.1 490.6,761.6 490.2,760.8 489.8,759.7 489.4,760.2 489.0,761.9 488.6,761.0 488.2,761.2 487.8,760.8 487.4,760.4 487.0,761.3 486.6,762.1 486.2,761.5 485.8,762.3 485.4,761.2 485.0,762.2 484.6,762.5 484.2,762.6 483.8,760.3 483.4,761.4 483.0,762.1 482.6,762.1 482.2,761.7 481.8,761.1 481.4,761.2 481.0,760.9 480.6,760.8 480.2,761.1 479.8,762.2 479.4,762.5 479.0,762.8 478.6,761.6 478.2,762.4 477.8,762.8 477.4,762.2 477.0,761.6 476.6,761.9 476.2,761.1 475.8,762.7 475.4,762.7 475.0,762.3 474.6,762.6 474.2,762.6 473.8,763.1 473.4,763.0 473.0,762.5 472.6,761.8 472.2,763.1 471.8,761.8 471.4,763.4 471.0,762.9 470.6,762.2 470.2,762.9 469.8,762.4 469.4,763.3 469.0,763.7 468.6,763.3 468.2,764.0 467.8,763.1 467.4,763.6 467.0,763.1 466.6,763.7 466.2,763.5 465.8,762.2 465.4,764.3 465.0,764.3 464.6,762.3 464.2,763.5 463.8,764.5 463.4,763.5 463.0,764.2 462.6,763.2 462.2,764.6 461.8,764.2 461.4,764.6 461.0,764.5 460.6,763.6 460.2,764.5 459.8,763.8 459.4,763.6 459.0,764.4 458.6,764.5 458.2,764.1 457.8,764.5 457.4,763.9 457.0,764.5 456.6,764.5 456.2,763.4 455.8,764.3 455.4,763.6 455.0,764.5 454.6,764.5 454.2,763.7 453.8,764.8 453.4,764.7 453.0,762.5 452.6,764.9 452.2,764.2 451.8,764.6 451.4,764.4 451.0,764.3 450.6,764.7 450.2,764.7 449.8,763.5 449.4,764.3 449.0,764.4 448.6,764.4 448.2,763.6 447.8,764.5 447.4,764.7 447.0,764.1 446.6,763.1 446.2,764.3 445.8,763.5 445.4,764.1 445.0,763.4 444.6,762.3 444.2,763.7 443.8,764.4 443.4,764.2 443.0,763.7 442.6,764.2 442.2,763.2 441.8,763.4 441.4,763.7 441.0,764.3 440.6,764.7 440.2,763.7 439.8,763.5 439.4,763.7 439.0,764.1 438.6,763.4 438.2,764.6 437.8,763.1 437.4,763.5 437.0,764.1 436.6,763.0 436.2,764.1 435.8,764.3 435.4,762.6 435.0,763.5 434.6,763.5 434.2,763.4 433.8,763.7 433.4,764.1 433.0,763.9 432.6,762.7 432.2,763.3 431.8,762.7 431.4,764.0 431.0,763.5 430.6,763.9 430.2,764.3 429.8,760.4 429.4,764.2 429.0,764.3 428.6,764.4 428.2,764.6 427.8,764.3 427.4,762.1 427.0,763.4 426.6,760.1 426.2,764.7 425.8,763.1 425.4,764.5 425.0,763.0 424.6,764.2 424.2,764.5 423.8,763.6 423.4,763.8 423.0,763.5 422.6,763.8 422.2,760.9 421.8,762.6 421.4,764.6 421.0,764.3 420.6,764.7 420.2,764.1 419.8,764.4 419.4,762.6 419.0,764.5 418.6,761.5 418.2,765.0 417.8,764.9 417.4,764.4 417.0,764.8 416.6,764.8 416.2,763.5 415.8,764.7 415.4,764.4 415.0,764.5 414.6,763.9 414.2,764.1 413.8,765.0 413.4,763.5 413.0,764.4 412.6,764.9 412.2,765.1 411.8,765.4 411.4,764.7 411.0,764.4 410.6,765.0 410.2,765.2 409.8,765.2 409.4,764.8 409.0,763.9 408.6,765.0 408.2,764.8 407.8,764.6 407.4,764.2 407.0,765.3 406.6,765.6 406.2,763.9 405.8,765.1 405.4,765.4 405.0,764.7 404.6,765.7 404.2,764.9 403.8,764.0 403.4,765.1 403.0,765.4 402.6,765.8 402.2,765.6 401.8,765.7 401.4,765.4 401.0,763.9 400.6,763.1 400.2,764.3 399.8,764.5 399.4,766.2 399.0,765.5 398.6,765.1 398.2,765.5 397.8,765.8 397.4,765.5 397.0,765.5 396.6,766.1 396.2,765.5 395.8,766.3 395.4,766.2 395.0,765.9 394.6,766.1 394.2,765.8 393.8,766.2 393.4,765.1 393.0,763.8 392.6,765.8 392.2,765.1 391.8,764.9 391.4,764.9 391.0,765.3 390.6,765.7 390.2,764.6 389.8,766.2 389.4,765.1 389.0,765.8 388.6,765.1 388.2,765.9 387.8,765.5 387.4,766.2 387.0,765.4 386.6,766.5 386.2,765.0 385.8,765.3 385.4,764.9 385.0,765.5 384.6,766.2 384.2,766.4 383.8,765.4 383.4,763.4 383.0,765.8 382.6,765.6 382.2,766.5 381.8,765.6 381.4,766.1 381.0,766.5 380.6,765.8 380.2,766.3 379.8,764.7 379.4,766.7 379.0,766.3 378.6,766.3 378.2,765.3 377.8,766.1 377.4,766.6 377.0,766.3 376.6,764.8 376.2,763.4 375.8,766.1 375.4,765.9 375.0,766.5 374.6,764.8 374.2,766.4 373.8,766.3 373.4,766.1 373.0,765.6 372.6,764.2 372.2,766.2 371.8,766.4 371.4,766.5 371.0,764.9 370.6,764.9 370.2,766.6 369.8,765.8 369.4,766.6 369.0,765.3 368.6,766.0 368.2,766.3 367.8,765.5 367.4,766.6 367.0,766.7 366.6,766.4 366.2,766.6 365.8,766.9 365.4,766.7 365.0,766.7 364.6,767.1 364.2,766.9 363.8,765.5 363.4,766.3 363.0,766.3 362.6,766.9 362.2,766.6 361.8,766.6 361.4,766.6 361.0,766.5 360.6,765.4 360.2,767.1 359.8,767.5 359.4,767.6 359.0,766.9 358.6,767.5 358.2,765.9 357.8,767.4 357.4,766.8 357.0,766.9 356.6,767.6 356.2,766.3 355.8,767.5 355.4,766.6 355.0,766.1 354.6,766.5 354.2,766.9 353.8,766.7 353.4,766.7 353.0,767.2 352.6,766.8 352.2,766.9 351.8,767.0 351.4,765.7 351.0,766.6 350.6,767.9 350.2,767.7 349.8,767.2 349.4,768.0 349.0,766.7 348.6,767.8 348.2,767.5 347.8,767.7 347.4,767.9 347.0,767.6 346.6,767.9 346.2,766.9 345.8,766.8 345.4,767.6 345.0,766.7 344.6,767.8 344.2,767.8 343.8,767.9 343.4,767.4 343.0,768.0 342.6,766.6 342.2,767.9 341.8,767.5 341.4,766.8 341.0,767.9 340.6,765.0 340.2,767.1 339.8,767.6 339.4,766.1 339.0,763.6 338.6,767.6 338.2,767.2 337.8,767.7 337.4,767.3 337.0,766.3 336.6,767.1 336.2,766.7 335.8,767.3 335.4,765.2 335.0,767.0 334.6,766.5 334.2,766.6 333.8,766.3 333.4,766.3 333.0,765.5 332.6,766.8 332.2,766.6 331.8,765.2 331.4,766.8 331.0,766.5 330.6,765.9 330.2,766.6 329.8,766.1 329.4,765.3 329.0,766.9 328.6,766.6 328.2,767.0 327.8,766.6 327.4,766.7 327.0,766.1 326.6,766.2 326.2,765.7 325.8,765.8 325.4,766.7 325.0,766.9 324.6,766.6 324.2,767.3 323.8,766.8 323.4,766.5 323.0,766.8 322.6,767.3 322.2,766.1 321.8,766.8 321.4,767.3 321.0,767.0 320.6,767.0 320.2,766.4 319.8,767.0 319.4,767.1 319.0,766.1 318.6,766.5 318.2,765.6 317.8,765.1 317.4,765.6 317.0,766.3 316.6,766.6 316.2,765.0 315.8,766.2 315.4,766.6 315.0,766.3 314.6,765.4 314.2,766.6 313.8,766.5 313.4,767.3 313.0,764.3 312.6,766.0 312.2,766.3 311.8,766.8 311.4,767.0 311.0,767.1 310.6,766.3 310.2,766.7 309.8,767.0 309.4,766.7 309.0,766.7 308.6,766.7 308.2,765.2 307.8,766.8 307.4,766.0 307.0,766.7 306.6,766.0 306.2,766.1 305.8,766.4 305.4,766.0 305.0,766.3 304.6,766.7 304.2,765.6 303.8,766.4 303.4,766.2 303.0,766.5 302.6,766.0 302.2,765.8 301.8,766.0 301.4,766.1 301.0,765.0 300.6,766.0 300.2,765.1 299.8,765.2 299.4,765.9 299.0,766.5 298.6,762.9 298.2,766.2 297.8,764.1 297.4,765.7 297.0,766.4 296.6,765.7 296.2,765.6 295.8,766.3 295.4,766.2 295.0,764.7 294.6,765.7 294.2,765.9 293.8,765.6 293.4,766.2 293.0,764.2 292.6,766.2 292.2,765.9 291.8,765.4 291.4,764.9 291.0,765.9 290.6,765.6 290.2,765.4 289.8,765.9 289.4,765.8 289.0,766.0 288.6,765.9 288.2,766.1 287.8,765.7 287.4,766.1 287.0,766.0 286.6,765.7 286.2,765.1 285.8,765.1 285.4,766.3 285.0,765.5 284.6,764.6 284.2,766.0 283.8,765.8 283.4,765.7 283.0,765.6 282.6,765.3 282.2,765.6 281.8,765.9 281.4,766.4 281.0,766.2 280.6,766.0 280.2,764.8 279.8,764.2 279.4,766.1 279.0,765.3 278.6,766.9 278.2,766.1 277.8,766.8 277.4,767.1 277.0,765.7 276.6,766.4 276.2,767.3 275.8,766.8 275.4,766.4 275.0,767.0 274.6,767.1 274.2,766.7 273.8,766.7 273.4,766.3 273.0,767.4 272.6,767.1 272.2,766.5 271.8,767.3 271.4,766.5 271.0,767.0 270.6,767.2 270.2,766.5 269.8,766.8 269.4,767.1 269.0,765.7 268.6,766.6 268.2,767.0 267.8,766.8 267.4,766.4 267.0,767.0 266.6,767.6 266.2,767.2 265.8,767.4 265.4,761.7 265.0,767.2 264.6,766.6 264.2,767.4 263.8,766.1 263.4,767.5 263.0,766.6 262.6,767.9 262.2,767.6 261.8,767.7 261.4,767.4 261.0,766.5 260.6,767.4 260.2,767.0 259.8,767.0 259.4,766.8 259.0,767.2 258.6,767.1 258.2,768.1 257.8,764.1 257.4,768.1 257.0,767.9 256.6,767.7 256.2,767.8 255.8,767.1 255.4,767.6 255.0,766.9 254.6,767.0 254.2,767.9 253.8,768.4 253.4,767.4 253.0,767.4 252.6,768.3 252.2,767.5 251.8,767.3 251.4,767.2 251.0,768.1 250.6,768.3 250.2,766.8 249.8,767.7 249.4,768.1 249.0,768.3 248.6,768.0 248.2,768.4 247.8,768.2 247.4,767.6 247.0,768.5 246.6,767.9 246.2,768.2 245.8,767.5 245.4,767.6 245.0,768.1 244.6,768.5 244.2,767.2 243.8,768.7 243.4,767.1 243.0,768.4 242.6,767.7 242.2,768.6 241.8,767.4 241.4,768.8 241.0,768.4 240.6,767.3 240.2,769.2 239.8,769.1 239.4,768.7 239.0,767.5 238.6,767.6 238.2,768.9 237.8,769.1 237.4,768.7 237.0,767.7 236.6,768.8 236.2,768.5 235.8,768.7 235.4,769.0 235.0,769.1 234.6,769.2 234.2,768.6 233.8,768.9 233.4,769.2 233.0,769.5 232.6,769.2 232.2,768.9 231.8,768.7 231.4,769.4 231.0,768.2 230.6,769.5 230.2,767.4 229.8,768.8 229.4,768.9 229.0,768.0 228.6,767.6 228.2,769.3 227.8,769.5 227.4,768.9 227.0,769.0 226.6,768.1 226.2,768.2 225.8,767.7 225.4,767.1 225.0,769.0 224.6,769.4 224.2,768.5 223.8,767.5 223.4,769.4 223.0,766.9 222.6,768.6 222.2,768.1 221.8,768.8 221.4,768.7 221.0,769.3 220.6,768.6 220.2,769.2 219.8,768.6 219.4,766.9 219.0,768.1 218.6,768.8 218.2,768.4 217.8,767.0 217.4,769.2 217.0,768.3 216.6,768.6 216.2,767.9 215.8,768.4 215.4,768.6 215.0,768.3 214.6,767.6 214.2,767.4 213.8,766.5 213.4,767.6 213.0,766.9 212.6,767.9 212.2,767.8 211.8,767.9 211.4,767.2 211.0,766.4 210.6,767.0 210.2,767.7 209.8,766.4 209.4,767.7 209.0,767.2 208.6,767.7 208.2,767.3 207.8,766.7 207.4,767.3 207.0,765.8 206.6,767.2 206.2,766.4 205.8,766.8 205.4,766.4 205.0,764.8 204.6,766.3 204.2,767.0 203.8,767.0 203.4,767.1 203.0,766.7 202.6,767.2 202.2,767.1 201.8,767.6 201.4,766.8 201.0,767.0 200.6,767.7 200.2,766.9 199.8,767.0 199.4,767.6 199.0,767.7 198.6,767.7 198.2,766.8 197.8,767.9 197.4,767.9 197.0,767.8 196.6,766.6 196.2,766.5 195.8,767.0 195.4,766.4 195.0,767.7 194.6,767.5 194.2,767.0 193.8,766.9 193.4,767.5 193.0,767.6 192.6,767.8 192.2,767.8 191.8,767.4 191.4,767.8 191.0,766.6 190.6,767.9 190.2,767.4 189.8,767.7 189.4,767.2 189.0,767.8 188.6,768.1 188.2,766.9 187.8,767.5 187.4,768.0 187.0,766.5 186.6,767.7 186.2,768.3 185.8,768.3 185.4,768.0 185.0,768.1 184.6,768.6 184.2,768.3 183.8,768.1 183.4,767.8 183.0,767.8 182.6,768.3 182.2,767.1 181.8,768.3 181.4,768.3 181.0,769.0 180.6,768.2 180.2,769.0 179.8,768.5 179.4,767.9 179.0,768.4 178.6,766.6 178.2,768.7 177.8,769.0 177.4,767.7 177.0,768.1 176.6,768.8 176.2,767.8 175.8,768.1 175.4,767.5 175.0,767.4 174.6,768.3 174.2,768.2 173.8,768.4 173.4,767.4 173.0,768.7 172.6,768.3 172.2,768.3 171.8,768.8 171.4,769.1 171.0,769.2 170.6,769.5 170.2,769.4 169.8,769.6 169.4,769.2 169.0,769.0 168.6,768.2 168.2,768.9 167.8,768.8 167.4,769.5 167.0,769.2 166.6,768.8 166.2,768.7 165.8,769.3 165.4,768.2 165.0,768.8 164.6,769.7 164.2,769.2 163.8,768.7 163.4,769.5 163.0,767.9 162.6,768.3 162.2,768.3 161.8,769.4 161.4,768.8 161.0,768.8 160.6,768.8 160.2,768.1 159.8,767.2 159.4,768.3 159.0,769.1 158.6,769.5 158.2,769.5 157.8,768.1 157.4,767.4 157.0,768.9 156.6,769.1 156.2,766.3 155.8,768.7 155.4,768.9 155.0,768.2 154.6,764.2 154.2,769.0 153.8,769.2 153.4,768.4 153.0,767.9 152.6,767.4 152.2,768.8 151.8,769.1 151.4,767.8 151.0,768.2 150.6,768.3 150.2,768.6 149.8,769.1 149.4,768.0 149.0,769.0 148.6,768.9 148.2,768.5 147.8,768.9 147.4,767.8 147.0,769.0 146.6,768.7 146.2,768.2 145.8,767.8 145.4,768.7 145.0,768.7 144.6,768.9 144.2,769.4 143.8,768.9 143.4,768.5 143.0,768.5 142.6,768.9 142.2,768.9 141.8,767.6 141.4,768.7 141.0,768.9 140.6,769.4 140.2,769.4 139.8,767.4 139.4,767.7 139.0,769.5 138.6,767.0 138.2,768.7 137.8,769.0 137.4,768.7 137.0,769.4 136.6,769.2 136.2,768.7 135.8,769.0 135.4,767.0 135.0,768.9 134.6,768.2 134.2,768.9 133.8,768.9 133.4,768.9 133.0,768.8 132.6,768.5 132.2,768.0 131.8,768.5 131.4,768.1 131.0,768.5 130.6,767.4 130.2,768.8 129.8,768.6 129.4,769.0 129.0,769.0 128.6,768.5 128.2,768.7 127.8,768.4 127.4,765.5 127.0,767.7" fill="#000" />
<line x1="595.40" y1="566.90" x2="595.40" y2="670.00" stroke="#9a9a9a" stroke-width="1.0" />
<line x1="595.40" y1="670.00" x2="595.40" y2="774.70" stroke="#6a6a6a" stroke-width="1.5" />
<text x="5.27" y="785.75" font-size="34.5" >-77 mV</text>
<rect x="553.90" y="792.50" width="47.00" height="3.40" fill="#000"/>
<text x="532.9" y="830.21" font-size="34.5" >1 min</text>
<polyline points="692.3,764.6 693.0,764.6 693.7,764.4 694.4,764.9 695.1,764.8 695.8,764.6 696.5,764.6 697.2,764.4 697.9,764.7 698.6,765.3 699.3,764.6 700.0,764.9 700.7,764.7 701.4,765.0 702.1,764.9 702.8,764.7 703.5,764.4 704.2,764.7 704.9,765.1 705.6,764.7 706.3,764.9 707.0,764.7 707.7,764.3 708.4,764.9 709.1,764.9 709.8,764.7 710.5,764.7 711.2,764.9 711.9,764.6 712.6,764.9 713.3,764.7 714.0,764.2 714.7,764.8 715.4,764.6 716.1,764.6 716.8,764.9 717.5,764.7 718.2,764.9 718.9,765.1 719.6,764.8 720.3,764.4 721.0,764.6 721.7,764.4 722.4,763.5 723.1,763.2 723.8,763.7 724.5,764.2 725.2,764.5 725.9,764.5 726.6,764.2 727.3,764.3 728.0,764.3 728.7,764.4 729.4,763.9 730.1,764.3 730.8,764.0 731.5,764.7 732.2,764.7 732.9,764.8 733.6,764.5 734.3,764.2 735.0,764.6 735.7,764.3 736.4,764.5 737.1,764.1 737.8,764.2 738.5,764.4 739.2,764.8 739.9,764.3 740.6,764.9 741.3,765.0 742.0,764.0 742.7,764.3 743.4,764.1 744.1,764.3 744.8,764.2 745.5,764.3 746.2,764.5 746.9,764.5 747.6,764.3 748.3,764.3 749.0,764.3 749.7,764.3 750.4,764.4 751.1,764.2 751.8,764.4 752.5,763.9 753.2,764.4 753.9,764.7 754.6,764.3 755.3,763.9 756.0,764.6 756.7,764.1 757.4,763.5 758.1,764.2 758.8,764.4 759.5,764.3 760.2,764.5 760.9,764.2 761.6,764.0 762.3,763.4 763.0,763.6 763.7,763.8 764.4,763.8 765.1,763.4 765.8,763.6 766.5,763.9 767.2,763.4 767.9,763.5 768.6,764.0 769.3,764.3 770.0,764.2 770.7,763.7 771.4,764.3 772.1,764.0 772.8,764.5 773.5,764.3 774.2,764.4 774.9,764.5 775.6,764.2 776.3,764.5 777.0,764.6 777.7,764.4 778.4,764.7 779.1,764.2 779.8,764.6 780.5,764.4 781.2,764.1 781.9,764.3 782.6,764.2 783.3,764.2 784.0,764.4 784.7,764.6 785.4,764.3 786.1,764.4 786.8,764.0 787.5,764.4 788.2,764.6 788.9,764.6 789.6,764.5 790.3,764.2 791.0,764.1 791.7,764.3 792.4,764.0 793.1,764.1 793.8,764.6 794.5,764.2 795.2,764.8 795.9,764.0 796.6,764.5 797.3,764.1 798.0,764.4 798.7,764.1 799.4,764.4 800.1,764.4 800.8,764.3 801.5,764.5 802.2,764.8 802.9,764.3 803.6,764.6 804.3,764.4 805.0,764.4 805.7,764.9 806.4,763.9 807.1,764.2 807.8,763.9 808.5,764.3 809.2,764.3 809.9,765.3 810.6,764.5 811.3,764.8 812.0,764.7 812.7,764.2 813.4,764.4 814.1,764.6 814.8,764.2 815.5,764.1 816.2,764.2 816.9,763.5 817.6,763.0 818.3,762.6 819.0,761.9 819.7,760.9 820.4,760.6 821.1,760.3 821.8,759.8 822.5,759.6 823.2,759.0 823.9,758.6 824.6,758.1 825.3,758.3 826.0,758.8 826.7,758.5 827.4,759.1 828.1,759.0 828.8,759.1 829.5,758.7 830.2,757.4 830.9,756.4 831.6,755.6 832.3,755.1 833.0,755.2 833.7,753.5 834.4,753.4 835.1,752.8 835.8,752.5 836.5,751.7 837.2,750.8 837.9,751.4 838.6,750.4 839.3,750.3 840.0,749.7 840.7,747.9 841.4,746.2 842.1,742.7 842.8,738.9 843.5,734.8 844.2,732.0 844.9,729.2 845.6,726.7 846.3,720.2 847.0,714.3 847.5,575.4 847.9,708.0 848.4,720.2 850.0,722.6 851.7,722.5 854.0,719.3 855.9,705.3 856.4,569.8 856.9,705.0 857.6,712.0 858.7,715.6 859.6,708.0 860.1,571.2 860.7,705.0 861.6,707.0 863.3,710.0 865.2,701.6 865.9,569.8 866.5,703.0 867.5,706.0 870.3,711.8 874.5,697.9 875.0,568.4 875.6,692.0 876.4,690.4 877.3,718.3 877.3,718.1 878.0,720.9 878.7,723.6 879.4,726.3 880.1,728.7 880.8,732.0 881.5,733.4 882.2,735.3 882.9,736.9 883.6,738.8 884.3,739.6 885.0,742.3 885.7,743.4 886.4,744.2 887.1,745.5 887.8,746.9 888.5,747.5 889.2,748.0 889.9,749.2 890.6,750.6 891.3,750.9 892.0,752.1 892.7,753.1 893.4,754.5 894.1,754.4 894.8,755.4 895.5,755.4 896.2,756.0 896.9,757.0 897.6,757.4 898.3,757.4 899.0,758.6 899.7,759.1 900.4,759.4 901.1,760.1 901.8,760.7 902.5,761.1 903.2,761.4 903.9,761.7 904.6,762.2 905.3,762.2 906.0,762.9 906.7,762.9 907.4,763.6 908.1,763.9 908.8,764.0 909.5,764.9 910.2,765.5 910.9,765.6 911.6,765.2 912.3,766.2 913.0,766.2 913.7,766.4 914.4,766.6 915.1,767.0 915.8,767.7 916.5,767.7 917.2,767.8 917.9,768.0 918.6,768.3 919.3,768.7 920.0,769.2 920.7,768.6 921.4,769.0 922.1,769.1 922.8,769.1 923.5,769.5 924.2,769.7 924.9,769.4 925.6,769.6 926.3,770.3 927.0,770.2 927.7,770.4 928.4,770.3 929.1,770.5 929.8,770.9 930.5,770.7 931.2,770.6 931.9,770.9 932.6,771.2 933.3,770.8 934.0,771.4 934.7,771.3 935.4,771.0 936.1,771.3 936.8,771.3 937.5,771.5 938.2,771.6 938.9,771.1 939.6,771.2 940.3,771.8 941.0,771.7 941.7,771.8 942.4,771.8 943.1,772.2 943.8,771.5 944.5,772.2 945.2,771.7 945.9,772.2 946.6,772.4 947.3,771.8 948.0,772.3 948.7,772.1 949.4,772.1 950.1,772.2 950.8,771.9 951.5,771.9 952.2,772.3 952.9,772.3 953.6,772.0 954.3,771.7 955.0,772.6 955.7,772.3 956.4,772.1 957.1,771.8 957.8,771.9 958.5,772.1 959.2,771.8 959.9,772.4 960.6,772.0 961.3,772.1 962.0,771.7 962.7,771.7 963.4,771.7 964.1,772.0 964.8,771.8 965.5,771.8 966.2,771.9 966.9,771.9 967.6,772.2 968.3,771.8 969.0,771.6 969.7,771.8 970.4,772.1 971.1,771.6 971.8,771.7 972.5,771.6 973.2,771.8 973.9,771.7 974.6,771.4 975.3,771.6 976.0,771.8 976.7,771.8 977.4,771.8 978.1,771.7 978.8,771.4 979.5,771.4 980.2,771.7 980.9,771.1 981.6,771.4 982.3,770.9 983.0,771.3 983.7,771.1 984.4,771.0 985.1,771.4 985.8,771.1 986.5,771.1 987.2,771.1 987.9,771.0 988.6,771.5 989.3,771.0 990.0,771.2 990.7,770.8 991.4,770.9 992.1,771.0 992.8,770.9 993.5,770.8 994.2,771.0 994.9,771.3 995.6,770.8 996.3,770.8 997.0,770.7 997.7,771.4 998.4,771.1 999.1,770.8 999.8,770.8 1000.5,770.4 1001.2,770.5 1001.9,770.5 1002.6,770.5 1003.3,770.2 1004.0,770.2 1004.7,770.4 1005.4,770.3 1006.1,769.7 1006.8,770.2 1007.5,770.5 1008.2,769.9 1008.9,770.1 1009.6,769.7 1010.3,770.2 1011.0,769.7 1011.7,769.6 1012.4,769.8 1013.1,770.4 1013.8,769.6 1014.5,769.4 1015.2,769.8 1015.9,769.7 1016.6,770.0 1017.3,769.2 1018.0,769.1 1018.7,769.4 1019.4,769.5 1020.1,769.5 1020.8,769.6 1021.5,768.9 1022.2,769.1 1022.9,769.2 1023.6,769.4 1024.3,769.3 1025.0,769.0 1025.7,768.8 1026.4,769.2 1027.1,769.2 1027.8,769.6 1028.5,768.8 1029.2,769.2 1029.9,768.5 1030.6,768.6 1031.3,768.5 1032.0,768.5 1032.7,768.4 1033.4,768.4 1034.1,768.5 1034.8,768.4 1035.5,768.6 1036.2,768.4 1036.9,768.3 1037.6,768.7 1038.3,768.3 1039.0,768.2 1039.7,768.2 1040.4,768.1 1041.1,768.2 1041.8,767.8 1042.5,768.3 1043.2,768.3 1043.9,768.2 1044.6,767.7 1045.3,767.4 1046.0,767.6 1046.7,767.7 1047.4,767.9 1048.1,767.6 1048.8,767.5 1049.5,767.9 1050.2,767.3 1050.9,767.7 1051.6,767.6 1052.3,767.0 1053.0,767.4 1053.7,767.1 1054.4,767.0 1055.1,766.7 1055.8,766.7 1056.5,767.2 1057.2,766.9 1057.9,767.0 1058.6,766.7 1059.3,766.8 1060.0,766.8 1060.7,766.4 1061.4,766.3 1062.1,766.8 1062.8,766.7 1063.5,766.4 1064.2,766.6 1064.9,766.8 1065.6,767.1 1066.3,766.4 1067.0,766.7 1067.7,767.1 1068.4,766.6 1069.1,766.9 1069.8,765.9 1070.5,766.9 1071.2,766.5 1071.9,766.0 1072.6,766.6 1073.3,766.7 1074.0,766.7 1074.7,766.7 1075.4,766.4 1076.1,766.2 1076.8,766.3 1077.5,766.3 1078.2,766.4 1078.9,766.2 1079.6,766.3 1080.3,766.5 1081.0,766.3 1081.7,766.8 1082.4,766.7 1083.1,765.9 1083.8,766.0 1084.5,765.8 1085.2,765.8 1085.9,766.1 1086.6,765.7 1087.3,765.7 1088.0,765.8 1088.7,766.1 1089.4,765.8 1090.1,765.7 1090.8,766.0 1091.5,765.9 1092.2,765.8 1092.9,765.9 1093.6,765.4 1094.3,765.7 1095.0,765.4 1095.7,765.8 1096.4,765.7 1097.1,765.2 1097.8,765.8 1098.5,765.1 1099.2,765.7 1099.9,765.4 1100.6,765.1" fill="none" stroke="#4a4a4a" stroke-width="1.25" stroke-linejoin="round" />
<line x1="847.60" y1="625.20" x2="847.60" y2="708.10" stroke="#1a1a1a" stroke-width="1.9" />
<line x1="856.50" y1="694.10" x2="856.50" y2="706.00" stroke="#1a1a1a" stroke-width="1.9" />
<line x1="860.20" y1="572.00" x2="860.20" y2="708.00" stroke="#1a1a1a" stroke-width="1.9" />
<line x1="866.00" y1="588.00" x2="866.00" y2="704.00" stroke="#1a1a1a" stroke-width="1.9" />
<line x1="875.10" y1="595.90" x2="875.10" y2="692.00" stroke="#1a1a1a" stroke-width="1.9" />
<rect x="998.85" y="612.90" width="3.90" height="90.40" fill="#000"/>
<text x="1015.25" y="668.7" font-size="34.5" >40 mV</text>
<rect x="896.50" y="791.10" width="102.00" height="3.80" fill="#000"/>
<text x="913.58" y="829.3" font-size="34.5" >0.5 s</text>
<text x="132.79" y="907.73" font-size="34.5" >Pic + NA</text>
<rect x="116.40" y="918.80" width="504.30" height="10.60" fill="#c4000b"/>
<rect x="116.40" y="939.70" width="504.30" height="10.10" fill="#737373"/>
<rect x="180.70" y="962.30" width="15.50" height="5.20" fill="#000"/>
<rect x="590.00" y="962.90" width="5.70" height="3.80" fill="#000"/>
<polygon points="117.1,1153.9 117.4,1154.3 117.8,1154.4 118.1,1154.0 118.5,1154.6 118.8,1153.6 119.2,1154.2 119.5,1154.2 119.9,1153.2 120.2,1154.2 120.6,1153.4 120.9,1152.8 121.3,1153.6 121.6,1153.8 122.0,1154.3 122.3,1153.6 122.7,1154.5 123.0,1154.4 123.4,1154.2 123.7,1154.3 124.1,1153.8 124.4,1153.3 124.8,1153.8 125.1,1153.8 125.5,1153.2 125.8,1152.6 126.2,1151.7 126.5,1152.5 126.9,1152.0 127.2,1150.9 127.6,1151.3 127.9,1151.3 128.3,1150.6 128.6,1150.7 129.0,1150.4 129.3,1149.0 129.7,1149.3 130.0,1149.4 130.4,1149.3 130.7,1149.3 131.1,1147.3 131.4,1147.9 131.8,1148.0 132.1,1148.1 132.5,1148.3 132.8,1147.0 133.2,1147.3 133.5,1146.9 133.9,1147.8 134.2,1146.7 134.6,1148.0 134.9,1147.8 135.3,1147.6 135.6,1146.3 136.0,1147.0 136.3,1147.7 136.7,1146.6 137.0,1147.2 137.4,1147.2 137.7,1147.7 138.1,1147.4 138.4,1147.4 138.8,1147.0 139.1,1147.2 139.5,1147.1 139.8,1147.5 140.2,1147.1 140.5,1147.7 140.9,1146.3 141.2,1147.7 141.6,1147.0 141.9,1147.6 142.3,1147.1 142.6,1147.5 143.0,1147.8 143.3,1146.8 143.7,1147.1 144.0,1146.9 144.4,1147.1 144.7,1146.2 145.1,1146.9 145.4,1146.8 145.8,1146.5 146.1,1146.8 146.5,1146.1 146.8,1147.6 147.2,1147.1 147.5,1147.8 147.9,1146.4 148.2,1146.3 148.6,1147.0 148.9,1146.0 149.3,1146.9 149.6,1146.4 150.0,1146.6 150.3,1146.9 150.7,1146.8 151.0,1147.6 151.4,1147.0 151.7,1146.1 152.1,1147.2 152.4,1146.0 152.8,1146.7 153.1,1146.0 153.5,1146.2 153.8,1147.3 154.2,1146.3 154.5,1146.3 154.9,1146.3 155.2,1146.4 155.6,1147.3 155.9,1145.9 156.3,1145.9 156.6,1146.8 157.0,1145.7 157.3,1146.3 157.7,1147.0 158.0,1146.4 158.4,1146.2 158.7,1146.1 159.1,1145.9 159.4,1146.1 159.8,1146.4 160.1,1147.0 160.5,1146.8 160.8,1146.0 161.2,1145.9 161.5,1146.6 161.9,1145.4 162.2,1146.1 162.6,1146.1 162.9,1145.7 163.3,1145.7 163.6,1146.4 164.0,1145.4 164.3,1145.7 164.7,1145.8 165.0,1146.2 165.4,1145.5 165.7,1146.7 166.1,1146.0 166.4,1146.0 166.8,1145.9 167.1,1145.7 167.5,1145.6 167.8,1146.6 168.2,1146.1 168.5,1146.0 168.9,1146.5 169.2,1145.6 169.6,1146.3 169.9,1146.0 170.3,1145.5 170.6,1146.3 171.0,1145.2 171.3,1146.2 171.7,1145.4 172.0,1146.1 172.4,1146.5 172.7,1146.1 173.1,1145.5 173.4,1145.8 173.8,1145.6 174.1,1145.2 174.5,1145.2 174.8,1145.8 175.2,1146.0 175.5,1144.9 175.9,1145.7 176.2,1145.9 176.6,1145.7 176.9,1145.2 177.3,1146.2 177.6,1145.0 178.0,1145.9 178.3,1146.4 178.7,1144.6 179.0,1145.7 179.4,1145.7 179.7,1145.7 180.1,1145.2 180.4,1145.4 180.8,1144.8 181.1,1145.6 181.5,1145.7 181.8,1145.1 182.2,1145.0 182.5,1145.3 182.9,1145.6 183.2,1145.7 183.6,1145.7 183.9,1145.8 184.3,1145.2 184.6,1144.6 185.0,1146.3 185.3,1146.7 185.7,1145.4 186.0,1145.8 186.4,1146.3 186.7,1146.7 187.1,1146.6 187.4,1147.0 187.8,1146.4 188.1,1146.7 188.5,1146.7 188.8,1146.4 189.2,1147.2 189.5,1147.0 189.9,1147.2 190.2,1146.6 190.6,1147.4 190.9,1146.4 191.3,1147.2 191.6,1145.8 192.0,1146.6 192.3,1147.5 192.7,1147.0 193.0,1147.4 193.4,1146.6 193.7,1148.2 194.1,1147.7 194.4,1147.4 194.8,1147.6 195.1,1147.6 195.5,1148.1 195.8,1147.5 196.2,1146.6 196.5,1147.2 196.9,1148.0 197.2,1147.6 197.6,1147.1 197.9,1147.6 198.3,1147.3 198.6,1147.5 199.0,1146.5 199.3,1146.8 199.7,1147.5 200.0,1147.1 200.4,1147.3 200.7,1148.1 201.1,1147.0 201.4,1147.2 201.8,1146.8 202.1,1146.8 202.5,1147.0 202.8,1146.4 203.2,1146.0 203.5,1147.7 203.9,1147.0 204.2,1147.6 204.6,1147.0 204.9,1147.0 205.3,1147.3 205.6,1147.3 206.0,1146.3 206.3,1147.5 206.7,1146.4 207.0,1147.0 207.4,1148.1 207.7,1146.9 208.1,1147.7 208.4,1146.7 208.8,1147.1 209.1,1146.8 209.5,1147.0 209.8,1146.3 210.2,1146.3 210.5,1146.9 210.9,1146.0 211.2,1146.3 211.6,1147.0 211.9,1146.4 212.3,1146.2 212.6,1146.1 213.0,1146.7 213.3,1146.4 213.7,1146.7 214.0,1146.5 214.4,1147.5 214.7,1146.3 215.1,1145.6 215.4,1146.6 215.8,1146.5 216.1,1146.6 216.5,1145.7 216.8,1147.0 217.2,1146.4 217.5,1146.4 217.9,1145.6 218.2,1146.6 218.6,1146.3 218.9,1147.0 219.3,1146.1 219.6,1145.7 220.0,1146.4 220.3,1145.9 220.7,1146.5 221.0,1145.7 221.4,1146.2 221.7,1146.1 222.1,1146.2 222.4,1146.0 222.8,1145.8 223.1,1146.2 223.5,1145.9 223.8,1146.2 224.2,1146.0 224.5,1145.0 224.9,1146.1 225.2,1146.8 225.6,1146.2 225.9,1146.4 226.3,1146.3 226.6,1145.8 227.0,1145.4 227.3,1146.4 227.7,1146.5 228.0,1146.2 228.4,1146.2 228.7,1146.1 229.1,1145.9 229.4,1146.0 229.8,1145.9 230.1,1146.0 230.5,1145.4 230.8,1145.5 231.2,1146.1 231.5,1145.7 231.9,1144.6 232.2,1145.8 232.6,1144.7 232.9,1146.7 233.3,1146.1 233.6,1146.1 234.0,1145.4 234.3,1145.2 234.7,1145.6 235.0,1145.7 235.4,1145.3 235.7,1145.7 236.1,1146.0 236.4,1145.9 236.8,1145.1 237.1,1144.5 237.5,1145.6 237.8,1145.2 238.2,1145.7 238.5,1146.3 238.9,1146.3 239.2,1145.6 239.6,1146.0 239.9,1146.2 240.3,1145.5 240.6,1145.5 241.0,1145.8 241.3,1145.4 241.7,1145.1 242.0,1145.0 242.4,1145.3 242.7,1145.0 243.1,1145.7 243.4,1145.1 243.8,1145.9 244.1,1145.8 244.5,1144.6 244.8,1145.7 245.2,1145.0 245.5,1145.8 245.9,1145.4 246.2,1145.1 246.6,1145.4 246.9,1144.8 247.3,1145.2 247.6,1145.2 248.0,1144.9 248.3,1145.2 248.7,1144.5 249.0,1145.2 249.4,1144.3 249.7,1145.2 250.1,1145.1 250.4,1145.2 250.8,1144.6 251.1,1146.3 251.5,1144.7 251.8,1144.8 252.2,1144.4 252.5,1145.4 252.9,1144.5 253.2,1145.2 253.6,1144.2 253.9,1144.8 254.3,1144.5 254.6,1145.1 255.0,1144.5 255.3,1144.2 255.7,1144.8 256.0,1144.0 256.4,1144.1 256.7,1144.9 257.1,1143.6 257.4,1144.8 257.8,1144.2 258.1,1144.0 258.5,1144.5 258.8,1144.7 259.2,1144.1 259.5,1144.3 259.9,1144.7 260.2,1144.7 260.6,1144.3 260.9,1143.9 261.3,1143.8 261.6,1143.9 262.0,1144.5 262.3,1144.5 262.7,1144.3 263.0,1144.8 263.4,1144.0 263.7,1143.9 264.1,1143.9 264.4,1145.0 264.8,1143.1 265.1,1144.2 265.5,1144.2 265.8,1144.0 266.2,1145.1 266.5,1144.5 266.9,1144.3 267.2,1143.5 267.6,1144.1 267.9,1143.7 268.3,1143.9 268.6,1143.9 269.0,1143.6 269.3,1144.1 269.7,1144.5 270.0,1144.2 270.4,1143.8 270.7,1142.8 271.1,1144.2 271.4,1144.2 271.8,1143.5 272.1,1143.4 272.5,1143.9 272.8,1143.2 273.2,1143.9 273.5,1143.0 273.9,1143.1 274.2,1143.5 274.6,1142.8 274.9,1143.5 275.3,1143.7 275.6,1142.8 276.0,1143.8 276.3,1143.1 276.7,1143.6 277.0,1143.4 277.4,1143.1 277.7,1143.1 278.1,1142.5 278.4,1142.9 278.8,1142.9 279.1,1144.0 279.5,1143.7 279.8,1142.5 280.2,1143.5 280.5,1143.2 280.9,1142.9 281.2,1143.3 281.6,1143.4 281.9,1142.8 282.3,1142.9 282.6,1143.1 283.0,1142.5 283.3,1143.1 283.7,1143.0 284.0,1142.7 284.4,1142.7 284.7,1143.2 285.1,1143.5 285.4,1143.3 285.8,1142.7 286.1,1143.5 286.5,1143.2 286.8,1143.4 287.2,1143.7 287.5,1142.8 287.9,1143.1 288.2,1142.9 288.6,1142.8 288.9,1144.2 289.3,1143.7 289.6,1142.4 290.0,1143.5 290.3,1143.0 290.7,1143.9 291.0,1143.4 291.4,1143.3 291.7,1143.4 292.1,1143.6 292.4,1143.4 292.8,1143.3 293.1,1143.4 293.5,1143.7 293.8,1142.9 294.2,1143.5 294.5,1143.4 294.9,1143.3 295.2,1143.8 295.6,1142.9 295.9,1143.3 296.3,1143.0 296.6,1143.7 297.0,1143.2 297.3,1143.4 297.7,1143.6 298.0,1142.6 298.4,1143.6 298.7,1143.0 299.1,1143.2 299.4,1143.3 299.8,1143.7 300.1,1143.6 300.5,1144.1 300.8,1143.3 301.2,1143.0 301.5,1143.0 301.9,1143.5 302.2,1143.9 302.6,1143.3 302.9,1142.9 303.3,1143.3 303.6,1143.2 304.0,1143.1 304.3,1142.7 304.7,1141.9 305.0,1142.8 305.4,1143.5 305.7,1143.1 306.1,1142.0 306.4,1143.0 306.8,1142.1 307.1,1143.9 307.5,1143.0 307.8,1142.4 308.2,1143.3 308.5,1142.5 308.9,1143.1 309.2,1142.9 309.6,1142.3 309.9,1143.2 310.3,1142.2 310.6,1143.4 311.0,1142.8 311.3,1142.3 311.7,1141.9 312.0,1143.5 312.4,1143.4 312.7,1142.1 313.1,1143.5 313.4,1142.8 313.8,1142.6 314.1,1142.6 314.5,1142.5 314.8,1143.3 315.2,1142.7 315.5,1141.7 315.9,1143.6 316.2,1143.0 316.6,1142.0 316.9,1142.4 317.3,1142.1 317.6,1142.5 318.0,1142.7 318.3,1142.6 318.7,1142.2 319.0,1142.1 319.4,1142.8 319.7,1142.4 320.1,1143.4 320.4,1142.0 320.8,1142.7 321.1,1142.4 321.5,1142.0 321.8,1143.0 322.2,1142.4 322.5,1141.9 322.9,1142.1 323.2,1142.7 323.6,1141.7 323.9,1142.9 324.3,1142.5 324.6,1142.1 325.0,1142.8 325.3,1143.0 325.7,1142.4 326.0,1142.2 326.4,1143.0 326.7,1142.8 327.1,1141.7 327.4,1142.0 327.8,1142.0 328.1,1141.8 328.5,1141.3 328.8,1142.4 329.2,1142.1 329.5,1142.1 329.9,1142.8 330.2,1141.9 330.6,1142.2 330.9,1142.4 331.3,1142.1 331.6,1142.3 332.0,1142.8 332.3,1142.5 332.7,1143.2 333.0,1142.2 333.4,1142.7 333.7,1142.0 334.1,1142.7 334.4,1142.4 334.8,1143.5 335.1,1143.2 335.5,1143.2 335.8,1143.8 336.2,1143.7 336.5,1143.4 336.9,1142.8 337.2,1142.5 337.6,1143.2 337.9,1143.1 338.3,1143.0 338.6,1143.2 339.0,1142.7 339.3,1144.2 339.7,1143.0 340.0,1143.3 340.4,1143.9 340.7,1142.9 341.1,1144.2 341.4,1144.2 341.8,1143.7 342.1,1143.4 342.5,1143.7 342.8,1143.1 343.2,1144.6 343.5,1144.0 343.9,1143.6 344.2,1143.5 344.6,1144.2 344.9,1144.6 345.3,1143.3 345.6,1143.6 346.0,1143.0 346.3,1144.1 346.7,1143.9 347.0,1144.8 347.4,1143.7 347.7,1143.5 348.1,1143.4 348.4,1144.1 348.8,1142.9 349.1,1144.0 349.5,1143.7 349.8,1143.4 350.2,1143.1 350.5,1144.0 350.9,1144.4 351.2,1143.3 351.6,1143.7 351.9,1144.3 352.3,1143.2 352.6,1143.3 353.0,1142.8 353.3,1143.3 353.7,1143.3 354.0,1143.1 354.4,1143.0 354.7,1142.5 355.1,1142.6 355.4,1142.8 355.8,1143.5 356.1,1143.0 356.5,1142.8 356.8,1143.5 357.2,1143.4 357.5,1142.8 357.9,1142.8 358.2,1143.4 358.6,1143.2 358.9,1142.7 359.3,1143.1 359.6,1143.0 360.0,1143.5 360.3,1142.6 360.7,1143.4 361.0,1143.1 361.4,1142.4 361.7,1143.4 362.1,1143.3 362.4,1142.2 362.8,1143.8 363.1,1142.3 363.5,1142.3 363.8,1142.6 364.2,1143.1 364.5,1143.0 364.9,1142.7 365.2,1143.3 365.6,1142.8 365.9,1143.3 366.3,1144.0 366.6,1142.7 367.0,1141.3 367.3,1142.3 367.7,1142.0 368.0,1142.6 368.4,1142.5 368.7,1141.9 369.1,1141.9 369.4,1142.3 369.8,1142.3 370.1,1141.1 370.5,1142.8 370.8,1142.4 371.2,1142.3 371.5,1142.4 371.9,1141.8 372.2,1142.2 372.6,1142.7 372.9,1142.7 373.3,1142.4 373.6,1142.0 374.0,1141.8 374.3,1142.8 374.7,1142.4 375.0,1141.9 375.4,1141.0 375.7,1141.6 376.1,1141.1 376.4,1142.6 376.8,1142.1 377.1,1141.6 377.5,1141.8 377.8,1143.2 378.2,1142.5 378.5,1141.2 378.9,1141.8 379.2,1141.2 379.6,1141.0 379.9,1141.9 380.3,1143.0 380.6,1142.5 381.0,1141.8 381.3,1141.5 381.7,1141.8 382.0,1142.2 382.4,1140.9 382.7,1140.7 383.1,1142.5 383.4,1141.7 383.8,1142.4 384.1,1141.7 384.5,1142.3 384.8,1141.2 385.2,1141.8 385.5,1142.3 385.9,1142.1 386.2,1141.4 386.6,1142.1 386.9,1141.3 387.3,1141.0 387.6,1141.9 388.0,1142.4 388.3,1142.2 388.7,1141.1 389.0,1142.2 389.4,1142.1 389.7,1141.6 390.1,1140.6 390.4,1142.4 390.8,1142.4 391.1,1142.2 391.5,1141.1 391.8,1141.3 392.2,1142.5 392.5,1142.3 392.9,1142.1 393.2,1141.7 393.6,1141.9 393.9,1141.4 394.3,1141.5 394.6,1141.2 395.0,1141.7 395.3,1141.3 395.7,1141.9 396.0,1141.7 396.4,1140.9 396.7,1142.2 397.1,1140.7 397.4,1141.4 397.8,1141.6 398.1,1141.7 398.5,1139.9 398.8,1141.4 399.2,1141.5 399.5,1141.6 399.9,1139.7 400.2,1140.4 400.6,1140.6 400.9,1140.4 401.3,1141.2 401.6,1140.2 402.0,1141.1 402.3,1140.7 402.7,1139.6 403.0,1139.8 403.4,1140.0 403.7,1140.2 404.1,1140.6 404.4,1140.0 404.8,1140.5 405.1,1139.2 405.5,1138.6 405.8,1140.0 406.2,1140.4 406.5,1140.1 406.9,1139.8 407.2,1140.6 407.6,1141.4 407.9,1140.5 408.3,1140.2 408.6,1140.2 409.0,1141.7 409.3,1140.8 409.7,1141.2 410.0,1141.5 410.4,1141.5 410.7,1140.6 411.1,1141.6 411.4,1141.6 411.8,1141.5 412.1,1141.8 412.5,1141.1 412.8,1141.4 413.2,1141.2 413.5,1141.9 413.9,1141.3 414.2,1141.9 414.6,1141.2 414.9,1141.7 415.3,1141.7 415.6,1141.9 416.0,1142.1 416.3,1144.2 416.7,1146.6 417.0,1148.0 417.4,1151.9 417.7,1151.6 418.1,1151.7 418.4,1151.3 418.8,1152.1 419.1,1151.1 419.5,1151.7 419.8,1151.9 420.2,1152.0 420.5,1151.7 420.9,1151.3 421.2,1150.3 421.6,1151.4 421.9,1151.3 422.3,1151.0 422.6,1150.9 423.0,1150.4 423.3,1150.0 423.7,1150.7 424.0,1150.7 424.4,1149.4 424.7,1150.3 425.1,1149.9 425.4,1150.1 425.8,1149.7 426.1,1150.0 426.5,1149.8 426.8,1149.7 427.2,1148.4 427.5,1149.4 427.9,1148.9 428.2,1148.2 428.6,1149.1 428.9,1147.9 429.3,1148.9 429.6,1149.2 430.0,1148.0 430.3,1148.6 430.7,1148.3 431.0,1148.3 431.4,1147.2 431.7,1148.1 432.1,1147.7 432.4,1147.9 432.8,1147.5 433.1,1147.9 433.5,1147.4 433.8,1147.5 434.2,1147.7 434.5,1147.0 434.9,1147.3 435.2,1146.8 435.6,1146.9 435.9,1146.3 436.3,1146.9 436.6,1147.0 437.0,1146.3 437.3,1146.7 437.7,1146.5 438.0,1145.7 438.4,1146.3 438.7,1146.8 439.1,1145.8 439.4,1145.1 439.8,1146.1 440.1,1145.6 440.5,1146.8 440.8,1145.8 441.2,1145.8 441.5,1145.4 441.9,1145.8 442.2,1145.3 442.6,1145.1 442.9,1145.5 443.3,1145.1 443.6,1146.1 444.0,1144.8 444.3,1145.3 444.7,1144.9 445.0,1144.5 445.4,1146.0 445.7,1144.1 446.1,1145.8 446.4,1144.3 446.8,1145.0 447.1,1146.0 447.5,1143.8 447.8,1144.2 448.2,1145.4 448.5,1144.8 448.9,1144.4 449.2,1144.6 449.6,1144.1 449.9,1144.6 450.3,1145.2 450.6,1144.2 451.0,1144.4 451.3,1144.9 451.7,1145.2 452.0,1143.9 452.4,1144.3 452.7,1143.8 453.1,1143.8 453.4,1143.8 453.8,1143.7 454.1,1143.1 454.5,1142.9 454.8,1143.5 455.2,1143.8 455.5,1144.3 455.9,1143.4 456.2,1143.5 456.6,1143.9 456.9,1143.9 457.3,1143.4 457.6,1143.4 458.0,1144.3 458.3,1143.2 458.7,1143.0 459.0,1142.4 459.4,1143.4 459.7,1143.0 460.1,1144.0 460.4,1142.9 460.8,1143.4 461.1,1143.4 461.5,1143.7 461.8,1142.2 462.2,1143.5 462.5,1142.7 462.9,1142.6 463.2,1142.5 463.6,1142.4 463.9,1142.4 464.3,1141.4 464.6,1142.7 465.0,1142.5 465.3,1142.0 465.7,1142.4 466.0,1143.5 466.4,1142.6 466.7,1142.2 467.1,1143.2 467.4,1141.9 467.8,1142.2 468.1,1142.0 468.5,1142.2 468.8,1142.6 469.2,1142.5 469.5,1141.9 469.9,1142.1 470.2,1142.2 470.6,1142.0 470.9,1142.1 471.3,1141.8 471.6,1141.7 472.0,1142.1 472.3,1141.6 472.7,1142.3 473.0,1141.9 473.4,1141.6 473.7,1141.7 474.1,1141.7 474.4,1141.9 474.8,1142.0 475.1,1141.8 475.5,1141.5 475.8,1142.6 476.2,1142.3 476.5,1141.9 476.9,1142.3 477.2,1142.0 477.6,1141.7 477.9,1141.8 478.3,1143.0 478.6,1142.2 479.0,1142.2 479.3,1141.5 479.7,1142.0 480.0,1142.8 480.4,1141.8 480.7,1142.1 481.1,1142.2 481.4,1141.9 481.8,1142.3 482.1,1141.7 482.5,1141.8 482.8,1141.2 483.2,1142.8 483.5,1141.6 483.9,1141.5 484.2,1142.1 484.6,1141.2 484.9,1141.4 485.3,1141.0 485.6,1141.4 486.0,1141.1 486.3,1141.6 486.7,1141.2 487.0,1141.0 487.4,1141.1 487.7,1141.2 488.1,1141.0 488.4,1141.7 488.8,1141.5 489.1,1141.2 489.5,1140.6 489.8,1141.4 490.2,1140.5 490.5,1141.2 490.9,1141.1 491.2,1140.8 491.6,1140.6 491.9,1140.7 492.3,1142.3 492.6,1141.5 493.0,1141.9 493.3,1142.8 493.7,1142.9 494.0,1143.8 494.4,1144.8 494.7,1147.0 495.1,1151.2 495.4,1151.7 495.8,1153.7 496.1,1155.0 496.5,1155.2 496.8,1154.0 497.2,1154.6 497.5,1154.2 497.9,1154.4 498.2,1154.0 498.6,1153.5 498.9,1153.1 499.3,1152.2 499.6,1153.7 500.0,1152.3 500.3,1152.6 500.7,1153.5 501.0,1152.3 501.4,1152.6 501.7,1152.0 502.1,1152.3 502.4,1151.8 502.8,1151.4 503.1,1152.1 503.5,1151.1 503.8,1150.4 504.2,1150.8 504.5,1151.0 504.9,1150.0 505.2,1150.8 505.6,1150.6 505.9,1151.1 506.3,1149.6 506.6,1150.0 507.0,1148.7 507.3,1149.1 507.7,1149.2 508.0,1149.2 508.4,1148.8 508.7,1148.6 509.1,1148.2 509.4,1148.1 509.8,1148.3 510.1,1148.2 510.5,1148.1 510.8,1148.1 511.2,1148.0 511.5,1146.4 511.9,1146.8 512.2,1146.9 512.6,1146.6 512.9,1147.4 513.3,1147.2 513.6,1146.7 514.0,1146.8 514.3,1147.3 514.7,1146.5 515.0,1146.4 515.4,1147.0 515.7,1146.7 516.1,1147.1 516.4,1146.6 516.8,1146.7 517.1,1146.0 517.5,1145.8 517.8,1146.2 518.2,1144.9 518.5,1146.3 518.9,1146.5 519.2,1146.0 519.6,1145.9 519.9,1146.4 520.3,1145.8 520.6,1146.3 521.0,1146.8 521.3,1146.1 521.7,1146.1 522.0,1145.9 522.4,1145.7 522.7,1145.7 523.1,1145.5 523.4,1145.9 523.8,1144.6 524.1,1145.2 524.5,1145.6 524.8,1144.8 525.2,1145.1 525.5,1144.8 525.9,1145.3 526.2,1145.4 526.6,1145.7 526.9,1145.2 527.3,1144.5 527.6,1145.0 528.0,1145.1 528.3,1145.4 528.7,1143.7 529.0,1144.8 529.4,1143.7 529.7,1144.9 530.1,1144.7 530.4,1144.7 530.8,1144.8 531.1,1144.5 531.5,1144.0 531.8,1144.4 532.2,1144.8 532.5,1144.1 532.9,1144.1 533.2,1143.5 533.6,1144.6 533.9,1143.7 534.3,1143.6 534.6,1143.7 535.0,1143.4 535.3,1143.7 535.7,1144.3 536.0,1144.1 536.4,1144.3 536.7,1144.3 537.1,1143.1 537.4,1143.7 537.8,1144.1 538.1,1144.5 538.5,1142.7 538.8,1142.6 539.2,1143.5 539.5,1143.0 539.9,1142.7 540.2,1143.3 540.6,1142.7 540.9,1141.9 541.3,1142.9 541.6,1143.0 542.0,1143.1 542.3,1143.2 542.7,1142.8 543.0,1142.6 543.4,1142.3 543.7,1141.8 544.1,1142.3 544.4,1143.0 544.8,1142.8 545.1,1143.4 545.5,1142.3 545.8,1141.5 546.2,1142.7 546.5,1142.7 546.9,1141.6 547.2,1141.3 547.6,1142.1 547.9,1142.4 548.3,1141.8 548.6,1142.5 549.0,1142.6 549.3,1142.8 549.7,1143.1 550.0,1144.1 550.4,1144.2 550.7,1144.4 551.1,1144.1 551.4,1147.6 551.8,1147.6 552.1,1149.3 552.5,1150.2 552.8,1152.2 553.2,1152.6 553.5,1154.7 553.9,1155.9 554.2,1156.3 554.6,1155.1 554.9,1155.1 555.3,1155.2 555.6,1156.1 556.0,1154.2 556.3,1154.8 556.7,1154.2 557.0,1154.5 557.4,1154.5 557.7,1154.0 558.1,1153.9 558.4,1153.7 558.8,1153.1 559.1,1153.1 559.5,1152.2 559.8,1152.7 560.2,1152.3 560.5,1152.4 560.9,1152.6 561.2,1152.3 561.6,1152.2 561.9,1152.3 562.3,1150.4 562.6,1151.6 563.0,1151.2 563.3,1151.0 563.7,1150.2 564.0,1150.9 564.4,1151.0 564.7,1150.7 565.1,1150.0 565.4,1150.2 565.8,1150.1 566.1,1150.4 566.5,1149.9 566.8,1149.2 567.2,1149.0 567.5,1148.9 567.9,1148.7 568.2,1148.2 568.6,1148.6 568.9,1147.7 569.3,1147.6 569.6,1148.0 570.0,1147.5 570.3,1147.6 570.7,1146.6 571.0,1147.9 571.4,1147.5 571.7,1147.3 572.1,1147.5 572.4,1147.4 572.8,1146.8 573.1,1148.1 573.5,1146.8 573.8,1147.4 574.2,1147.7 574.5,1146.5 574.9,1146.8 575.2,1146.3 575.6,1147.1 575.9,1146.3 576.3,1145.9 576.6,1147.0 577.0,1146.7 577.3,1145.8 577.7,1146.7 578.0,1146.1 578.4,1147.3 578.7,1146.7 579.1,1145.5 579.4,1145.6 579.8,1145.2 580.1,1145.6 580.5,1145.5 580.8,1145.8 581.2,1145.4 581.5,1144.6 581.9,1144.8 582.2,1145.8 582.6,1145.6 582.9,1144.9 583.3,1144.8 583.6,1144.7 584.0,1144.8 584.3,1143.9 584.7,1145.0 585.0,1144.2 585.4,1144.5 585.7,1143.2 586.1,1144.4 586.4,1144.8 586.8,1143.1 587.1,1144.8 587.5,1144.2 587.8,1143.6 588.2,1143.1 588.5,1144.3 588.9,1143.8 589.2,1143.9 589.6,1143.4 589.9,1143.1 590.3,1143.8 590.6,1142.8 591.0,1143.6 591.3,1142.3 591.7,1142.6 592.0,1142.4 592.4,1144.2 592.7,1143.3 593.1,1144.1 593.4,1145.5 593.8,1145.8 594.1,1147.8 594.5,1149.3 594.8,1150.3 595.2,1152.0 595.5,1152.5 595.9,1154.6 596.2,1155.2 596.6,1155.0 596.9,1154.2 597.3,1154.2 597.6,1154.0 598.0,1154.6 598.3,1154.1 598.7,1153.5 599.0,1153.3 599.4,1153.3 599.7,1152.6 600.1,1152.6 600.4,1151.6 600.8,1152.5 601.1,1152.4 601.5,1151.9 601.8,1151.7 602.2,1151.4 602.5,1152.0 602.9,1150.9 603.2,1149.9 603.6,1149.8 603.9,1150.4 604.3,1150.4 604.6,1150.0 605.0,1149.8 605.3,1149.2 605.7,1148.2 606.0,1148.3 606.4,1147.5 606.7,1148.0 607.1,1147.3 607.4,1147.9 607.8,1147.7 608.1,1146.7 608.5,1147.9 608.8,1147.8 609.2,1146.7 609.5,1147.3 609.9,1147.5 610.2,1146.9 610.6,1147.3 610.9,1146.9 611.3,1147.2 611.6,1146.7 612.0,1146.4 612.3,1146.7 612.7,1146.7 613.0,1146.3 613.4,1145.9 613.7,1145.6 614.1,1145.7 614.4,1145.5 614.8,1145.8 615.1,1145.7 615.5,1145.4 615.8,1145.4 616.2,1145.4 616.5,1145.9 616.9,1145.6 617.2,1144.7 617.6,1145.1 617.9,1144.6 618.3,1144.6 618.6,1144.4 619.0,1144.1 619.3,1143.7 619.7,1143.0 620.0,1144.2 620.4,1144.6 620.4,1137.0 620.0,1138.1 619.7,1138.0 619.3,1137.1 619.0,1131.9 618.6,1138.4 618.3,1133.4 617.9,1138.3 617.6,1133.0 617.2,1138.4 616.9,1137.7 616.5,1138.4 616.2,1138.1 615.8,1139.2 615.5,1139.9 615.1,1139.0 614.8,1139.6 614.4,1139.8 614.1,1140.3 613.7,1140.4 613.4,1133.0 613.0,1139.4 612.7,1140.2 612.3,1139.6 612.0,1140.6 611.6,1140.9 611.3,1140.5 610.9,1140.7 610.6,1141.7 610.2,1142.1 609.9,1141.8 609.5,1141.9 609.2,1141.5 608.8,1142.7 608.5,1138.5 608.1,1139.4 607.8,1137.9 607.4,1143.0 607.1,1143.4 606.7,1142.4 606.4,1142.7 606.0,1142.4 605.7,1144.5 605.3,1144.5 605.0,1144.4 604.6,1144.3 604.3,1144.7 603.9,1143.8 603.6,1143.1 603.2,1145.4 602.9,1145.6 602.5,1140.7 602.2,1143.1 601.8,1147.5 601.5,1146.7 601.1,1148.0 600.8,1147.0 600.4,1148.3 600.1,1148.6 599.7,1146.1 599.4,1148.7 599.0,1146.5 598.7,1149.8 598.3,1149.9 598.0,1143.3 597.6,1148.4 597.3,1151.3 596.9,1151.2 596.6,1149.2 596.2,1148.7 595.9,1149.8 595.5,1149.4 595.2,1147.0 594.8,1144.0 594.5,1143.1 594.1,1140.6 593.8,1137.7 593.4,1137.6 593.1,1135.7 592.7,1136.0 592.4,1132.5 592.0,1133.8 591.7,1133.7 591.3,1134.1 591.0,1133.9 590.6,1134.4 590.3,1134.4 589.9,1133.9 589.6,1134.3 589.2,1134.8 588.9,1134.7 588.5,1135.1 588.2,1135.1 587.8,1135.0 587.5,1134.7 587.1,1135.5 586.8,1135.7 586.4,1134.9 586.1,1136.2 585.7,1136.4 585.4,1136.4 585.0,1136.3 584.7,1134.9 584.3,1137.0 584.0,1136.4 583.6,1136.2 583.3,1136.1 582.9,1137.7 582.6,1136.5 582.2,1137.2 581.9,1137.7 581.5,1138.1 581.2,1137.2 580.8,1138.6 580.5,1136.4 580.1,1138.0 579.8,1138.4 579.4,1131.3 579.1,1131.0 578.7,1135.1 578.4,1138.3 578.0,1133.7 577.7,1139.8 577.3,1138.5 577.0,1139.6 576.6,1136.8 576.3,1139.4 575.9,1140.1 575.6,1136.6 575.2,1140.1 574.9,1139.7 574.5,1141.1 574.2,1137.9 573.8,1141.3 573.5,1131.8 573.1,1140.3 572.8,1141.0 572.4,1140.9 572.1,1140.9 571.7,1139.8 571.4,1141.9 571.0,1142.0 570.7,1142.5 570.3,1141.9 570.0,1141.9 569.6,1142.6 569.3,1142.7 568.9,1142.8 568.6,1143.4 568.2,1140.8 567.9,1143.8 567.5,1142.7 567.2,1144.6 566.8,1144.4 566.5,1141.6 566.1,1144.4 565.8,1144.9 565.4,1144.8 565.1,1145.7 564.7,1145.7 564.4,1145.4 564.0,1143.4 563.7,1146.2 563.3,1144.6 563.0,1139.4 562.6,1146.4 562.3,1146.3 561.9,1146.3 561.6,1146.9 561.2,1147.5 560.9,1148.1 560.5,1148.1 560.2,1148.0 559.8,1147.0 559.5,1149.4 559.1,1149.0 558.8,1148.8 558.4,1147.7 558.1,1146.4 557.7,1149.8 557.4,1143.9 557.0,1151.0 556.7,1150.1 556.3,1149.7 556.0,1151.5 555.6,1150.6 555.3,1151.4 554.9,1151.6 554.6,1152.3 554.2,1152.6 553.9,1151.9 553.5,1150.9 553.2,1149.3 552.8,1146.5 552.5,1144.2 552.1,1143.8 551.8,1142.0 551.4,1139.6 551.1,1136.6 550.7,1137.2 550.4,1136.6 550.0,1136.8 549.7,1135.1 549.3,1133.8 549.0,1126.5 548.6,1129.4 548.3,1132.7 547.9,1129.9 547.6,1131.7 547.2,1132.0 546.9,1130.0 546.5,1131.0 546.2,1131.1 545.8,1129.9 545.5,1131.6 545.1,1132.1 544.8,1132.2 544.4,1131.4 544.1,1133.0 543.7,1131.8 543.4,1132.6 543.0,1132.3 542.7,1126.3 542.3,1132.7 542.0,1133.1 541.6,1133.3 541.3,1131.7 540.9,1133.3 540.6,1133.8 540.2,1132.8 539.9,1128.7 539.5,1133.5 539.2,1132.1 538.8,1134.1 538.5,1133.7 538.1,1134.6 537.8,1134.6 537.4,1133.2 537.1,1134.8 536.7,1134.8 536.4,1135.1 536.0,1135.1 535.7,1135.4 535.3,1132.7 535.0,1135.5 534.6,1135.7 534.3,1135.8 533.9,1134.4 533.6,1135.4 533.2,1134.9 532.9,1135.0 532.5,1136.4 532.2,1135.2 531.8,1134.1 531.5,1128.5 531.1,1131.2 530.8,1137.0 530.4,1136.7 530.1,1136.2 529.7,1137.2 529.4,1137.4 529.0,1136.7 528.7,1136.7 528.3,1137.0 528.0,1132.2 527.6,1136.6 527.3,1137.9 526.9,1137.3 526.6,1137.8 526.2,1137.4 525.9,1137.2 525.5,1137.5 525.2,1137.4 524.8,1136.9 524.5,1137.3 524.1,1137.8 523.8,1138.7 523.4,1139.0 523.1,1137.7 522.7,1139.0 522.4,1137.4 522.0,1139.4 521.7,1138.8 521.3,1137.8 521.0,1139.6 520.6,1139.1 520.3,1138.1 519.9,1138.5 519.6,1140.1 519.2,1140.2 518.9,1140.3 518.5,1140.0 518.2,1139.1 517.8,1140.2 517.5,1140.8 517.1,1139.4 516.8,1140.6 516.4,1141.1 516.1,1139.5 515.7,1141.4 515.4,1140.6 515.0,1141.3 514.7,1141.5 514.3,1140.8 514.0,1132.7 513.6,1140.6 513.3,1138.2 512.9,1137.5 512.6,1141.1 512.2,1141.7 511.9,1142.2 511.5,1141.7 511.2,1142.1 510.8,1142.7 510.5,1142.9 510.1,1143.1 509.8,1142.5 509.4,1142.0 509.1,1143.8 508.7,1141.9 508.4,1144.0 508.0,1135.4 507.7,1144.8 507.3,1136.2 507.0,1144.6 506.6,1145.2 506.3,1145.6 505.9,1146.0 505.6,1145.0 505.2,1144.7 504.9,1138.6 504.5,1145.6 504.2,1146.5 503.8,1146.1 503.5,1143.7 503.1,1146.8 502.8,1146.8 502.4,1143.5 502.1,1147.4 501.7,1148.1 501.4,1148.7 501.0,1147.3 500.7,1148.2 500.3,1147.5 500.0,1149.2 499.6,1149.7 499.3,1149.0 498.9,1150.0 498.6,1146.0 498.2,1150.0 497.9,1149.2 497.5,1150.6 497.2,1150.2 496.8,1151.4 496.5,1151.2 496.1,1150.8 495.8,1149.7 495.4,1142.5 495.1,1143.8 494.7,1140.9 494.4,1137.9 494.0,1134.7 493.7,1134.3 493.3,1133.1 493.0,1132.7 492.6,1131.4 492.3,1131.1 491.9,1129.5 491.6,1130.7 491.2,1131.0 490.9,1130.1 490.5,1130.6 490.2,1130.8 489.8,1130.2 489.5,1128.7 489.1,1129.8 488.8,1130.2 488.4,1129.8 488.1,1129.9 487.7,1124.1 487.4,1130.9 487.0,1131.6 486.7,1130.2 486.3,1131.4 486.0,1131.6 485.6,1130.7 485.3,1130.6 484.9,1131.7 484.6,1130.8 484.2,1131.4 483.9,1130.1 483.5,1129.6 483.2,1131.4 482.8,1123.4 482.5,1130.9 482.1,1130.0 481.8,1131.2 481.4,1129.2 481.1,1131.3 480.7,1130.9 480.4,1131.7 480.0,1130.4 479.7,1131.1 479.3,1132.6 479.0,1131.4 478.6,1132.0 478.3,1132.7 477.9,1132.0 477.6,1131.0 477.2,1132.6 476.9,1130.5 476.5,1131.7 476.2,1132.0 475.8,1132.9 475.5,1131.7 475.1,1132.5 474.8,1132.1 474.4,1131.3 474.1,1128.6 473.7,1132.9 473.4,1132.7 473.0,1133.4 472.7,1132.6 472.3,1132.2 472.0,1133.2 471.6,1133.5 471.3,1133.3 470.9,1132.2 470.6,1133.3 470.2,1132.8 469.9,1131.4 469.5,1133.4 469.2,1133.2 468.8,1133.6 468.5,1133.7 468.1,1131.9 467.8,1132.4 467.4,1132.8 467.1,1132.4 466.7,1133.7 466.4,1132.0 466.0,1132.3 465.7,1133.6 465.3,1131.6 465.0,1133.9 464.6,1132.8 464.3,1134.2 463.9,1134.2 463.6,1133.4 463.2,1133.4 462.9,1133.4 462.5,1133.0 462.2,1134.5 461.8,1134.4 461.5,1135.1 461.1,1134.6 460.8,1132.3 460.4,1135.0 460.1,1133.2 459.7,1134.4 459.4,1135.6 459.0,1134.9 458.7,1136.0 458.3,1135.7 458.0,1136.0 457.6,1136.3 457.3,1135.8 456.9,1136.4 456.6,1135.8 456.2,1135.6 455.9,1136.2 455.5,1136.4 455.2,1135.8 454.8,1135.4 454.5,1136.9 454.1,1136.6 453.8,1136.7 453.4,1136.5 453.1,1136.7 452.7,1133.2 452.4,1137.7 452.0,1136.5 451.7,1137.5 451.3,1137.9 451.0,1136.5 450.6,1138.2 450.3,1136.8 449.9,1133.8 449.6,1135.4 449.2,1137.8 448.9,1138.9 448.5,1129.1 448.2,1138.6 447.8,1139.3 447.5,1139.3 447.1,1130.2 446.8,1138.5 446.4,1139.4 446.1,1139.3 445.7,1140.0 445.4,1139.1 445.0,1140.1 444.7,1139.0 444.3,1139.6 444.0,1140.6 443.6,1140.0 443.3,1140.0 442.9,1139.2 442.6,1139.0 442.2,1140.8 441.9,1138.9 441.5,1140.8 441.2,1141.0 440.8,1137.2 440.5,1139.6 440.1,1140.0 439.8,1133.4 439.4,1140.2 439.1,1141.7 438.7,1141.3 438.4,1141.9 438.0,1140.2 437.7,1141.4 437.3,1142.4 437.0,1142.3 436.6,1142.4 436.3,1141.3 435.9,1142.7 435.6,1136.5 435.2,1141.5 434.9,1142.5 434.5,1141.2 434.2,1142.9 433.8,1142.0 433.5,1143.7 433.1,1143.1 432.8,1142.5 432.4,1142.6 432.1,1143.6 431.7,1141.6 431.4,1143.4 431.0,1143.0 430.7,1143.2 430.3,1143.0 430.0,1144.4 429.6,1144.1 429.3,1144.9 428.9,1145.2 428.6,1145.2 428.2,1143.2 427.9,1144.9 427.5,1145.4 427.2,1144.4 426.8,1144.0 426.5,1145.8 426.1,1144.8 425.8,1144.7 425.4,1146.0 425.1,1145.9 424.7,1144.2 424.4,1146.2 424.0,1146.1 423.7,1146.1 423.3,1146.2 423.0,1147.1 422.6,1146.4 422.3,1147.4 421.9,1146.4 421.6,1146.6 421.2,1147.6 420.9,1147.9 420.5,1147.2 420.2,1147.6 419.8,1147.7 419.5,1148.0 419.1,1141.3 418.8,1148.5 418.4,1147.8 418.1,1142.5 417.7,1143.7 417.4,1141.3 417.0,1142.4 416.7,1139.8 416.3,1135.2 416.0,1126.8 415.6,1133.5 415.3,1131.7 414.9,1131.7 414.6,1131.1 414.2,1132.1 413.9,1132.7 413.5,1132.3 413.2,1131.7 412.8,1130.7 412.5,1130.0 412.1,1130.7 411.8,1129.9 411.4,1130.6 411.1,1130.7 410.7,1130.5 410.4,1129.7 410.0,1125.3 409.7,1129.1 409.3,1127.6 409.0,1127.8 408.6,1128.8 408.3,1126.6 407.9,1128.9 407.6,1128.2 407.2,1127.1 406.9,1128.1 406.5,1127.7 406.2,1127.3 405.8,1126.8 405.5,1124.9 405.1,1120.6 404.8,1125.5 404.4,1125.8 404.1,1125.8 403.7,1124.7 403.4,1126.5 403.0,1126.1 402.7,1125.9 402.3,1127.6 402.0,1127.7 401.6,1127.4 401.3,1125.2 400.9,1126.6 400.6,1127.8 400.2,1127.1 399.9,1127.6 399.5,1126.8 399.2,1127.2 398.8,1128.3 398.5,1127.7 398.1,1129.1 397.8,1128.8 397.4,1128.0 397.1,1129.1 396.7,1129.5 396.4,1129.6 396.0,1129.2 395.7,1127.9 395.3,1128.0 395.0,1129.1 394.6,1129.4 394.3,1129.6 393.9,1129.8 393.6,1128.3 393.2,1130.4 392.9,1124.2 392.5,1128.3 392.2,1122.4 391.8,1129.6 391.5,1130.9 391.1,1129.5 390.8,1130.8 390.4,1127.7 390.1,1129.9 389.7,1129.5 389.4,1130.4 389.0,1129.7 388.7,1130.6 388.3,1130.7 388.0,1130.5 387.6,1130.6 387.3,1130.0 386.9,1129.4 386.6,1130.5 386.2,1131.1 385.9,1130.9 385.5,1129.9 385.2,1131.3 384.8,1129.3 384.5,1130.0 384.1,1130.7 383.8,1131.3 383.4,1130.9 383.1,1131.3 382.7,1130.8 382.4,1129.5 382.0,1131.6 381.7,1130.6 381.3,1129.4 381.0,1131.5 380.6,1123.4 380.3,1131.5 379.9,1131.4 379.6,1131.2 379.2,1130.8 378.9,1132.0 378.5,1132.2 378.2,1131.7 377.8,1132.4 377.5,1131.5 377.1,1129.6 376.8,1132.4 376.4,1132.3 376.1,1131.2 375.7,1131.9 375.4,1130.6 375.0,1132.2 374.7,1131.9 374.3,1132.2 374.0,1132.3 373.6,1132.4 373.3,1132.0 372.9,1128.8 372.6,1131.3 372.2,1132.6 371.9,1132.1 371.5,1124.9 371.2,1132.4 370.8,1132.5 370.5,1131.9 370.1,1132.7 369.8,1132.9 369.4,1131.9 369.1,1132.0 368.7,1131.8 368.4,1133.4 368.0,1133.6 367.7,1133.8 367.3,1131.0 367.0,1133.8 366.6,1133.2 366.3,1133.0 365.9,1133.2 365.6,1132.9 365.2,1132.2 364.9,1133.1 364.5,1133.3 364.2,1134.2 363.8,1133.1 363.5,1132.7 363.1,1133.1 362.8,1134.1 362.4,1134.3 362.1,1134.2 361.7,1131.9 361.4,1132.7 361.0,1134.0 360.7,1133.9 360.3,1134.4 360.0,1133.9 359.6,1134.8 359.3,1131.1 358.9,1131.5 358.6,1132.6 358.2,1134.3 357.9,1133.6 357.5,1135.0 357.2,1128.3 356.8,1126.2 356.5,1124.7 356.1,1134.3 355.8,1134.1 355.4,1135.2 355.1,1135.4 354.7,1134.7 354.4,1135.0 354.0,1134.1 353.7,1134.4 353.3,1135.4 353.0,1134.4 352.6,1134.5 352.3,1134.7 351.9,1134.8 351.6,1127.3 351.2,1135.7 350.9,1135.0 350.5,1135.8 350.2,1133.7 349.8,1135.7 349.5,1135.8 349.1,1135.9 348.8,1135.9 348.4,1134.2 348.1,1136.0 347.7,1135.8 347.4,1136.4 347.0,1135.6 346.7,1135.9 346.3,1134.9 346.0,1126.9 345.6,1135.9 345.3,1136.3 344.9,1135.4 344.6,1135.8 344.2,1134.5 343.9,1133.3 343.5,1135.5 343.2,1136.2 342.8,1136.4 342.5,1136.7 342.1,1133.8 341.8,1135.2 341.4,1135.8 341.1,1134.5 340.7,1135.8 340.4,1135.4 340.0,1135.0 339.7,1134.5 339.3,1134.3 339.0,1134.4 338.6,1134.5 338.3,1133.6 337.9,1134.7 337.6,1132.5 337.2,1134.1 336.9,1133.8 336.5,1133.1 336.2,1134.4 335.8,1133.0 335.5,1133.5 335.1,1133.7 334.8,1132.3 334.4,1125.3 334.1,1132.7 333.7,1130.8 333.4,1133.0 333.0,1132.0 332.7,1131.9 332.3,1125.0 332.0,1131.4 331.6,1132.1 331.3,1132.6 330.9,1131.7 330.6,1132.1 330.2,1132.2 329.9,1131.9 329.5,1131.5 329.2,1131.7 328.8,1131.9 328.5,1131.2 328.1,1127.7 327.8,1131.8 327.4,1130.8 327.1,1131.8 326.7,1132.1 326.4,1131.3 326.0,1132.1 325.7,1131.8 325.3,1131.8 325.0,1130.4 324.6,1132.3 324.3,1131.6 323.9,1132.2 323.6,1130.8 323.2,1131.3 322.9,1131.0 322.5,1131.7 322.2,1132.0 321.8,1130.5 321.5,1131.5 321.1,1131.1 320.8,1130.4 320.4,1132.4 320.1,1128.8 319.7,1132.7 319.4,1132.4 319.0,1132.9 318.7,1127.9 318.3,1132.7 318.0,1133.0 317.6,1133.0 317.3,1131.0 316.9,1132.8 316.6,1133.4 316.2,1132.6 315.9,1132.5 315.5,1133.2 315.2,1132.1 314.8,1128.8 314.5,1132.7 314.1,1133.0 313.8,1133.9 313.4,1133.2 313.1,1132.9 312.7,1124.6 312.4,1133.5 312.0,1133.6 311.7,1133.5 311.3,1134.0 311.0,1133.1 310.6,1134.0 310.3,1133.1 309.9,1134.2 309.6,1133.9 309.2,1133.2 308.9,1133.3 308.5,1134.1 308.2,1124.9 307.8,1134.5 307.5,1133.6 307.1,1132.3 306.8,1133.5 306.4,1134.9 306.1,1134.6 305.7,1135.0 305.4,1134.6 305.0,1134.2 304.7,1133.9 304.3,1135.0 304.0,1133.6 303.6,1133.9 303.3,1133.7 302.9,1134.0 302.6,1134.8 302.2,1134.6 301.9,1134.4 301.5,1133.8 301.2,1135.4 300.8,1132.3 300.5,1134.6 300.1,1135.7 299.8,1135.1 299.4,1125.6 299.1,1134.1 298.7,1135.3 298.4,1135.0 298.0,1134.3 297.7,1136.1 297.3,1134.5 297.0,1136.1 296.6,1134.7 296.3,1135.9 295.9,1136.1 295.6,1133.8 295.2,1136.2 294.9,1135.2 294.5,1136.1 294.2,1135.2 293.8,1134.2 293.5,1134.7 293.1,1134.6 292.8,1134.8 292.4,1133.7 292.1,1134.7 291.7,1134.3 291.4,1134.6 291.0,1134.4 290.7,1132.4 290.3,1133.5 290.0,1132.8 289.6,1132.8 289.3,1127.5 288.9,1133.4 288.6,1133.2 288.2,1129.5 287.9,1131.9 287.5,1132.5 287.2,1130.9 286.8,1131.9 286.5,1132.1 286.1,1131.6 285.8,1132.1 285.4,1131.9 285.1,1131.2 284.7,1129.5 284.4,1131.5 284.0,1131.2 283.7,1130.3 283.3,1130.7 283.0,1129.3 282.6,1128.3 282.3,1130.9 281.9,1130.3 281.6,1131.2 281.2,1129.9 280.9,1130.2 280.5,1130.8 280.2,1130.7 279.8,1129.4 279.5,1131.2 279.1,1130.0 278.8,1131.1 278.4,1131.2 278.1,1130.6 277.7,1131.1 277.4,1131.6 277.0,1131.3 276.7,1130.7 276.3,1131.1 276.0,1130.7 275.6,1131.6 275.3,1130.0 274.9,1131.3 274.6,1124.0 274.2,1130.0 273.9,1129.9 273.5,1130.7 273.2,1132.0 272.8,1131.0 272.5,1125.5 272.1,1131.5 271.8,1132.4 271.4,1131.9 271.1,1126.5 270.7,1131.9 270.4,1132.4 270.0,1132.6 269.7,1125.2 269.3,1130.9 269.0,1131.6 268.6,1132.0 268.3,1131.9 267.9,1123.8 267.6,1131.4 267.2,1131.3 266.9,1123.1 266.5,1132.5 266.2,1132.7 265.8,1130.9 265.5,1132.9 265.1,1132.2 264.8,1132.5 264.4,1133.1 264.1,1124.0 263.7,1132.3 263.4,1132.7 263.0,1132.1 262.7,1131.3 262.3,1133.0 262.0,1133.4 261.6,1133.0 261.3,1131.7 260.9,1132.7 260.6,1129.8 260.2,1132.7 259.9,1133.2 259.5,1132.6 259.2,1133.7 258.8,1133.9 258.5,1134.0 258.1,1132.5 257.8,1127.4 257.4,1133.7 257.1,1133.3 256.7,1134.0 256.4,1134.3 256.0,1134.0 255.7,1133.6 255.3,1134.3 255.0,1130.0 254.6,1134.5 254.3,1133.7 253.9,1133.9 253.6,1134.2 253.2,1134.5 252.9,1134.5 252.5,1132.3 252.2,1125.7 251.8,1133.0 251.5,1132.3 251.1,1135.0 250.8,1133.3 250.4,1134.6 250.1,1134.9 249.7,1134.6 249.4,1134.9 249.0,1134.0 248.7,1134.1 248.3,1133.8 248.0,1135.3 247.6,1134.8 247.3,1135.2 246.9,1134.7 246.6,1133.8 246.2,1127.9 245.9,1135.4 245.5,1134.6 245.2,1135.1 244.8,1129.0 244.5,1134.1 244.1,1134.0 243.8,1135.7 243.4,1133.9 243.1,1135.4 242.7,1135.6 242.4,1135.1 242.0,1127.9 241.7,1134.0 241.3,1135.8 241.0,1135.6 240.6,1134.7 240.3,1136.2 239.9,1136.4 239.6,1136.3 239.2,1135.4 238.9,1128.6 238.5,1135.1 238.2,1135.8 237.8,1136.5 237.5,1135.5 237.1,1136.0 236.8,1136.2 236.4,1136.5 236.1,1130.3 235.7,1128.3 235.4,1136.3 235.0,1136.1 234.7,1135.9 234.3,1136.8 234.0,1129.6 233.6,1135.4 233.3,1137.2 232.9,1136.1 232.6,1129.0 232.2,1136.4 231.9,1136.1 231.5,1136.5 231.2,1136.9 230.8,1137.6 230.5,1129.7 230.1,1137.4 229.8,1137.6 229.4,1137.3 229.1,1137.8 228.7,1136.9 228.4,1136.8 228.0,1137.0 227.7,1137.8 227.3,1137.9 227.0,1136.7 226.6,1137.0 226.3,1137.6 225.9,1137.1 225.6,1137.9 225.2,1135.5 224.9,1138.0 224.5,1138.2 224.2,1137.4 223.8,1137.5 223.5,1133.1 223.1,1138.4 222.8,1136.9 222.4,1136.6 222.1,1136.9 221.7,1138.4 221.4,1138.7 221.0,1138.1 220.7,1137.5 220.3,1137.9 220.0,1138.8 219.6,1138.7 219.3,1139.1 218.9,1139.1 218.6,1136.9 218.2,1139.0 217.9,1139.1 217.5,1138.3 217.2,1138.8 216.8,1130.8 216.5,1137.6 216.1,1139.3 215.8,1139.6 215.4,1139.3 215.1,1139.6 214.7,1130.6 214.4,1138.1 214.0,1139.4 213.7,1139.3 213.3,1136.7 213.0,1137.5 212.6,1139.0 212.3,1138.9 211.9,1139.1 211.6,1138.4 211.2,1132.4 210.9,1139.1 210.5,1140.1 210.2,1140.2 209.8,1140.3 209.5,1140.1 209.1,1136.9 208.8,1139.7 208.4,1139.9 208.1,1139.7 207.7,1130.3 207.4,1139.6 207.0,1140.6 206.7,1140.6 206.3,1139.1 206.0,1138.8 205.6,1140.7 205.3,1140.4 204.9,1140.0 204.6,1140.2 204.2,1141.0 203.9,1139.9 203.5,1139.7 203.2,1140.4 202.8,1140.0 202.5,1140.9 202.1,1141.3 201.8,1141.3 201.4,1140.8 201.1,1140.8 200.7,1139.6 200.4,1141.4 200.0,1141.6 199.7,1138.6 199.3,1141.2 199.0,1136.0 198.6,1140.2 198.3,1140.0 197.9,1141.8 197.6,1141.0 197.2,1140.5 196.9,1141.8 196.5,1141.5 196.2,1140.6 195.8,1141.1 195.5,1142.1 195.1,1142.2 194.8,1141.8 194.4,1140.8 194.1,1142.3 193.7,1141.4 193.4,1140.2 193.0,1141.3 192.7,1142.0 192.3,1141.7 192.0,1137.7 191.6,1140.7 191.3,1141.4 190.9,1140.0 190.6,1140.7 190.2,1140.9 189.9,1138.9 189.5,1140.5 189.2,1134.3 188.8,1139.6 188.5,1139.4 188.1,1140.3 187.8,1137.9 187.4,1138.3 187.1,1140.2 186.7,1138.6 186.4,1138.4 186.0,1139.3 185.7,1138.1 185.3,1132.4 185.0,1138.7 184.6,1139.1 184.3,1137.8 183.9,1138.7 183.6,1138.5 183.2,1138.7 182.9,1138.7 182.5,1137.4 182.2,1137.6 181.8,1138.2 181.5,1137.5 181.1,1138.1 180.8,1138.2 180.4,1137.8 180.1,1138.4 179.7,1136.5 179.4,1138.2 179.0,1137.5 178.7,1138.5 178.3,1137.7 178.0,1138.7 177.6,1137.9 177.3,1137.4 176.9,1137.7 176.6,1137.1 176.2,1138.4 175.9,1137.2 175.5,1137.6 175.2,1137.8 174.8,1139.1 174.5,1137.6 174.1,1139.0 173.8,1137.6 173.4,1139.1 173.1,1137.7 172.7,1139.1 172.4,1137.7 172.0,1138.7 171.7,1138.4 171.3,1138.6 171.0,1138.9 170.6,1138.5 170.3,1138.2 169.9,1137.9 169.6,1138.5 169.2,1139.5 168.9,1139.4 168.5,1139.5 168.2,1138.8 167.8,1138.8 167.5,1131.4 167.1,1139.0 166.8,1131.2 166.4,1139.1 166.1,1138.0 165.7,1139.7 165.4,1139.5 165.0,1139.3 164.7,1139.4 164.3,1135.8 164.0,1137.2 163.6,1139.8 163.3,1137.1 162.9,1139.1 162.6,1138.9 162.2,1138.8 161.9,1140.0 161.5,1138.7 161.2,1139.9 160.8,1139.5 160.5,1137.2 160.1,1139.2 159.8,1138.5 159.4,1139.4 159.1,1139.7 158.7,1139.6 158.4,1135.7 158.0,1140.2 157.7,1140.2 157.3,1139.3 157.0,1137.6 156.6,1140.2 156.3,1136.3 155.9,1136.7 155.6,1139.6 155.2,1140.3 154.9,1140.1 154.5,1139.9 154.2,1139.4 153.8,1139.5 153.5,1133.7 153.1,1140.7 152.8,1139.5 152.4,1140.5 152.1,1140.9 151.7,1139.8 151.4,1140.3 151.0,1140.1 150.7,1140.7 150.3,1140.6 150.0,1139.8 149.6,1138.5 149.3,1140.0 148.9,1140.0 148.6,1140.4 148.2,1138.7 147.9,1137.6 147.5,1140.2 147.2,1140.5 146.8,1139.1 146.5,1140.9 146.1,1134.9 145.8,1139.4 145.4,1141.4 145.1,1141.4 144.7,1141.3 144.4,1140.4 144.0,1140.8 143.7,1139.9 143.3,1140.9 143.0,1139.3 142.6,1141.4 142.3,1141.0 141.9,1141.2 141.6,1141.3 141.2,1141.4 140.9,1141.7 140.5,1140.2 140.2,1140.4 139.8,1141.7 139.5,1139.4 139.1,1138.9 138.8,1141.5 138.4,1141.6 138.1,1141.4 137.7,1141.9 137.4,1140.0 137.0,1140.2 136.7,1141.6 136.3,1141.8 136.0,1142.0 135.6,1141.2 135.3,1140.6 134.9,1141.7 134.6,1141.9 134.2,1140.6 133.9,1142.1 133.5,1141.8 133.2,1142.3 132.8,1142.0 132.5,1141.7 132.1,1133.8 131.8,1141.3 131.4,1142.2 131.1,1143.1 130.7,1143.1 130.4,1143.9 130.0,1142.2 129.7,1137.6 129.3,1143.3 129.0,1144.8 128.6,1145.4 128.3,1143.0 127.9,1140.7 127.6,1146.2 127.2,1142.1 126.9,1146.4 126.5,1148.6 126.2,1148.9 125.8,1147.6 125.5,1147.4 125.1,1150.1 124.8,1150.0 124.4,1149.1 124.1,1149.3 123.7,1150.1 123.4,1143.0 123.0,1149.0 122.7,1145.0 122.3,1148.9 122.0,1149.9 121.6,1149.9 121.3,1150.6 120.9,1150.8 120.6,1149.2 120.2,1150.9 119.9,1150.2 119.5,1151.1 119.2,1151.5 118.8,1148.8 118.5,1151.5 118.1,1151.6 117.8,1150.9 117.4,1151.4 117.1,1150.9" fill="#000" />
<g stroke="#444" stroke-width="0.8"><line x1="455.1" y1="1138.2" x2="455.1" y2="1131.4"/><line x1="517.1" y1="1142.0" x2="517.1" y2="1132.8"/><line x1="459.0" y1="1137.0" x2="459.0" y2="1127.3"/><line x1="337.2" y1="1135.9" x2="337.2" y2="1131.5"/><line x1="386.5" y1="1132.4" x2="386.5" y2="1124.7"/><line x1="198.5" y1="1142.9" x2="198.5" y2="1134.2"/><line x1="344.8" y1="1137.8" x2="344.8" y2="1128.8"/><line x1="219.6" y1="1140.2" x2="219.6" y2="1135.1"/><line x1="171.7" y1="1140.3" x2="171.7" y2="1129.5"/><line x1="466.6" y1="1135.2" x2="466.6" y2="1129.3"/><line x1="150.7" y1="1142.0" x2="150.7" y2="1136.2"/><line x1="511.1" y1="1144.0" x2="511.1" y2="1134.0"/><line x1="207.5" y1="1141.7" x2="207.5" y2="1130.9"/><line x1="225.0" y1="1139.5" x2="225.0" y2="1136.1"/><line x1="190.6" y1="1142.4" x2="190.6" y2="1139.2"/><line x1="244.3" y1="1136.9" x2="244.3" y2="1126.5"/><line x1="362.0" y1="1135.5" x2="362.0" y2="1125.1"/><line x1="170.9" y1="1140.4" x2="170.9" y2="1130.9"/><line x1="192.5" y1="1143.0" x2="192.5" y2="1137.4"/><line x1="587.5" y1="1136.8" x2="587.5" y2="1127.1"/><line x1="486.6" y1="1132.7" x2="486.6" y2="1123.3"/><line x1="307.1" y1="1135.9" x2="307.1" y2="1127.1"/><line x1="338.0" y1="1136.2" x2="338.0" y2="1125.9"/><line x1="458.8" y1="1137.1" x2="458.8" y2="1126.2"/><line x1="539.2" y1="1135.6" x2="539.2" y2="1124.6"/><line x1="171.9" y1="1140.3" x2="171.9" y2="1137.1"/><line x1="314.2" y1="1135.0" x2="314.2" y2="1123.0"/><line x1="411.2" y1="1132.0" x2="411.2" y2="1120.7"/><line x1="180.7" y1="1139.6" x2="180.7" y2="1132.4"/><line x1="524.1" y1="1140.0" x2="524.1" y2="1136.4"/><line x1="619.4" y1="1139.5" x2="619.4" y2="1132.1"/><line x1="268.3" y1="1133.9" x2="268.3" y2="1126.4"/><line x1="591.8" y1="1135.1" x2="591.8" y2="1123.5"/><line x1="300.9" y1="1136.7" x2="300.9" y2="1128.0"/><line x1="160.6" y1="1141.2" x2="160.6" y2="1131.5"/><line x1="162.3" y1="1141.1" x2="162.3" y2="1132.0"/><line x1="281.9" y1="1132.1" x2="281.9" y2="1127.5"/><line x1="196.3" y1="1143.2" x2="196.3" y2="1132.3"/><line x1="235.0" y1="1138.2" x2="235.0" y2="1130.7"/><line x1="202.2" y1="1142.4" x2="202.2" y2="1135.4"/><line x1="531.0" y1="1138.0" x2="531.0" y2="1132.7"/><line x1="478.5" y1="1133.7" x2="478.5" y2="1127.3"/><line x1="186.7" y1="1141.1" x2="186.7" y2="1131.2"/><line x1="295.2" y1="1137.5" x2="295.2" y2="1128.8"/><line x1="482.8" y1="1133.2" x2="482.8" y2="1126.9"/><line x1="231.8" y1="1138.6" x2="231.8" y2="1126.7"/><line x1="237.3" y1="1137.8" x2="237.3" y2="1134.5"/><line x1="388.5" y1="1132.3" x2="388.5" y2="1124.4"/><line x1="201.7" y1="1142.5" x2="201.7" y2="1135.5"/><line x1="259.6" y1="1135.0" x2="259.6" y2="1123.7"/><line x1="368.3" y1="1134.7" x2="368.3" y2="1126.7"/><line x1="196.3" y1="1143.2" x2="196.3" y2="1132.6"/><line x1="250.4" y1="1136.2" x2="250.4" y2="1127.4"/><line x1="509.4" y1="1145.1" x2="509.4" y2="1138.1"/><line x1="283.4" y1="1132.2" x2="283.4" y2="1122.3"/><line x1="480.1" y1="1133.5" x2="480.1" y2="1129.1"/><line x1="251.4" y1="1136.0" x2="251.4" y2="1131.2"/><line x1="136.3" y1="1143.2" x2="136.3" y2="1135.1"/><line x1="619.5" y1="1139.4" x2="619.5" y2="1134.1"/><line x1="589.2" y1="1136.2" x2="589.2" y2="1129.6"/><line x1="577.0" y1="1141.2" x2="577.0" y2="1137.4"/><line x1="282.2" y1="1132.1" x2="282.2" y2="1120.0"/><line x1="574.8" y1="1142.1" x2="574.8" y2="1132.5"/><line x1="462.7" y1="1135.9" x2="462.7" y2="1130.1"/><line x1="612.5" y1="1142.2" x2="612.5" y2="1134.6"/><line x1="530.5" y1="1138.1" x2="530.5" y2="1131.5"/><line x1="589.1" y1="1136.2" x2="589.1" y2="1127.3"/><line x1="477.2" y1="1133.9" x2="477.2" y2="1129.5"/><line x1="329.9" y1="1133.3" x2="329.9" y2="1129.4"/><line x1="300.3" y1="1136.8" x2="300.3" y2="1128.7"/><line x1="268.8" y1="1133.8" x2="268.8" y2="1130.8"/><line x1="338.3" y1="1136.3" x2="338.3" y2="1126.3"/><line x1="312.8" y1="1135.1" x2="312.8" y2="1124.8"/><line x1="317.1" y1="1134.6" x2="317.1" y2="1126.3"/><line x1="274.8" y1="1133.1" x2="274.8" y2="1129.1"/><line x1="511.9" y1="1143.6" x2="511.9" y2="1136.6"/><line x1="518.1" y1="1141.7" x2="518.1" y2="1132.3"/><line x1="510.4" y1="1144.4" x2="510.4" y2="1138.5"/><line x1="270.3" y1="1133.6" x2="270.3" y2="1128.3"/><line x1="356.8" y1="1136.2" x2="356.8" y2="1127.6"/><line x1="551.6" y1="1142.8" x2="551.6" y2="1131.7"/><line x1="486.2" y1="1132.7" x2="486.2" y2="1124.2"/><line x1="267.8" y1="1133.9" x2="267.8" y2="1124.9"/><line x1="265.6" y1="1134.2" x2="265.6" y2="1122.3"/><line x1="237.6" y1="1137.8" x2="237.6" y2="1130.9"/><line x1="236.1" y1="1138.0" x2="236.1" y2="1132.9"/><line x1="225.3" y1="1139.4" x2="225.3" y2="1133.5"/><line x1="146.6" y1="1142.3" x2="146.6" y2="1131.8"/><line x1="569.8" y1="1144.2" x2="569.8" y2="1138.2"/><line x1="580.4" y1="1139.8" x2="580.4" y2="1134.8"/><line x1="250.2" y1="1136.2" x2="250.2" y2="1127.7"/><line x1="232.4" y1="1138.5" x2="232.4" y2="1127.0"/><line x1="605.4" y1="1145.8" x2="605.4" y2="1141.9"/><line x1="346.6" y1="1137.5" x2="346.6" y2="1130.8"/><line x1="614.4" y1="1141.5" x2="614.4" y2="1130.5"/><line x1="155.5" y1="1141.6" x2="155.5" y2="1130.6"/><line x1="445.1" y1="1141.2" x2="445.1" y2="1134.5"/><line x1="341.0" y1="1137.3" x2="341.0" y2="1126.6"/><line x1="188.6" y1="1141.7" x2="188.6" y2="1135.4"/><line x1="174.5" y1="1140.1" x2="174.5" y2="1133.6"/><line x1="521.1" y1="1140.8" x2="521.1" y2="1130.9"/><line x1="195.0" y1="1143.4" x2="195.0" y2="1138.4"/><line x1="471.8" y1="1134.5" x2="471.8" y2="1129.9"/><line x1="149.5" y1="1142.1" x2="149.5" y2="1131.9"/><line x1="136.7" y1="1143.1" x2="136.7" y2="1132.9"/><line x1="320.7" y1="1134.1" x2="320.7" y2="1128.2"/><line x1="319.3" y1="1134.3" x2="319.3" y2="1122.6"/><line x1="411.8" y1="1132.3" x2="411.8" y2="1127.9"/><line x1="403.3" y1="1128.5" x2="403.3" y2="1122.0"/><line x1="571.5" y1="1143.4" x2="571.5" y2="1139.2"/><line x1="370.1" y1="1134.4" x2="370.1" y2="1131.2"/><line x1="255.5" y1="1135.5" x2="255.5" y2="1125.4"/><line x1="579.9" y1="1140.0" x2="579.9" y2="1135.7"/><line x1="355.1" y1="1136.4" x2="355.1" y2="1132.5"/><line x1="469.5" y1="1134.8" x2="469.5" y2="1130.8"/><line x1="582.4" y1="1139.0" x2="582.4" y2="1131.7"/><line x1="392.0" y1="1132.0" x2="392.0" y2="1125.2"/><line x1="322.3" y1="1133.9" x2="322.3" y2="1122.4"/><line x1="316.9" y1="1134.6" x2="316.9" y2="1123.8"/><line x1="312.4" y1="1135.2" x2="312.4" y2="1131.4"/><line x1="238.2" y1="1137.7" x2="238.2" y2="1130.7"/><line x1="344.0" y1="1137.9" x2="344.0" y2="1133.3"/><line x1="473.4" y1="1134.3" x2="473.4" y2="1129.1"/><line x1="446.8" y1="1140.7" x2="446.8" y2="1133.5"/><line x1="445.6" y1="1141.1" x2="445.6" y2="1130.9"/><line x1="477.1" y1="1133.9" x2="477.1" y2="1125.0"/><line x1="462.9" y1="1135.8" x2="462.9" y2="1128.1"/><line x1="616.6" y1="1140.6" x2="616.6" y2="1130.9"/><line x1="202.9" y1="1142.3" x2="202.9" y2="1138.0"/><line x1="340.8" y1="1137.2" x2="340.8" y2="1125.9"/><line x1="195.8" y1="1143.3" x2="195.8" y2="1138.3"/><line x1="619.8" y1="1139.3" x2="619.8" y2="1130.0"/><line x1="394.4" y1="1131.3" x2="394.4" y2="1126.5"/><line x1="140.8" y1="1142.8" x2="140.8" y2="1137.1"/><line x1="219.1" y1="1140.2" x2="219.1" y2="1129.4"/><line x1="380.9" y1="1133.0" x2="380.9" y2="1125.0"/><line x1="369.3" y1="1134.6" x2="369.3" y2="1129.3"/><line x1="488.2" y1="1132.5" x2="488.2" y2="1122.2"/><line x1="574.9" y1="1142.1" x2="574.9" y2="1135.0"/><line x1="189.8" y1="1142.1" x2="189.8" y2="1131.1"/><line x1="132.4" y1="1143.5" x2="132.4" y2="1139.2"/><line x1="475.1" y1="1134.1" x2="475.1" y2="1122.9"/><line x1="591.8" y1="1135.1" x2="591.8" y2="1126.4"/><line x1="261.7" y1="1134.7" x2="261.7" y2="1131.4"/><line x1="488.7" y1="1132.4" x2="488.7" y2="1123.1"/><line x1="182.6" y1="1139.7" x2="182.6" y2="1130.2"/><line x1="595.2" y1="1148.4" x2="595.2" y2="1143.9"/><line x1="332.0" y1="1134.1" x2="332.0" y2="1125.1"/><line x1="183.2" y1="1139.9" x2="183.2" y2="1129.1"/><line x1="270.4" y1="1133.6" x2="270.4" y2="1123.9"/><line x1="240.9" y1="1137.4" x2="240.9" y2="1132.7"/><line x1="252.8" y1="1135.9" x2="252.8" y2="1123.4"/><line x1="551.1" y1="1140.2" x2="551.1" y2="1132.6"/><line x1="403.2" y1="1128.6" x2="403.2" y2="1125.2"/><line x1="463.0" y1="1135.8" x2="463.0" y2="1127.4"/></g>
<line x1="182.70" y1="976.00" x2="182.70" y2="1141.00" stroke="#9a9a9a" stroke-width="1.0" />
<line x1="182.70" y1="1058.00" x2="182.70" y2="1141.00" stroke="#333" stroke-width="1.15" />
<line x1="184.50" y1="978.00" x2="184.50" y2="1141.00" stroke="#9a9a9a" stroke-width="1.0" />
<line x1="184.50" y1="1058.00" x2="184.50" y2="1141.00" stroke="#333" stroke-width="1.15" />
<line x1="186.30" y1="979.00" x2="186.30" y2="1141.00" stroke="#9a9a9a" stroke-width="1.0" />
<line x1="186.30" y1="1058.00" x2="186.30" y2="1141.00" stroke="#333" stroke-width="1.15" />
<line x1="188.20" y1="979.60" x2="188.20" y2="1141.00" stroke="#9a9a9a" stroke-width="1.0" />
<line x1="188.20" y1="1058.00" x2="188.20" y2="1141.00" stroke="#333" stroke-width="1.15" />
<line x1="190.20" y1="978.00" x2="190.20" y2="1141.00" stroke="#9a9a9a" stroke-width="1.0" />
<line x1="190.20" y1="1058.00" x2="190.20" y2="1141.00" stroke="#333" stroke-width="1.15" />
<line x1="192.80" y1="980.00" x2="192.80" y2="1141.00" stroke="#9a9a9a" stroke-width="1.0" />
<line x1="192.80" y1="1058.00" x2="192.80" y2="1141.00" stroke="#333" stroke-width="1.15" />
<line x1="186.00" y1="1141.00" x2="187.00" y2="1152.00" stroke="#111" stroke-width="1.2" />
<line x1="191.00" y1="1141.00" x2="192.50" y2="1150.00" stroke="#111" stroke-width="1.2" />
<line x1="272.30" y1="982.00" x2="272.30" y2="1136.00" stroke="#b0b0b0" stroke-width="1.0" />
<line x1="284.40" y1="977.70" x2="284.40" y2="1134.00" stroke="#9a9a9a" stroke-width="1.0" />
<line x1="284.40" y1="1060.00" x2="284.40" y2="1134.00" stroke="#333" stroke-width="1.15" />
<line x1="286.20" y1="978.00" x2="286.20" y2="1134.00" stroke="#9a9a9a" stroke-width="1.0" />
<line x1="286.20" y1="1060.00" x2="286.20" y2="1134.00" stroke="#333" stroke-width="1.15" />
<line x1="288.10" y1="977.70" x2="288.10" y2="1134.00" stroke="#9a9a9a" stroke-width="1.0" />
<line x1="288.10" y1="1060.00" x2="288.10" y2="1134.00" stroke="#333" stroke-width="1.15" />
<line x1="290.50" y1="979.60" x2="290.50" y2="1134.00" stroke="#9a9a9a" stroke-width="1.0" />
<line x1="290.50" y1="1060.00" x2="290.50" y2="1134.00" stroke="#333" stroke-width="1.15" />
<line x1="293.70" y1="979.00" x2="293.70" y2="1134.00" stroke="#9a9a9a" stroke-width="1.0" />
<line x1="293.70" y1="1060.00" x2="293.70" y2="1134.00" stroke="#333" stroke-width="1.15" />
<line x1="287.00" y1="1134.00" x2="288.00" y2="1152.00" stroke="#111" stroke-width="1.2" />
<line x1="289.50" y1="1134.00" x2="290.50" y2="1150.00" stroke="#111" stroke-width="1.2" />
<line x1="304.90" y1="1120.40" x2="304.90" y2="1137.00" stroke="#777" stroke-width="1.0" />
<line x1="329.70" y1="980.00" x2="329.70" y2="1135.00" stroke="#9a9a9a" stroke-width="1.0" />
<line x1="329.70" y1="1055.00" x2="329.70" y2="1135.00" stroke="#333" stroke-width="1.15" />
<line x1="331.50" y1="982.40" x2="331.50" y2="1135.00" stroke="#9a9a9a" stroke-width="1.0" />
<line x1="331.50" y1="1055.00" x2="331.50" y2="1135.00" stroke="#333" stroke-width="1.15" />
<line x1="335.20" y1="979.00" x2="335.20" y2="1135.00" stroke="#9a9a9a" stroke-width="1.0" />
<line x1="335.20" y1="1055.00" x2="335.20" y2="1135.00" stroke="#333" stroke-width="1.15" />
<line x1="337.10" y1="978.60" x2="337.10" y2="1135.00" stroke="#9a9a9a" stroke-width="1.0" />
<line x1="337.10" y1="1055.00" x2="337.10" y2="1135.00" stroke="#333" stroke-width="1.15" />
<line x1="339.00" y1="978.60" x2="339.00" y2="1135.00" stroke="#9a9a9a" stroke-width="1.0" />
<line x1="339.00" y1="1055.00" x2="339.00" y2="1135.00" stroke="#333" stroke-width="1.15" />
<line x1="340.90" y1="979.00" x2="340.90" y2="1135.00" stroke="#9a9a9a" stroke-width="1.0" />
<line x1="340.90" y1="1055.00" x2="340.90" y2="1135.00" stroke="#333" stroke-width="1.15" />
<line x1="340.50" y1="1135.00" x2="341.00" y2="1154.00" stroke="#111" stroke-width="1.2" />
<line x1="357.70" y1="990.80" x2="357.70" y2="1137.00" stroke="#9a9a9a" stroke-width="1.0" />
<line x1="357.70" y1="1066.00" x2="357.70" y2="1137.00" stroke="#333" stroke-width="1.15" />
<line x1="385.70" y1="980.90" x2="385.70" y2="1134.00" stroke="#9a9a9a" stroke-width="1.0" />
<line x1="385.70" y1="1062.00" x2="385.70" y2="1134.00" stroke="#333" stroke-width="1.15" />
<line x1="388.00" y1="980.00" x2="388.00" y2="1134.00" stroke="#9a9a9a" stroke-width="1.0" />
<line x1="388.00" y1="1062.00" x2="388.00" y2="1134.00" stroke="#333" stroke-width="1.15" />
<line x1="390.70" y1="980.00" x2="390.70" y2="1134.00" stroke="#9a9a9a" stroke-width="1.0" />
<line x1="390.70" y1="1062.00" x2="390.70" y2="1134.00" stroke="#333" stroke-width="1.15" />
<line x1="391.00" y1="1134.00" x2="391.50" y2="1154.00" stroke="#111" stroke-width="1.2" />
<line x1="405.60" y1="979.00" x2="405.60" y2="1131.00" stroke="#9a9a9a" stroke-width="1.0" />
<line x1="405.60" y1="1050.00" x2="405.60" y2="1131.00" stroke="#333" stroke-width="1.15" />
<line x1="407.50" y1="979.60" x2="407.50" y2="1131.00" stroke="#9a9a9a" stroke-width="1.0" />
<line x1="407.50" y1="1050.00" x2="407.50" y2="1131.00" stroke="#333" stroke-width="1.15" />
<line x1="410.40" y1="981.00" x2="410.40" y2="1131.00" stroke="#9a9a9a" stroke-width="1.0" />
<line x1="410.40" y1="1050.00" x2="410.40" y2="1131.00" stroke="#333" stroke-width="1.15" />
<line x1="413.00" y1="980.00" x2="413.00" y2="1131.00" stroke="#9a9a9a" stroke-width="1.0" />
<line x1="413.00" y1="1050.00" x2="413.00" y2="1131.00" stroke="#333" stroke-width="1.15" />
<line x1="415.10" y1="982.00" x2="415.10" y2="1131.00" stroke="#9a9a9a" stroke-width="1.0" />
<line x1="415.10" y1="1050.00" x2="415.10" y2="1131.00" stroke="#333" stroke-width="1.15" />
<line x1="412.30" y1="1131.00" x2="412.60" y2="1155.00" stroke="#111" stroke-width="1.2" />
<line x1="480.90" y1="986.60" x2="480.90" y2="1136.00" stroke="#8a8a8a" stroke-width="1.0" />
<line x1="480.90" y1="1064.00" x2="480.90" y2="1136.00" stroke="#333" stroke-width="1.15" />
<line x1="493.10" y1="980.00" x2="493.10" y2="1135.00" stroke="#000" stroke-width="1.4" />
<line x1="493.10" y1="981.00" x2="493.10" y2="1135.00" stroke="#000" stroke-width="1.4" />
<line x1="549.70" y1="974.80" x2="549.70" y2="1138.00" stroke="#000" stroke-width="1.5" />
<line x1="549.70" y1="975.00" x2="549.70" y2="1138.00" stroke="#000" stroke-width="1.5" />
<line x1="593.10" y1="977.10" x2="593.10" y2="1139.00" stroke="#444" stroke-width="1.2" />
<line x1="593.10" y1="1000.00" x2="593.10" y2="1139.00" stroke="#000" stroke-width="1.4" />
<line x1="610.60" y1="1127.30" x2="610.60" y2="1143.00" stroke="#888" stroke-width="0.9" />
<line x1="615.70" y1="1127.30" x2="615.70" y2="1143.00" stroke="#888" stroke-width="0.9" />
<text x="2.72" y="1166.42" font-size="34.5" >-72 mV</text>
<rect x="542.80" y="1168.30" width="52.30" height="3.70" fill="#000"/>
<text x="516.1" y="1207.26" font-size="34.5" >1 min</text>
<rect x="781.70" y="959.90" width="10.20" height="3.60" fill="#000"/>
<polygon points="642.2,1140.8 642.6,1142.6 643.0,1141.6 643.4,1140.3 643.8,1142.0 644.2,1142.6 644.6,1141.3 645.0,1142.1 645.4,1141.3 645.8,1141.0 646.2,1139.8 646.6,1142.1 647.0,1141.1 647.4,1141.6 647.8,1140.7 648.2,1140.8 648.6,1142.0 649.0,1141.1 649.4,1141.1 649.8,1140.6 650.2,1141.4 650.6,1141.8 651.0,1141.0 651.4,1141.2 651.8,1140.5 652.2,1142.1 652.6,1140.9 653.0,1141.2 653.4,1142.2 653.8,1141.1 654.2,1140.3 654.6,1140.7 655.0,1141.0 655.4,1142.3 655.8,1141.3 656.2,1141.0 656.6,1141.7 657.0,1141.9 657.4,1140.7 657.8,1142.0 658.2,1141.7 658.6,1141.4 659.0,1139.7 659.4,1141.2 659.8,1141.9 660.2,1140.9 660.6,1142.5 661.0,1141.1 661.4,1140.5 661.8,1141.4 662.2,1141.2 662.6,1141.5 663.0,1140.9 663.4,1141.8 663.8,1140.7 664.2,1141.1 664.6,1140.2 665.0,1140.5 665.4,1141.1 665.8,1140.6 666.2,1140.7 666.6,1140.8 667.0,1141.1 667.4,1141.4 667.8,1141.4 668.2,1141.5 668.6,1141.0 669.0,1140.6 669.4,1139.9 669.8,1140.7 670.2,1140.4 670.6,1139.8 671.0,1141.9 671.4,1139.7 671.8,1141.1 672.2,1141.2 672.6,1140.7 673.0,1142.4 673.4,1140.8 673.8,1140.3 674.2,1141.9 674.6,1140.3 675.0,1139.9 675.4,1140.2 675.8,1140.4 676.2,1140.8 676.6,1140.9 677.0,1139.8 677.4,1140.9 677.8,1142.1 678.2,1140.3 678.6,1140.6 679.0,1141.1 679.4,1141.4 679.8,1140.3 680.2,1140.1 680.6,1140.0 681.0,1141.3 681.4,1141.2 681.8,1139.3 682.2,1139.3 682.6,1139.9 683.0,1139.7 683.4,1140.8 683.8,1140.7 684.2,1141.8 684.6,1141.1 685.0,1140.6 685.4,1141.3 685.8,1140.0 686.2,1139.7 686.6,1140.5 687.0,1141.1 687.4,1139.5 687.8,1141.0 688.2,1141.0 688.6,1140.2 688.6,1133.5 688.2,1133.9 687.8,1133.8 687.4,1134.5 687.0,1131.9 686.6,1134.4 686.2,1133.3 685.8,1133.5 685.4,1134.2 685.0,1131.0 684.6,1133.3 684.2,1133.2 683.8,1134.1 683.4,1133.1 683.0,1134.5 682.6,1133.9 682.2,1133.9 681.8,1134.4 681.4,1128.4 681.0,1134.1 680.6,1133.9 680.2,1134.2 679.8,1134.5 679.4,1134.7 679.0,1131.1 678.6,1132.5 678.2,1133.4 677.8,1133.9 677.4,1134.0 677.0,1133.6 676.6,1133.3 676.2,1133.2 675.8,1133.0 675.4,1134.7 675.0,1134.3 674.6,1134.6 674.2,1134.3 673.8,1134.0 673.4,1132.6 673.0,1133.0 672.6,1134.8 672.2,1134.8 671.8,1134.4 671.4,1134.2 671.0,1133.5 670.6,1133.9 670.2,1134.8 669.8,1134.8 669.4,1134.2 669.0,1132.0 668.6,1134.4 668.2,1133.6 667.8,1134.8 667.4,1134.4 667.0,1134.1 666.6,1133.6 666.2,1134.3 665.8,1134.5 665.4,1134.4 665.0,1134.7 664.6,1134.8 664.2,1133.6 663.8,1134.5 663.4,1132.7 663.0,1134.8 662.6,1131.5 662.2,1134.8 661.8,1133.8 661.4,1134.7 661.0,1133.7 660.6,1135.1 660.2,1134.5 659.8,1134.5 659.4,1134.4 659.0,1133.4 658.6,1134.9 658.2,1133.7 657.8,1129.9 657.4,1134.7 657.0,1135.1 656.6,1134.0 656.2,1134.4 655.8,1133.1 655.4,1134.1 655.0,1133.4 654.6,1135.2 654.2,1134.9 653.8,1134.9 653.4,1133.1 653.0,1133.5 652.6,1135.3 652.2,1134.8 651.8,1134.9 651.4,1134.7 651.0,1133.7 650.6,1135.1 650.2,1134.5 649.8,1133.1 649.4,1134.9 649.0,1134.3 648.6,1130.9 648.2,1130.2 647.8,1133.6 647.4,1134.7 647.0,1134.5 646.6,1134.0 646.2,1133.1 645.8,1134.2 645.4,1134.7 645.0,1135.1 644.6,1134.6 644.2,1134.8 643.8,1133.6 643.4,1134.6 643.0,1134.4 642.6,1134.7 642.2,1133.0" fill="#000" />
<polyline points="688.5,1137.3 689.0,1126.4 689.5,1115.5 690.0,1105.9 690.5,1114.6 691.0,1124.5 691.5,1126.5 692.0,1129.6 692.5,1130.7 693.0,1135.2 693.5,1136.5 694.0,1138.5 694.5,1141.3 695.0,1144.5 695.5,1146.4 696.0,1146.5 696.5,1145.3 697.0,1146.9 697.5,1147.2 698.0,1145.3 698.5,1145.4 699.0,1143.8 699.5,1144.5 700.0,1142.1 700.5,1143.6 701.0,1142.9 701.5,1142.6 702.0,1142.1 702.5,1143.6 703.0,1141.6 703.5,1141.7 704.0,1141.7 704.5,1141.4 705.0,1140.7 705.5,1138.8 706.0,1137.6 706.5,1137.3 707.0,1137.0 707.5,1136.8 708.0,1136.1 708.5,1136.7 709.0,1134.8 709.5,1136.1 710.0,1134.7 710.5,1132.5 711.0,1128.5 711.5,1119.3 712.0,1118.2 712.5,1121.8 713.0,1126.3 713.5,1128.7 714.0,1137.6 714.5,1136.2 715.0,1137.8 715.5,1140.5 716.0,1140.6 716.5,1141.4 717.0,1144.4 717.5,1142.4 718.0,1144.0 718.5,1143.1 719.0,1143.9 719.5,1141.3 720.0,1143.6 720.5,1142.4 721.0,1143.8 721.5,1141.0 722.0,1143.3 722.5,1141.9 723.0,1141.7 723.5,1140.0 724.0,1141.0 724.5,1140.9 725.0,1139.2 725.5,1138.6 726.0,1138.7 726.5,1140.7 727.0,1139.1 727.5,1139.6 728.0,1138.7 728.5,1138.3 729.0,1138.1 729.5,1137.2 730.0,1138.6 730.5,1137.3 731.0,1137.1 731.5,1135.2 732.0,1133.5 732.5,1126.9 733.0,1121.5 733.5,1125.5 734.0,1125.9 734.5,1129.3 735.0,1132.6 735.5,1135.6 736.0,1136.5 736.5,1139.8 737.0,1142.3 737.5,1141.8 738.0,1141.6 738.5,1142.7 739.0,1146.1 739.5,1145.3 740.0,1143.5 740.5,1143.8 741.0,1143.7 741.5,1143.4 742.0,1143.4 742.5,1145.3 743.0,1142.0 743.5,1142.6 744.0,1141.3 744.5,1141.1 745.0,1140.5 745.5,1140.8 746.0,1140.2 746.5,1140.7 747.0,1140.3 747.5,1138.8 748.0,1141.2 748.5,1137.9 749.0,1139.0 749.5,1140.4 750.0,1137.3 750.5,1138.9 751.0,1138.6 751.5,1137.1 752.0,1134.6 752.5,1137.4 753.0,1135.7 753.5,1134.7 754.0,1136.1 754.5,1133.7 755.0,1135.1 755.5,1133.1 756.0,1133.8 756.5,1130.3 757.0,1126.7 757.5,1122.0 758.0,1117.9 758.5,1122.0 759.0,1124.9 759.5,1128.5 760.0,1132.8 760.5,1134.7 761.0,1136.2 761.5,1139.1 762.0,1140.9 762.5,1143.2 763.0,1144.7 763.5,1144.5 764.0,1143.2 764.5,1143.9 765.0,1141.7 765.5,1144.2 766.0,1143.2 766.5,1143.1 767.0,1142.1 767.5,1142.4 768.0,1141.5 768.5,1142.5 769.0,1140.6 769.5,1142.6 770.0,1142.1 770.5,1143.3 771.0,1141.2 771.5,1141.0 772.0,1141.1 772.5,1140.8 773.0,1140.5 773.5,1139.4 774.0,1139.3 774.5,1139.6 775.0,1139.7 775.5,1138.8 776.0,1138.8 776.5,1139.5 777.0,1140.4 777.5,1139.5 778.0,1140.2 778.5,1140.4 779.0,1140.1 779.5,1139.0 780.0,1138.9 780.5,1137.5 781.0,1138.5 781.5,1139.5 782.0,1138.0 782.5,1140.2 783.0,1140.2 783.5,1138.4 784.0,1139.5 784.5,1137.3 785.0,1137.6 785.5,1138.1 786.0,1138.4 786.5,1138.2 787.0,1132.8 787.5,1127.4 788.0,1118.0 788.5,1123.0 789.0,1128.5 789.5,1133.1 790.0,1137.8 790.5,1139.8 791.0,1141.3 791.5,1145.4 792.0,1144.1 792.5,1143.6 793.0,1143.8 793.5,1143.3 794.0,1144.7 794.5,1143.8 795.0,1144.1 795.5,1144.0 796.0,1143.5 796.5,1143.3 797.0,1142.6 797.5,1142.7 798.0,1142.4 798.5,1142.5 799.0,1142.0 799.5,1142.7 800.0,1142.3 800.5,1141.9 801.0,1141.2 801.5,1142.1 802.0,1142.1 802.5,1141.7 803.0,1141.1 803.5,1141.7 804.0,1141.9 804.5,1140.6 805.0,1141.6 805.5,1140.5 806.0,1141.3 806.5,1141.9 807.0,1141.2 807.5,1141.3 808.0,1140.8 808.5,1140.9 809.0,1141.9 809.5,1141.4 810.0,1140.6 810.5,1140.5 811.0,1140.6 811.5,1141.5 812.0,1140.6 812.5,1140.9 813.0,1140.2 813.5,1139.7 814.0,1140.8 814.5,1140.1 815.0,1139.8 815.5,1139.8 816.0,1139.8 816.5,1139.9 817.0,1139.5 817.5,1140.7 818.0,1140.3 818.5,1140.6 819.0,1140.0 819.5,1140.3 820.0,1140.2 820.5,1140.7 821.0,1140.5 821.5,1140.4 822.0,1139.9 822.5,1139.7 823.0,1139.9 823.5,1139.9 824.0,1140.0 824.5,1139.7 825.0,1141.0 825.5,1140.4 826.0,1139.4 826.5,1139.8 827.0,1139.7 827.5,1140.4 828.0,1140.8 828.5,1139.8 829.0,1140.6 829.5,1140.2 830.0,1140.8 830.5,1140.9 831.0,1140.5 831.5,1140.7 832.0,1140.3 832.5,1140.2 833.0,1139.8 833.5,1140.5 834.0,1140.3 834.5,1140.2 835.0,1140.4 835.5,1140.3 836.0,1139.9 836.5,1140.2 837.0,1140.9 837.5,1140.3 838.0,1141.1 838.5,1139.9 839.0,1139.8 839.5,1140.5 840.0,1140.8 840.5,1140.2 841.0,1140.8 841.5,1140.9 842.0,1141.0 842.5,1140.4 843.0,1140.5 843.5,1139.7 844.0,1140.5 844.5,1140.7 845.0,1141.2 845.5,1139.9 846.0,1140.1 846.5,1140.1 847.0,1141.0 847.5,1139.4 848.0,1140.1 848.5,1141.6 849.0,1140.9 849.5,1140.0 850.0,1140.6 850.5,1141.0 851.0,1140.9 851.5,1140.5 852.0,1140.3 852.5,1141.0 853.0,1140.6 853.5,1141.0 854.0,1140.8 854.5,1140.4 855.0,1141.4 855.5,1140.4 856.0,1140.9 856.5,1140.4 857.0,1140.6 857.5,1140.6 858.0,1140.4 858.5,1140.8 859.0,1141.4 859.5,1141.6 860.0,1141.4 860.5,1140.7 861.0,1141.5 861.5,1141.0 862.0,1141.6 862.5,1140.2 863.0,1141.5 863.5,1140.5 864.0,1141.4 864.5,1140.6 865.0,1141.3 865.5,1140.7 866.0,1139.9 866.5,1140.4 867.0,1140.7 867.5,1140.9 868.0,1139.8 868.5,1140.3 869.0,1140.5 869.5,1140.8 870.0,1141.0 870.5,1140.5 871.0,1140.1 871.5,1141.1 872.0,1140.7 872.5,1141.4 873.0,1140.7 873.5,1141.3 874.0,1140.5 874.5,1141.1 875.0,1141.0 875.5,1141.2 876.0,1140.5 876.5,1140.9 877.0,1140.6 877.5,1140.9" fill="none" stroke="#000" stroke-width="1.6" stroke-linejoin="round" />
<line x1="689.20" y1="974.20" x2="689.20" y2="1130.00" stroke="#777" stroke-width="1.0" />
<line x1="711.20" y1="977.30" x2="711.20" y2="1130.00" stroke="#777" stroke-width="1.0" />
<line x1="732.40" y1="978.30" x2="732.40" y2="1130.00" stroke="#000" stroke-width="1.7" />
<line x1="757.00" y1="980.80" x2="757.00" y2="1130.00" stroke="#111" stroke-width="1.4" />
<line x1="787.40" y1="976.90" x2="787.40" y2="1130.00" stroke="#000" stroke-width="1.6" />
<line x1="711.20" y1="1085.00" x2="711.20" y2="1130.00" stroke="#000" stroke-width="1.6" />
<line x1="689.30" y1="1100.00" x2="689.30" y2="1130.00" stroke="#000" stroke-width="1.6" />
<rect x="782.20" y="1164.90" width="92.20" height="3.60" fill="#000"/>
<text x="794.11" y="1203.15" font-size="34.5" >10 s</text>
<polyline points="891.8,1138.9 892.4,1140.0 893.0,1139.2 893.6,1139.7 894.2,1139.8 894.8,1140.4 895.4,1140.4 896.0,1140.8 896.6,1140.9 897.2,1141.8 897.8,1141.6 898.4,1140.3 899.0,1140.8 899.6,1140.5 900.2,1139.4 900.8,1139.6 901.4,1139.5 902.0,1139.2 902.6,1139.5 903.2,1138.7 903.8,1139.5 904.4,1139.5 905.0,1139.3 905.6,1139.2 906.2,1139.7 906.8,1139.9 907.4,1140.9 908.0,1141.1 908.6,1142.0 909.2,1141.6 909.8,1142.2 910.4,1140.7 911.0,1140.1 911.6,1139.0 912.2,1138.9 912.8,1138.6 913.4,1138.7 914.0,1138.9 914.6,1138.2 915.2,1138.3 915.8,1138.4 916.4,1137.9 917.0,1137.6 917.6,1137.1 918.2,1136.0 918.8,1134.9 919.4,1130.7 920.0,1125.4 920.6,1121.1 921.2,1098.4" fill="none" stroke="#111" stroke-width="1.3" stroke-linejoin="round" />
<polygon points="920.0,1110.0 920.0,984.0 921.0,982.0 921.8,985.0 922.6,988.0 923.4,986.0 924.2,990.0 925.0,992.0 925.8,985.0 926.4,982.0 926.9,990.0 927.2,1097.0 926.0,1102.0 924.5,1099.0 923.0,1102.0 921.8,1100.0 921.3,1112.0" fill="#000" />
<line x1="928.40" y1="976.90" x2="928.40" y2="1112.00" stroke="#8a8a8a" stroke-width="1.1" />
<line x1="928.50" y1="1070.00" x2="928.50" y2="1112.00" stroke="#111" stroke-width="1.6" />
<line x1="931.30" y1="975.70" x2="931.30" y2="1112.00" stroke="#8a8a8a" stroke-width="1.1" />
<line x1="931.40" y1="1022.00" x2="931.40" y2="1112.00" stroke="#111" stroke-width="1.6" />
<polyline points="926.9,1099.8 927.5,1102.0 928.1,1103.5 928.7,1105.6 929.3,1108.0 929.9,1108.7 930.5,1109.2 931.1,1110.6 931.7,1111.4 932.3,1112.6 932.9,1114.4 933.5,1117.6 934.1,1120.9 934.7,1122.8 935.3,1126.1 935.9,1127.1 936.5,1128.0 937.1,1128.3 937.7,1129.0 938.3,1130.0 938.9,1130.5 939.5,1131.1 940.1,1131.5 940.7,1131.0 941.3,1131.6 941.9,1130.3 942.5,1130.1 943.1,1129.6 943.7,1128.9 944.3,1128.7 944.9,1127.3 945.5,1127.3 946.1,1126.5 946.7,1128.7 947.3,1130.4 947.9,1132.4 948.5,1131.1 949.1,1129.4 949.7,1125.9 950.3,1124.6 950.9,1125.4 951.5,1126.3 952.1,1127.4 952.7,1128.0 953.3,1129.6 953.9,1130.5 954.5,1131.3 955.1,1132.9 955.7,1133.6 956.3,1134.8 956.9,1136.6 957.5,1137.1 958.1,1138.3 958.7,1137.6 959.3,1138.3 959.9,1138.5 960.5,1139.2 961.1,1138.7 961.7,1139.2 962.3,1139.3 962.9,1139.4 963.5,1139.7 964.1,1140.2 964.7,1141.3 965.3,1141.2 965.9,1141.3 966.5,1141.6 967.1,1141.7 967.7,1142.1 968.3,1142.3 968.9,1142.8 969.5,1143.1 970.1,1142.5 970.7,1143.4 971.3,1144.0 971.9,1143.5 972.5,1144.0 973.1,1144.4 973.7,1144.9 974.3,1145.0 974.9,1144.8 975.5,1144.4 976.1,1144.1" fill="none" stroke="#111" stroke-width="1.3" stroke-linejoin="round" />
<rect x="941.30" y="1164.90" width="55.60" height="3.60" fill="#000"/>
<text x="934.83" y="1203.15" font-size="34.5" >0.5 s</text>
<polyline points="1016.5,1143.0 1017.1,1143.6 1017.7,1142.4 1018.3,1141.3 1018.9,1141.1 1019.5,1141.2 1020.1,1140.8 1020.7,1141.0 1021.3,1140.6 1021.9,1141.1 1022.5,1140.4 1023.1,1140.7 1023.7,1139.3 1024.3,1139.4 1024.9,1140.0 1025.5,1139.5 1026.1,1139.8 1026.7,1139.4 1027.3,1138.8 1027.9,1140.1 1028.5,1139.7 1029.1,1138.4 1029.7,1139.5 1030.3,1140.3 1030.9,1141.1 1031.5,1141.1 1032.1,1140.8 1032.7,1142.6 1033.3,1142.4 1033.9,1143.7 1034.5,1143.6 1035.1,1144.5 1035.7,1144.8 1036.3,1144.9 1036.9,1143.4 1037.5,1143.6 1038.1,1142.4 1038.7,1140.8 1039.3,1140.7 1039.9,1140.0 1040.5,1139.8 1041.1,1139.2 1041.7,1137.4 1042.3,1139.3 1042.9,1139.5 1043.5,1139.6 1044.1,1141.4 1044.7,1141.2 1045.3,1141.2 1045.9,1142.3 1046.5,1142.3 1047.1,1141.2 1047.7,1142.1 1048.3,1142.0 1048.9,1140.9 1049.5,1142.3 1050.1,1141.0 1050.7,1141.4 1051.3,1140.0 1051.9,1142.1 1052.5,1141.5 1053.1,1142.4 1053.7,1141.3 1054.3,1143.2 1054.9,1143.6 1055.5,1144.1 1056.1,1141.4 1056.7,1143.7 1057.3,1143.8 1057.9,1141.9 1058.5,1143.5 1059.1,1144.1 1059.7,1145.2 1060.3,1144.1 1060.9,1144.6 1061.5,1144.3 1062.1,1144.4 1062.7,1143.8 1063.3,1144.4 1063.9,1144.3 1064.5,1142.7 1065.1,1144.0 1065.7,1142.7 1066.3,1142.9 1066.9,1143.5 1067.5,1142.8 1068.1,1142.9 1068.7,1142.8 1069.3,1142.6 1069.9,1141.7 1070.5,1141.2 1071.1,1141.8 1071.7,1141.5 1072.3,1140.9 1072.9,1140.2 1073.5,1140.5 1074.1,1139.6 1074.7,1138.4 1075.3,1139.1 1075.9,1138.8 1076.5,1138.6 1077.1,1137.3 1077.7,1137.0 1078.3,1137.6 1078.9,1137.6 1079.5,1138.3 1080.1,1139.3 1080.7,1139.5 1081.3,1140.8 1081.9,1140.4 1082.5,1141.7 1083.1,1141.7 1083.7,1142.9 1084.3,1141.8 1084.9,1142.0 1085.5,1143.2 1086.1,1142.4 1086.7,1142.8 1087.3,1143.6 1087.9,1144.0 1088.5,1143.2 1089.1,1144.6 1089.7,1144.5 1090.3,1145.0 1090.9,1145.5 1091.5,1145.6 1092.1,1146.7 1092.7,1146.7 1093.3,1145.7 1093.9,1144.5 1094.5,1143.6 1095.1,1142.0 1095.7,1140.9 1096.3,1138.6 1096.9,1137.3 1097.5,1137.0 1098.1,1135.6 1098.7,1136.9 1099.3,1136.8 1099.9,1136.3 1100.5,1136.1 1101.1,1137.7 1101.7,1137.2 1102.3,1137.5 1102.9,1137.3 1103.5,1139.4 1104.1,1139.0 1104.7,1139.3 1105.3,1139.9 1105.9,1140.1 1106.5,1139.2 1107.1,1138.5 1107.7,1136.9 1108.3,1134.5 1108.9,1135.5 1109.5,1134.2 1110.1,1131.2 1110.7,1127.4" fill="none" stroke="#111" stroke-width="1.2" stroke-linejoin="round" />
<polygon points="1110.6,1124.0 1111.0,980.5 1111.7,980.5 1112.3,980.5 1112.9,1002.9 1113.5,1025.3 1114.5,1042.1 1115.4,1043.6 1116.3,1042.8 1116.9,1042.3 1117.5,1042.8 1118.2,1043.9 1118.8,1042.0 1119.4,1041.6 1120.0,1041.4 1120.6,1042.2 1121.2,1043.0 1121.9,1044.3 1122.5,1042.2 1123.1,1043.8 1123.8,1044.2 1124.4,1042.9 1125.0,1043.6 1125.6,1044.9 1126.2,1043.8 1126.9,1044.9 1127.5,1044.7 1128.1,1044.4 1128.7,1045.0 1129.3,1046.3 1130.0,1046.8 1130.6,1045.9 1131.2,1046.1 1131.8,1046.5 1132.5,1048.2 1133.1,1047.1 1133.7,1048.2 1134.4,1047.9 1135.0,1049.2 1135.6,1051.0 1136.2,1050.8 1136.8,1051.1 1137.5,1052.0 1138.1,1054.3 1138.7,1053.2 1139.3,1049.6 1140.0,1046.1 1140.6,1045.2 1141.2,1042.5 1141.8,1041.2 1142.4,1039.0 1143.1,1040.8 1143.7,1044.7 1144.3,1044.7 1145.0,1045.1 1145.6,1044.6 1146.2,1044.5 1146.8,1043.2 1147.4,1041.1 1148.0,1040.7 1148.6,1037.8 1149.2,1034.9 1149.8,1032.9 1150.5,1029.4 1151.1,1027.1 1151.7,1023.9 1152.4,1024.8 1153.0,1022.4 1153.7,1022.7 1154.3,1021.0 1155.0,1020.6 1155.6,1019.5 1156.2,1018.4 1156.8,1020.9 1157.4,1017.1 1158.0,1016.0 1158.6,1018.1 1159.2,1014.4 1159.8,1012.6 1160.4,1011.4 1161.1,1009.5 1161.7,1007.9 1162.3,1005.2 1162.9,1003.0 1163.5,1004.0 1164.1,1003.1 1164.8,1002.6 1165.4,1002.8 1166.0,1002.2 1166.6,1001.6 1167.3,1001.2 1167.9,1002.3 1168.5,1000.5 1169.1,1000.2 1169.8,1000.3 1170.4,999.2 1170.4,1096.3 1169.8,1093.8 1169.1,1094.4 1168.5,1093.6 1167.9,1093.4 1167.3,1091.6 1166.6,1091.9 1166.0,1091.2 1165.4,1090.4 1164.8,1088.8 1164.2,1088.3 1163.5,1088.1 1162.9,1087.6 1162.3,1084.9 1161.7,1085.8 1161.1,1084.9 1160.4,1083.7 1159.8,1081.7 1159.2,1082.4 1158.6,1080.7 1158.0,1081.0 1157.3,1078.2 1156.7,1080.0 1156.1,1078.1 1155.5,1078.4 1154.9,1077.6 1154.2,1077.0 1153.6,1075.7 1153.0,1074.6 1152.4,1074.4 1151.8,1073.9 1151.1,1072.8 1150.5,1071.8 1149.9,1070.5 1149.3,1071.6 1148.6,1071.4 1148.0,1070.4 1147.4,1070.9 1146.8,1066.8 1146.1,1071.1 1145.5,1070.9 1144.9,1070.4 1144.3,1070.6 1143.6,1068.8 1143.0,1068.8 1142.4,1069.9 1141.8,1070.1 1141.1,1069.5 1140.5,1070.0 1139.6,1066.5 1138.7,1063.7 1138.1,1064.1 1137.5,1063.9 1136.8,1063.9 1136.2,1063.4 1135.6,1063.8 1135.0,1063.4 1134.4,1063.5 1133.7,1063.2 1133.1,1063.0 1132.5,1059.7 1131.9,1063.0 1131.3,1062.9 1130.6,1062.3 1130.0,1061.0 1129.4,1062.4 1128.8,1061.8 1128.2,1062.5 1127.5,1061.8 1126.9,1062.7 1126.3,1062.9 1125.7,1060.9 1125.0,1062.1 1124.4,1063.1 1123.8,1063.1 1123.2,1063.4 1122.5,1063.2 1121.9,1063.4 1121.3,1063.6 1120.7,1059.9 1120.0,1063.0 1119.4,1063.4 1118.8,1062.0 1118.2,1064.1 1117.5,1064.2 1116.9,1064.0 1116.3,1064.4 1115.4,1066.0 1114.8,1074.3 1114.1,1082.1 1113.5,1090.5 1112.6,1124.0" fill="#000" />
<line x1="1170.00" y1="998.12" x2="1170.00" y2="1095.80" stroke="#111" stroke-width="1.3" />
<line x1="1171.57" y1="996.65" x2="1171.57" y2="1097.37" stroke="#444" stroke-width="1.1" />
<line x1="1173.40" y1="994.93" x2="1173.40" y2="1099.20" stroke="#777" stroke-width="1.1" />
<line x1="1175.01" y1="993.42" x2="1175.01" y2="1100.81" stroke="#111" stroke-width="1.3" />
<line x1="1177.07" y1="991.49" x2="1177.07" y2="1102.87" stroke="#444" stroke-width="1.1" />
<line x1="1179.23" y1="990.08" x2="1179.23" y2="1104.45" stroke="#777" stroke-width="1.1" />
<line x1="1181.50" y1="988.95" x2="1181.50" y2="1105.81" stroke="#111" stroke-width="1.3" />
<line x1="1183.40" y1="988.00" x2="1183.40" y2="1106.94" stroke="#444" stroke-width="1.1" />
<line x1="1185.38" y1="987.01" x2="1185.38" y2="1108.11" stroke="#777" stroke-width="1.1" />
<line x1="1187.25" y1="986.09" x2="1187.25" y2="1109.22" stroke="#111" stroke-width="1.3" />
<line x1="1189.32" y1="985.67" x2="1189.32" y2="1110.04" stroke="#444" stroke-width="1.1" />
<line x1="1191.38" y1="985.25" x2="1191.38" y2="1110.86" stroke="#777" stroke-width="1.1" />
<line x1="1193.71" y1="984.77" x2="1193.71" y2="1111.79" stroke="#111" stroke-width="1.3" />
<line x1="1196.34" y1="984.23" x2="1196.34" y2="1112.83" stroke="#444" stroke-width="1.1" />
<line x1="1199.09" y1="984.20" x2="1199.09" y2="1113.68" stroke="#777" stroke-width="1.1" />
<line x1="1201.87" y1="984.20" x2="1201.87" y2="1114.52" stroke="#111" stroke-width="1.3" />
<line x1="1204.21" y1="984.20" x2="1204.21" y2="1115.22" stroke="#444" stroke-width="1.1" />
<line x1="1207.12" y1="984.20" x2="1207.12" y2="1116.10" stroke="#777" stroke-width="1.1" />
<line x1="1209.87" y1="984.20" x2="1209.87" y2="1116.92" stroke="#111" stroke-width="1.3" />
<line x1="1212.56" y1="984.20" x2="1212.56" y2="1117.73" stroke="#444" stroke-width="1.1" />
<line x1="1215.54" y1="984.20" x2="1215.54" y2="1118.59" stroke="#777" stroke-width="1.1" />
<line x1="1218.88" y1="984.20" x2="1218.88" y2="1119.27" stroke="#111" stroke-width="1.3" />
<line x1="1221.97" y1="984.20" x2="1221.97" y2="1119.90" stroke="#444" stroke-width="1.1" />
<line x1="1225.27" y1="984.20" x2="1225.27" y2="1120.57" stroke="#777" stroke-width="1.1" />
<line x1="1228.81" y1="984.20" x2="1228.81" y2="1121.29" stroke="#111" stroke-width="1.3" />
<line x1="1232.12" y1="984.20" x2="1232.12" y2="1121.96" stroke="#444" stroke-width="1.1" />
<line x1="1236.00" y1="984.20" x2="1236.00" y2="1122.51" stroke="#777" stroke-width="1.1" />
<line x1="1239.78" y1="984.20" x2="1239.78" y2="1122.88" stroke="#111" stroke-width="1.3" />
<line x1="1243.92" y1="984.20" x2="1243.92" y2="1123.28" stroke="#444" stroke-width="1.1" />
<line x1="1247.78" y1="984.20" x2="1247.78" y2="1123.65" stroke="#777" stroke-width="1.1" />
<line x1="1251.79" y1="984.20" x2="1251.79" y2="1124.04" stroke="#111" stroke-width="1.3" />
<polyline points="1168.5,1094.3 1169.7,1090.0 1170.9,1095.5 1171.3,1094.1 1172.5,1096.7 1173.1,1095.9 1174.3,1098.7 1174.7,1094.4 1175.9,1100.8 1176.8,1096.3 1178.0,1102.2 1178.9,1101.1 1180.1,1104.2 1181.2,1099.0 1182.4,1106.1 1183.1,1101.1 1184.3,1106.9 1185.1,1101.7 1186.3,1106.5 1187.0,1104.3 1188.2,1109.8 1189.0,1103.8 1190.2,1109.7 1191.1,1106.3 1192.3,1111.5 1193.4,1105.8 1194.6,1111.4 1196.0,1106.5 1197.2,1113.1 1198.8,1109.1 1200.0,1113.8 1201.6,1108.6 1202.8,1114.6 1203.9,1111.4 1205.1,1114.8 1206.8,1109.5 1208.0,1115.8 1209.6,1110.1 1210.8,1116.9 1212.3,1111.0 1213.5,1117.3 1215.2,1112.5 1216.4,1118.6 1218.6,1114.1 1219.8,1119.7 1221.7,1114.4 1222.9,1119.6 1225.0,1114.8 1226.2,1120.5 1228.5,1116.3 1229.7,1121.1 1231.8,1117.5 1233.0,1121.3 1235.7,1117.2 1236.9,1123.2 1239.5,1116.1 1240.7,1123.6 1243.6,1119.1 1244.8,1124.1 1247.5,1117.7 1248.7,1123.1 1251.5,1120.6 1252.7,1123.8" fill="none" stroke="#000" stroke-width="1.4" stroke-linejoin="round" />
<line x1="1185.00" y1="1060.00" x2="1185.00" y2="1107.89" stroke="#000" stroke-width="1.5" />
<line x1="1200.00" y1="1030.00" x2="1200.00" y2="1113.95" stroke="#000" stroke-width="1.5" />
<line x1="1208.00" y1="1060.00" x2="1208.00" y2="1116.36" stroke="#000" stroke-width="1.5" />
<line x1="1222.00" y1="1070.00" x2="1222.00" y2="1119.90" stroke="#000" stroke-width="1.5" />
<line x1="1233.00" y1="1040.00" x2="1233.00" y2="1122.14" stroke="#000" stroke-width="1.5" />
<line x1="1245.00" y1="1075.00" x2="1245.00" y2="1123.38" stroke="#000" stroke-width="1.5" />
<line x1="1256.50" y1="983.30" x2="1256.50" y2="1123.30" stroke="#8a8a8a" stroke-width="1.1" />
<line x1="1256.60" y1="1097.40" x2="1256.60" y2="1123.30" stroke="#111" stroke-width="1.7" />
<polyline points="1252.4,1124.4 1253.0,1124.7 1253.6,1122.6 1254.2,1123.4 1254.8,1123.4 1255.4,1123.7 1256.0,1123.4 1256.6,1123.4 1257.2,1125.9 1257.8,1125.6 1258.4,1129.2 1259.0,1127.4 1259.6,1127.2 1260.2,1126.0 1260.8,1127.7 1261.4,1130.1 1262.0,1131.2 1262.6,1131.3 1263.2,1131.7 1263.8,1133.6 1264.4,1133.8 1265.0,1135.0 1265.6,1134.0 1266.2,1135.2 1266.8,1135.8 1267.4,1135.3 1268.0,1136.3 1268.6,1134.8 1269.2,1134.8 1269.8,1135.4 1270.4,1136.1 1271.0,1135.4 1271.6,1135.2 1272.2,1136.1 1272.8,1135.7 1273.4,1135.2 1274.0,1135.7 1274.6,1135.4 1275.2,1136.0 1275.8,1135.7 1276.4,1135.4 1277.0,1135.9 1277.6,1136.2 1278.2,1137.1 1278.8,1137.4 1279.4,1136.9 1280.0,1137.6 1280.6,1138.2 1281.2,1139.1 1281.8,1138.8 1282.4,1140.2 1283.0,1139.2 1283.6,1140.0 1284.2,1139.6 1284.8,1139.4 1285.4,1140.3 1286.0,1140.7 1286.6,1140.8 1287.2,1140.9 1287.8,1140.8 1288.4,1140.7 1289.0,1141.2 1289.6,1141.9 1290.2,1142.5 1290.8,1139.8 1291.4,1142.6 1292.0,1143.2 1292.6,1143.5 1293.2,1143.1 1293.8,1143.5 1294.4,1142.9 1295.0,1143.4 1295.6,1144.0 1296.2,1143.1 1296.8,1143.5 1297.4,1144.4 1298.0,1143.6 1298.6,1144.7 1299.2,1143.9 1299.8,1145.1 1300.4,1145.1 1301.0,1144.8 1301.6,1144.7 1302.2,1145.1 1302.8,1144.0 1303.4,1145.3 1304.0,1145.8 1304.6,1146.6 1305.2,1145.5 1305.8,1145.9 1306.4,1147.0 1307.0,1147.3 1307.6,1146.0 1308.2,1147.1 1308.8,1147.3 1309.4,1146.9 1310.0,1146.0 1310.6,1146.1 1311.2,1147.2 1311.8,1148.5 1312.4,1146.9 1313.0,1148.2 1313.6,1148.5 1314.2,1146.4 1314.8,1146.9 1315.4,1148.4 1316.0,1148.1 1316.6,1147.9 1317.2,1147.6 1317.8,1148.1 1318.4,1147.4 1319.0,1149.6 1319.6,1147.2 1320.2,1146.8 1320.8,1148.2 1321.4,1149.1 1322.0,1147.9 1322.6,1148.3 1323.2,1147.7 1323.8,1148.4 1324.4,1147.9 1325.0,1148.0 1325.6,1147.7 1326.2,1148.4 1326.8,1150.1 1327.4,1148.9 1328.0,1149.1 1328.6,1150.6 1329.2,1148.7 1329.8,1148.6 1330.4,1149.7 1331.0,1148.6 1331.6,1149.7 1332.2,1150.3 1332.8,1148.9 1333.4,1149.3 1334.0,1150.9 1334.6,1149.1 1335.2,1149.5 1335.8,1150.2 1336.4,1149.9 1337.0,1149.6 1337.6,1151.3 1338.2,1150.0 1338.8,1150.7 1339.4,1150.2 1340.0,1150.4 1340.6,1149.8 1341.2,1151.4 1341.8,1150.5 1342.4,1151.8 1343.0,1150.2 1343.6,1150.8 1344.2,1151.5 1344.8,1151.3 1345.4,1150.9 1346.0,1151.3 1346.6,1150.6 1347.2,1151.6 1347.8,1149.9 1348.4,1151.9 1349.0,1152.7 1349.6,1152.5 1350.2,1152.6 1350.8,1151.8 1351.4,1152.5" fill="none" stroke="#111" stroke-width="1.2" stroke-linejoin="round" />
<rect x="1279.40" y="1008.40" width="3.60" height="90.10" fill="#000"/>
<text x="1292.9" y="1067.5" font-size="34.5" >40 mV</text>
<rect x="1271.70" y="1165.60" width="55.80" height="3.60" fill="#000"/>
<text x="1263.28" y="1203.55" font-size="34.5" >0.5 s</text>
<rect x="173.70" y="1302.20" width="3.20" height="437.30" fill="#000"/>
<rect x="164.30" y="1736.40" width="451.70" height="3.10" fill="#000"/>
<rect x="164.50" y="1627.92" width="10.80" height="3.00" fill="#000"/>
<rect x="164.50" y="1519.35" width="10.80" height="3.00" fill="#000"/>
<rect x="164.50" y="1410.78" width="10.80" height="3.00" fill="#000"/>
<rect x="164.50" y="1302.20" width="10.80" height="3.00" fill="#000"/>
<text x="137.43" y="1748.7" font-size="34.5" >0</text>
<text x="137.43" y="1639.95" font-size="34.5" >5</text>
<text x="118.28" y="1531.55" font-size="34.5" >10</text>
<text x="118.28" y="1422.81" font-size="34.5" >15</text>
<text x="118.28" y="1314.4" font-size="34.5" >20</text>
<text transform="translate(87.98,1628.59) rotate(-90)" font-size="34.5">Latency (min)</text>
<path d="M230.40,1738.00 V1430.70 H340.40 V1738.00" fill="#fff" stroke="#000" stroke-width="3.1" stroke-linejoin="miter"/>
<line x1="285.60" y1="1430.70" x2="285.60" y2="1418.00" stroke="#000" stroke-width="3.0" />
<line x1="279.00" y1="1418.00" x2="292.00" y2="1418.00" stroke="#000" stroke-width="3.0" />
<circle cx="262.70" cy="1411.60" r="6.7" fill="#000"/>
<circle cx="273.90" cy="1411.60" r="6.7" fill="#000"/>
<circle cx="285.10" cy="1411.60" r="6.7" fill="#000"/>
<circle cx="296.00" cy="1411.60" r="6.7" fill="#000"/>
<circle cx="306.90" cy="1411.60" r="6.7" fill="#000"/>
<circle cx="285.10" cy="1521.00" r="6.7" fill="#000"/>
<path d="M450.60,1738.00 V1704.60 H561.10 V1738.00" fill="#c00000" stroke="#000" stroke-width="3.1" stroke-linejoin="miter"/>
<line x1="505.70" y1="1704.60" x2="505.70" y2="1694.60" stroke="#000" stroke-width="3.0" />
<line x1="498.30" y1="1694.60" x2="513.20" y2="1694.60" stroke="#000" stroke-width="3.0" />
<circle cx="505.30" cy="1661.90" r="6.7" fill="#000"/>
<circle cx="505.30" cy="1675.40" r="6.7" fill="#000"/>
<circle cx="505.30" cy="1706.70" r="6.7" fill="#000"/>
<circle cx="527.70" cy="1710.40" r="6.7" fill="#000"/>
<circle cx="483.60" cy="1718.80" r="6.7" fill="#000"/>
<circle cx="516.30" cy="1720.90" r="6.7" fill="#000"/>
<circle cx="505.30" cy="1735.30" r="6.7" fill="#000"/>
<path d="M278.60,1362.30 V1348.00 H518.50 V1362.30" fill="none" stroke="#000" stroke-width="3.3" stroke-linejoin="miter"/>
<use href="#ast" transform="translate(373.50,1329.40) scale(1.08)"/>
<use href="#ast" transform="translate(390.30,1329.40) scale(1.08)"/>
<use href="#ast" transform="translate(407.40,1329.40) scale(1.08)"/>
<use href="#ast" transform="translate(424.40,1329.40) scale(1.08)"/>
<text x="264.47" y="1786.13" font-size="34.5" >Pic</text>
<text x="440.24" y="1786.13" font-size="34.5" >Pic + NA</text>
<rect x="833.60" y="1304.60" width="3.60" height="436.50" fill="#000"/>
<rect x="826.50" y="1737.80" width="453.50" height="3.30" fill="#000"/>
<rect x="826.70" y="1651.30" width="8.70" height="3.00" fill="#000"/>
<rect x="826.70" y="1564.70" width="8.70" height="3.00" fill="#000"/>
<rect x="826.70" y="1478.10" width="8.70" height="3.00" fill="#000"/>
<rect x="826.70" y="1391.50" width="8.70" height="3.00" fill="#000"/>
<rect x="826.70" y="1304.90" width="8.70" height="3.00" fill="#000"/>
<text x="798.13" y="1750.1" font-size="34.5" >0</text>
<text x="798.13" y="1663.33" font-size="34.5" >5</text>
<text x="778.98" y="1576.9" font-size="34.5" >10</text>
<text x="778.98" y="1490.13" font-size="34.5" >15</text>
<text x="778.99" y="1403.7" font-size="34.5" >20</text>
<text x="778.99" y="1317.1" font-size="34.5" >25</text>
<text transform="translate(758.44,1636.52) rotate(-90)" font-size="34.1">Number of EAs</text>
<rect x="890.00" y="1735.20" width="113.60" height="5.90" fill="#000"/>
<circle cx="923.00" cy="1738.10" r="7.0" fill="#000"/>
<circle cx="934.30" cy="1738.10" r="7.0" fill="#000"/>
<circle cx="945.30" cy="1738.10" r="7.0" fill="#000"/>
<circle cx="956.30" cy="1738.10" r="7.0" fill="#000"/>
<circle cx="967.80" cy="1738.10" r="7.0" fill="#000"/>
<circle cx="945.30" cy="1720.80" r="7.0" fill="#000"/>
<path d="M1113.50,1739.40 V1496.90 H1225.00 V1739.40" fill="#c00000" stroke="#000" stroke-width="3.1" stroke-linejoin="miter"/>
<line x1="1168.90" y1="1496.90" x2="1168.90" y2="1462.00" stroke="#000" stroke-width="3.0" />
<line x1="1162.00" y1="1462.00" x2="1176.00" y2="1462.00" stroke="#000" stroke-width="3.0" />
<circle cx="1168.10" cy="1374.40" r="7.0" fill="#000"/>
<circle cx="1168.10" cy="1391.70" r="7.0" fill="#000"/>
<circle cx="1168.10" cy="1460.60" r="7.0" fill="#000"/>
<circle cx="1168.10" cy="1548.00" r="7.0" fill="#000"/>
<circle cx="1179.80" cy="1548.00" r="7.0" fill="#000"/>
<circle cx="1168.10" cy="1564.70" r="7.0" fill="#000"/>
<circle cx="1168.10" cy="1582.50" r="7.0" fill="#000"/>
<path d="M939.50,1361.30 V1347.00 H1179.30 V1361.30" fill="none" stroke="#000" stroke-width="3.3" stroke-linejoin="miter"/>
<use href="#ast" transform="translate(1034.40,1332.30) scale(1.08)"/>
<use href="#ast" transform="translate(1051.30,1332.30) scale(1.08)"/>
<use href="#ast" transform="translate(1068.30,1332.30) scale(1.08)"/>
<use href="#ast" transform="translate(1085.40,1332.30) scale(1.08)"/>
<text x="918.97" y="1785.13" font-size="34.5" >Pic</text>
<text x="1100.84" y="1785.13" font-size="34.5" >Pic + NA</text>
<rect x="173.40" y="1881.60" width="3.40" height="435.70" fill="#000"/>
<rect x="164.30" y="2314.00" width="457.70" height="3.30" fill="#000"/>
<rect x="164.30" y="2205.97" width="10.80" height="3.00" fill="#000"/>
<rect x="164.30" y="2097.85" width="10.80" height="3.00" fill="#000"/>
<rect x="164.30" y="1989.72" width="10.80" height="3.00" fill="#000"/>
<rect x="164.30" y="1881.60" width="10.80" height="3.00" fill="#000"/>
<text x="137.03" y="2326.3" font-size="34.5" >0</text>
<text x="98.74" y="2218.18" font-size="34.5" >500</text>
<text x="79.42" y="2110.05" font-size="34.5" >1000</text>
<text x="79.42" y="2001.93" font-size="34.5" >1500</text>
<text x="79.42" y="1893.8" font-size="34.5" >2000</text>
<text transform="translate(64.13,2196.39) rotate(-90)" font-size="34.5">Duration (ms)</text>
<path d="M231.00,2315.60 V2301.10 H342.40 V2315.60" fill="#ff3333" stroke="#000" stroke-width="3.1" stroke-linejoin="miter"/>
<path d="M454.40,2315.60 V2054.40 H566.40 V2315.60" fill="#c00000" stroke="#000" stroke-width="3.1" stroke-linejoin="miter"/>
<line x1="510.80" y1="2054.40" x2="510.80" y2="2016.20" stroke="#000" stroke-width="3.0" />
<line x1="503.80" y1="2016.20" x2="517.10" y2="2016.20" stroke="#000" stroke-width="3.0" />
<line x1="285.80" y1="2288.60" x2="509.80" y2="2036.80" stroke="#000" stroke-width="3.0" />
<line x1="285.80" y1="2295.00" x2="509.80" y2="2024.70" stroke="#000" stroke-width="3.0" />
<line x1="285.80" y1="2300.00" x2="509.80" y2="1998.70" stroke="#000" stroke-width="3.0" />
<line x1="285.80" y1="2305.00" x2="509.80" y2="1990.00" stroke="#000" stroke-width="3.0" />
<line x1="285.80" y1="2310.80" x2="509.80" y2="1994.00" stroke="#000" stroke-width="3.0" />
<line x1="285.80" y1="2297.50" x2="509.80" y2="2274.50" stroke="#000" stroke-width="3.0" />
<circle cx="285.80" cy="2288.60" r="7.0" fill="#000"/>
<circle cx="509.80" cy="2036.80" r="7.0" fill="#000"/>
<circle cx="285.80" cy="2295.00" r="7.0" fill="#000"/>
<circle cx="509.80" cy="2024.70" r="7.0" fill="#000"/>
<circle cx="285.80" cy="2300.00" r="7.0" fill="#000"/>
<circle cx="509.80" cy="1998.70" r="7.0" fill="#000"/>
<circle cx="285.80" cy="2305.00" r="7.0" fill="#000"/>
<circle cx="509.80" cy="1990.00" r="7.0" fill="#000"/>
<circle cx="285.80" cy="2310.80" r="7.0" fill="#000"/>
<circle cx="509.80" cy="1994.00" r="7.0" fill="#000"/>
<circle cx="285.80" cy="2297.50" r="7.0" fill="#000"/>
<circle cx="509.80" cy="2274.50" r="7.0" fill="#000"/>
<path d="M277.00,1942.70 V1928.50 H519.90 V1942.70" fill="none" stroke="#000" stroke-width="3.3" stroke-linejoin="miter"/>
<use href="#ast" transform="translate(394.40,1910.00) scale(1.08)"/>
<use href="#ast" transform="translate(412.20,1910.00) scale(1.08)"/>
<text x="231.45" y="2359.58" font-size="34.5" >0-5 min</text>
<text x="431.85" y="2359.58" font-size="34.5" >10-15 min</text>
<rect x="833.90" y="1881.50" width="3.30" height="432.20" fill="#000"/>
<rect x="826.00" y="2310.90" width="456.40" height="2.80" fill="#000"/>
<rect x="825.00" y="2239.25" width="10.50" height="3.00" fill="#000"/>
<rect x="825.00" y="2167.70" width="10.50" height="3.00" fill="#000"/>
<rect x="825.00" y="2096.15" width="10.50" height="3.00" fill="#000"/>
<rect x="825.00" y="2024.60" width="10.50" height="3.00" fill="#000"/>
<rect x="825.00" y="1953.05" width="10.50" height="3.00" fill="#000"/>
<rect x="825.00" y="1881.50" width="10.50" height="3.00" fill="#000"/>
<text x="797.13" y="2323.0" font-size="34.5" >0</text>
<text x="777.99" y="2251.45" font-size="34.5" >20</text>
<text x="777.99" y="2179.9" font-size="34.5" >40</text>
<text x="777.99" y="2108.35" font-size="34.5" >60</text>
<text x="777.99" y="2036.8" font-size="34.5" >80</text>
<text x="758.84" y="1965.25" font-size="34.5" >100</text>
<text x="758.84" y="1893.7" font-size="34.5" >120</text>
<text transform="translate(742.67,2258.91) rotate(-90)" font-size="33.3">Number of burst firings</text>
<path d="M891.70,2312.30 V2286.60 H1003.10 V2312.30" fill="#ff3333" stroke="#000" stroke-width="3.1" stroke-linejoin="miter"/>
<line x1="947.10" y1="2286.60" x2="947.10" y2="2280.10" stroke="#000" stroke-width="3.0" />
<line x1="941.00" y1="2280.10" x2="953.50" y2="2280.10" stroke="#000" stroke-width="3.0" />
<path d="M1115.30,2312.30 V2059.60 H1226.70 V2312.30" fill="#c00000" stroke="#000" stroke-width="3.1" stroke-linejoin="miter"/>
<line x1="1170.60" y1="2059.60" x2="1170.60" y2="2012.60" stroke="#000" stroke-width="2.6" />
<line x1="1164.10" y1="2012.60" x2="1177.80" y2="2012.60" stroke="#000" stroke-width="3.0" />
<line x1="947.10" y1="2264.70" x2="1171.30" y2="2043.40" stroke="#000" stroke-width="3.0" />
<line x1="947.10" y1="2272.60" x2="1171.30" y2="2265.20" stroke="#000" stroke-width="3.0" />
<line x1="947.10" y1="2292.20" x2="1171.30" y2="1897.00" stroke="#000" stroke-width="3.0" />
<line x1="947.10" y1="2297.30" x2="1171.30" y2="1947.00" stroke="#000" stroke-width="3.0" />
<line x1="947.10" y1="2295.00" x2="1171.30" y2="2065.50" stroke="#000" stroke-width="3.0" />
<line x1="947.10" y1="2293.00" x2="1171.30" y2="2137.60" stroke="#000" stroke-width="3.0" />
<circle cx="947.10" cy="2264.70" r="7.0" fill="#000"/>
<circle cx="1171.30" cy="2043.40" r="7.0" fill="#000"/>
<circle cx="947.10" cy="2272.60" r="7.0" fill="#000"/>
<circle cx="1171.30" cy="2265.20" r="7.0" fill="#000"/>
<circle cx="947.10" cy="2292.20" r="7.0" fill="#000"/>
<circle cx="1171.30" cy="1897.00" r="7.0" fill="#000"/>
<circle cx="947.10" cy="2297.30" r="7.0" fill="#000"/>
<circle cx="1171.30" cy="1947.00" r="7.0" fill="#000"/>
<circle cx="947.10" cy="2295.00" r="7.0" fill="#000"/>
<circle cx="1171.30" cy="2065.50" r="7.0" fill="#000"/>
<circle cx="947.10" cy="2293.00" r="7.0" fill="#000"/>
<circle cx="1171.30" cy="2137.60" r="7.0" fill="#000"/>
<path d="M936.60,1882.50 V1868.20 H1179.30 V1882.50" fill="none" stroke="#000" stroke-width="3.3" stroke-linejoin="miter"/>
<use href="#ast" transform="translate(1057.70,1850.10) scale(1.08)"/>
<text x="891.05" y="2355.78" font-size="34.5" >0-5 min</text>
<text x="1093.5" y="2355.78" font-size="34.5" >10-15 min</text>
</svg></body></html>
